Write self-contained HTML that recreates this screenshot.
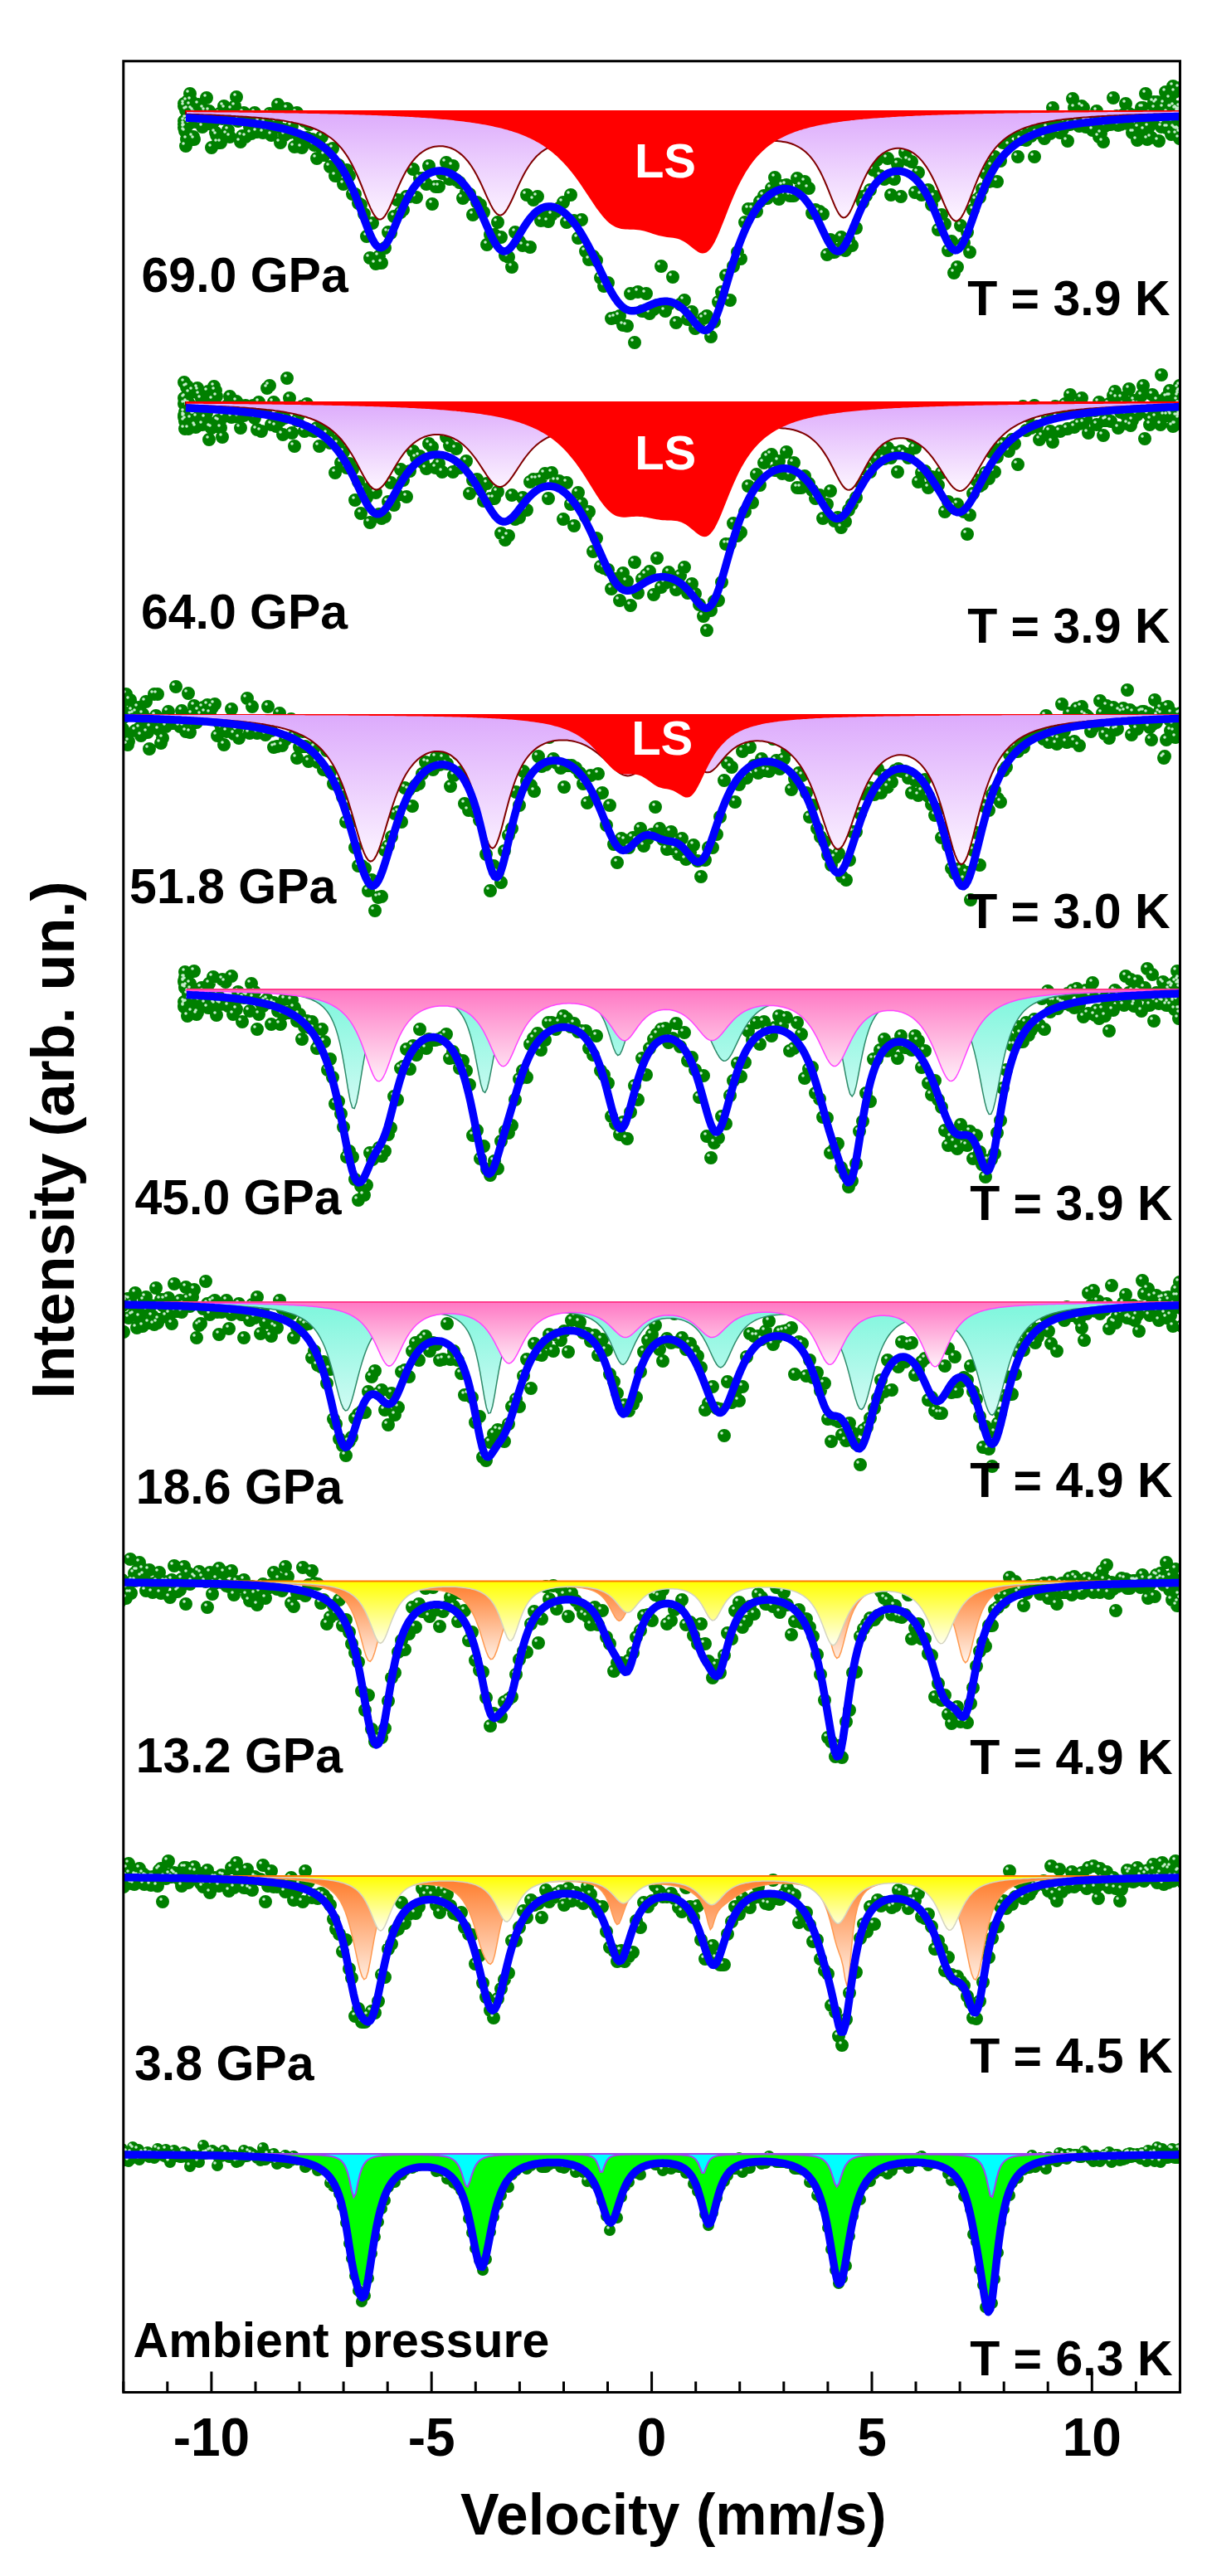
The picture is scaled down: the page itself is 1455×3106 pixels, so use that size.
<!DOCTYPE html>
<html><head><meta charset="utf-8"><style>html,body{margin:0;padding:0;background:#fff}svg{display:block;filter:blur(0.55px)}</style></head><body>
<svg width="1455" height="3106" viewBox="0 0 1455 3106" font-family="'Liberation Sans', sans-serif" font-weight="bold">
<defs>
<linearGradient id="gP" x1="0" y1="0" x2="0" y2="1"><stop offset="0" stop-color="#dcaafc"/><stop offset="1" stop-color="#fdf6ff"/></linearGradient>
<linearGradient id="gK" x1="0" y1="0" x2="0" y2="1"><stop offset="0" stop-color="#ff78c4"/><stop offset="1" stop-color="#fff0f8"/></linearGradient>
<linearGradient id="gC" x1="0" y1="0" x2="0" y2="1"><stop offset="0" stop-color="#7cf6dc"/><stop offset="1" stop-color="#d4fbf4"/></linearGradient>
<linearGradient id="gY" x1="0" y1="0" x2="0" y2="1"><stop offset="0" stop-color="#ffff00"/><stop offset="1" stop-color="#fffff4"/></linearGradient>
<linearGradient id="gO" x1="0" y1="0" x2="0" y2="1"><stop offset="0" stop-color="#ff7a28"/><stop offset="1" stop-color="#fff4ec"/></linearGradient>
<clipPath id="cp"><rect x="150" y="75" width="1271" height="2809"/></clipPath>
</defs>
<rect width="1455" height="3106" fill="#fff"/>
<g clip-path="url(#cp)">

<path d="M222 125h0m0 21h0m0 8h0m0 -4h0m0 -22h0m1 30h0m0 -5h0m0 0h0m0 0h0m1 6h0m0 17h0m0 -43h0m1 10h0m0 25h0m1 -46h0m0 25h0m1 -15h0m0 10h0m1 7h0m1 -36h0m0 14h0m1 -6h0m1 18h0m1 -7h0m1 33h0m0 -31h0m1 34h0m1 -31h0m1 10h0m1 -4h0m1 0h0m1 -17h0m2 22h0m1 1h0m1 -2h0m1 6h0m1 -22h0m2 8h0m1 -5h0m1 -16h0m2 31h0m1 -15h0m2 9h0m1 35h0m2 -31h0m1 -1h0m2 14h0m1 3h0m2 9h0m2 -35h0m1 35h0m2 -29h0m2 -15h0m2 3h0m2 31h0m1 -5h0m2 8h0m2 -33h0m2 9h0m2 -13h0m2 -11h0m2 29h0m3 25h0m2 -7h0m2 -28h0m2 29h0m2 -26h0m3 14h0m2 8h0m2 -18h0m2 -7h0m3 23h0m2 -12h0m3 -5h0m2 18h0m3 -12h0m2 9h0m3 -20h0m2 26h0m3 -25h0m3 9h0m2 -21h0m3 46h0m3 -16h0m2 7h0m3 -32h0m3 29h0m3 -8h0m3 25h0m3 -41h0m3 30h0m3 12h0m3 -32h0m3 20h0m3 -16h0m3 18h0m3 7h0m3 16h0m3 -15h0m3 -11h0m3 22h0m4 -6h0m3 20h0m3 -22h0m3 33h0m4 -13h0m3 6h0m3 17h0m4 -17h0m3 7h0m4 22h0m3 0h0m4 11h0m3 2h0m4 11h0m3 27h0m4 26h0m3 -42h0m4 49h0m4 -9h0m3 8h0m4 -18h0m4 -19h0m3 1h0m4 -20h0m4 -20h0m4 15h0m3 -3h0m4 -16h0m4 0h0m4 -33h0m4 34h0m4 -23h0m4 0h0m4 7h0m3 -22h0m4 46h0m4 -21h0m4 0h0m4 -16h0m5 -13h0m4 20h0m4 -16h0m4 17h0m4 3h0m4 19h0m4 -7h0m4 2h0m4 25h0m5 -15h0m4 3h0m4 9h0m4 39h0m4 -12h0m5 0h0m4 -15h0m4 18h0m5 22h0m4 2h0m4 12h0m4 -42h0m5 11h0m4 5h0m5 -61h0m4 63h0m4 -57h0m5 -4h0m4 29h0m5 -10h0m4 11h0m4 -8h0m5 -4h0m4 -4h0m5 -7h0m4 24h0m5 -33h0m4 31h0m5 21h0m4 -22h0m5 38h0m4 10h0m5 -4h0m4 5h0m5 21h0m4 10h0m5 -4h0m4 43h0m5 -1h0m5 -2h0m4 11h0m5 1h0m4 -39h0m5 59h0m4 -61h0m5 23h0m5 -21h0m4 24h0m5 -5h0m4 -5h0m5 -47h0m5 54h0m4 -8h0m5 -33h0m4 55h0m5 -22h0m5 -5h0m4 23h0m5 -9h0m4 20h0m5 -7h0m5 -5h0m4 -3h0m5 25h0m4 -18h0m5 -24h0m4 -12h0m5 -20h0m5 30h0m4 -41h0m5 -17h0m4 8h0m5 -44h0m4 -16h0m5 0h0m5 3h0m4 -12h0m5 -7h0m4 3h0m5 -12h0m4 -13h0m5 26h0m4 -16h0m5 -1h0m4 13h0m5 0h0m4 -21h0m5 9h0m4 -5h0m5 8h0m4 30h0m4 -4h0m5 2h0m4 3h0m5 49h0m4 -18h0m5 15h0m4 -3h0m4 -15h0m5 16h0m4 -13h0m4 7h0m5 -21h0m4 -38h0m4 7h0m4 -8h0m5 -7h0m4 -24h0m4 -12h0m4 19h0m5 4h0m4 -25h0m4 44h0m4 -19h0m4 -18h0m4 39h0m5 -53h0m4 9h0m4 2h0m4 37h0m4 -24h0m4 27h0m4 -1h0m4 -5h0m4 18h0m4 -10h0m4 40h0m4 -18h0m4 11h0m4 32h0m4 -11h0m3 38h0m4 -7h0m4 -50h0m4 21h0m4 -13h0m3 24h0m4 -51h0m4 -12h0m4 -3h0m3 -10h0m4 -19h0m4 10h0m3 -19h0m4 -11h0m3 30h0m4 -25h0m3 -22h0m4 -9h0m3 12h0m4 -17h0m3 -3h0m4 34h0m3 -21h0m3 -9h0m4 10h0m3 -13h0m3 8h0m4 25h0m3 -29h0m3 -10h0m3 -9h0m3 26h0m4 -13h0m3 7h0m3 -31h0m3 18h0m3 7h0m3 5h0m3 -4h0m3 -9h0m3 23h0m3 -20h0m3 -31h0m2 11h0m3 18h0m3 4h0m3 -24h0m2 2h0m3 23h0m3 -2h0m2 1h0m3 5h0m3 -10h0m2 -13h0m3 31h0m2 -4h0m3 10h0m2 -19h0m3 -4h0m2 1h0m2 1h0m3 -32h0m2 25h0m2 -3h0m2 11h0m3 -1h0m2 -10h0m2 -2h0m2 -13h0m2 24h0m2 -12h0m2 2h0m2 21h0m2 0h0m2 -21h0m2 30h0m2 -15h0m2 -10h0m1 -14h0m2 0h0m2 27h0m1 -44h0m2 55h0m2 -15h0m1 -16h0m2 29h0m1 -21h0m2 -22h0m1 8h0m2 -6h0m1 -2h0m2 47h0m1 -28h0m1 -4h0m1 15h0m2 -4h0m1 -19h0m1 -5h0m1 -14h0m1 43h0m1 -18h0m1 18h0m1 -14h0m1 -21h0m1 11h0m1 32h0m1 -32h0m1 17h0m0 -43h0m1 24h0m1 26h0m0 -43h0m1 45h0m1 -24h0m0 -1h0m1 31h0m0 -30h0m1 25h0m0 -22h0m0 11h0m1 10h0m0 1h0m0 -20h0m1 -31h0m0 61h0m0 -34h0m0 27h0m0 -31h0m0 6h0m0 8h0" stroke="#008000" stroke-width="16" stroke-linecap="round"/>
<path d="M220 122h0m0 21h0m0 8h0m0 -4h0m0 -22h0m0 30h0m0 -5h0m0 0h0m1 0h0m0 6h0m0 17h0m1 -43h0m0 10h0m1 25h0m0 -46h0m1 25h0m0 -15h0m1 10h0m1 7h0m0 -36h0m1 14h0m1 -6h0m0 18h0m1 -7h0m1 33h0m1 -31h0m1 34h0m1 -31h0m1 10h0m1 -4h0m1 0h0m1 -17h0m1 22h0m1 1h0m1 -2h0m2 6h0m1 -22h0m1 8h0m1 -5h0m2 -16h0m1 31h0m2 -15h0m1 9h0m2 35h0m1 -31h0m2 -1h0m1 14h0m2 3h0m1 9h0m2 -35h0m2 35h0m2 -29h0m1 -15h0m2 3h0m2 31h0m2 -5h0m2 8h0m2 -33h0m2 9h0m2 -13h0m2 -11h0m2 29h0m2 25h0m2 -7h0m2 -28h0m3 29h0m2 -26h0m2 14h0m2 8h0m3 -18h0m2 -7h0m2 23h0m3 -12h0m2 -5h0m3 18h0m2 -12h0m3 9h0m2 -20h0m3 26h0m2 -25h0m3 9h0m3 -21h0m2 46h0m3 -16h0m3 7h0m3 -32h0m3 29h0m2 -8h0m3 25h0m3 -41h0m3 30h0m3 12h0m3 -32h0m3 20h0m3 -16h0m3 18h0m3 7h0m3 16h0m3 -15h0m4 -11h0m3 22h0m3 -6h0m3 20h0m4 -22h0m3 33h0m3 -13h0m4 6h0m3 17h0m3 -17h0m4 7h0m3 22h0m4 0h0m3 11h0m4 2h0m3 11h0m4 27h0m3 26h0m4 -42h0m3 49h0m4 -9h0m4 8h0m3 -18h0m4 -19h0m4 1h0m4 -20h0m3 -20h0m4 15h0m4 -3h0m4 -16h0m4 0h0m3 -33h0m4 34h0m4 -23h0m4 0h0m4 7h0m4 -22h0m4 46h0m4 -21h0m4 0h0m4 -16h0m4 -13h0m4 20h0m4 -16h0m4 17h0m4 3h0m4 19h0m5 -7h0m4 2h0m4 25h0m4 -15h0m4 3h0m4 9h0m5 39h0m4 -12h0m4 0h0m4 -15h0m5 18h0m4 22h0m4 2h0m5 12h0m4 -42h0m4 11h0m5 5h0m4 -61h0m4 63h0m5 -57h0m4 -4h0m5 29h0m4 -10h0m4 11h0m5 -8h0m4 -4h0m5 -4h0m4 -7h0m5 24h0m4 -33h0m5 31h0m4 21h0m5 -22h0m4 38h0m5 10h0m4 -4h0m5 5h0m4 21h0m5 10h0m4 -4h0m5 43h0m4 -1h0m5 -2h0m5 11h0m4 1h0m5 -39h0m4 59h0m5 -61h0m4 23h0m5 -21h0m5 24h0m4 -5h0m5 -5h0m4 -47h0m5 54h0m5 -8h0m4 -33h0m5 55h0m4 -22h0m5 -5h0m5 23h0m4 -9h0m5 20h0m4 -7h0m5 -5h0m5 -3h0m4 25h0m5 -18h0m4 -24h0m5 -12h0m5 -20h0m4 30h0m5 -41h0m4 -17h0m5 8h0m4 -44h0m5 -16h0m5 0h0m4 3h0m5 -12h0m4 -7h0m5 3h0m4 -12h0m5 -13h0m4 26h0m5 -16h0m4 -1h0m5 13h0m4 0h0m5 -21h0m4 9h0m5 -5h0m4 8h0m5 30h0m4 -4h0m4 2h0m5 3h0m4 49h0m5 -18h0m4 15h0m4 -3h0m5 -15h0m4 16h0m4 -13h0m5 7h0m4 -21h0m4 -38h0m5 7h0m4 -8h0m4 -7h0m4 -24h0m5 -12h0m4 19h0m4 4h0m4 -25h0m5 44h0m4 -19h0m4 -18h0m4 39h0m4 -53h0m4 9h0m4 2h0m4 37h0m4 -24h0m4 27h0m4 -1h0m5 -5h0m3 18h0m4 -10h0m4 40h0m4 -18h0m4 11h0m4 32h0m4 -11h0m4 38h0m4 -7h0m4 -50h0m3 21h0m4 -13h0m4 24h0m4 -51h0m3 -12h0m4 -3h0m4 -10h0m3 -19h0m4 10h0m4 -19h0m3 -11h0m4 30h0m3 -25h0m4 -22h0m3 -9h0m4 12h0m3 -17h0m4 -3h0m3 34h0m4 -21h0m3 -9h0m3 10h0m4 -13h0m3 8h0m3 25h0m3 -29h0m4 -10h0m3 -9h0m3 26h0m3 -13h0m3 7h0m3 -31h0m3 18h0m3 7h0m3 5h0m3 -4h0m3 -9h0m3 23h0m3 -20h0m3 -31h0m3 11h0m3 18h0m2 4h0m3 -24h0m3 2h0m3 23h0m2 -2h0m3 1h0m3 5h0m2 -10h0m3 -13h0m2 31h0m3 -4h0m2 10h0m3 -19h0m2 -4h0m2 1h0m3 1h0m2 -32h0m2 25h0m3 -3h0m2 11h0m2 -1h0m2 -10h0m2 -2h0m3 -13h0m2 24h0m2 -12h0m2 2h0m2 21h0m2 0h0m1 -21h0m2 30h0m2 -15h0m2 -10h0m2 -14h0m2 0h0m1 27h0m2 -44h0m2 55h0m1 -15h0m2 -16h0m1 29h0m2 -21h0m1 -22h0m2 8h0m1 -6h0m2 -2h0m1 47h0m1 -28h0m2 -4h0m1 15h0m1 -4h0m1 -19h0m1 -5h0m2 -14h0m1 43h0m1 -18h0m1 18h0m1 -14h0m1 -21h0m1 11h0m0 32h0m1 -32h0m1 17h0m1 -43h0m1 24h0m0 26h0m1 -43h0m1 45h0m0 -24h0m1 -1h0m0 31h0m1 -30h0m0 25h0m1 -22h0m0 11h0m0 10h0m1 1h0m0 -20h0m0 -31h0m0 61h0m1 -34h0m0 27h0m0 -31h0m0 6h0m0 8h0" stroke="#c4eecb" stroke-width="3.6" stroke-linecap="round"/>
<path d="M224,133l0,4.6 2.5,0.1 2.5,0.1 2.5,0.1 2.5,0 2.5,0.1 2.5,0.1 2.5,0.1 2.5,0.1 2.5,0.1 2.5,0 2.5,0.1 2.5,0.1 2.5,0.1 2.5,0.1 2.5,0.1 2.5,0.1 2.5,0.2 2.5,0.1 2.5,0.1 2.5,0.1 2.5,0.1 2.5,0.2 2.5,0.1 2.5,0.2 2.5,0.1 2.5,0.2 2.5,0.1 2.5,0.2 2.5,0.1 2.5,0.2 2.5,0.2 2.5,0.2 2.5,0.2 2.5,0.2 2.5,0.2 2.5,0.2 2.5,0.3 2.5,0.2 2.5,0.3 2.5,0.3 2.5,0.2 2.5,0.3 2.5,0.4 2.5,0.3 2.5,0.3 2.5,0.4 2.5,0.4 2.5,0.4 2.5,0.4 2.5,0.5 2.5,0.4 2.5,0.6 2.5,0.5 2.5,0.6 2.5,0.6 2.5,0.6 2.5,0.7 2.5,0.8 2.5,0.8 2.5,0.8 2.5,0.9 2.5,1 2.5,1 2.5,1.2 2.5,1.2 2.5,1.3 2.5,1.5 2.5,1.6 2.5,1.7 2.5,1.8 2.5,2 2.5,2.2 2.5,2.4 2.5,2.7 2.5,2.9 2.5,3.1 2.5,3.5 2.5,3.8 2.5,4.1 2.5,4.5 2.5,4.9 2.5,5.3 2.5,5.6 2.5,6 2.5,6.2 2.5,6.4 2.5,6.5 2.5,6.2 2.5,5.9 2.5,5.1 2.5,4.2 2.5,2.9 2.5,1.6 2.5,0.1 2.5,-1.5 2.5,-2.8 2.5,-4 2.5,-4.8 2.5,-5.5 2.5,-5.9 2.5,-6 2.5,-5.9 2.5,-5.7 2.5,-5.5 2.5,-5 2.5,-4.7 2.5,-4.3 2.5,-3.9 2.5,-3.5 2.5,-3.1 2.5,-2.8 2.5,-2.4 2.5,-2.2 2.5,-1.9 2.5,-1.6 2.5,-1.4 2.5,-1.2 2.5,-0.9 2.5,-0.8 2.5,-0.5 2.5,-0.4 2.5,-0.2 2.5,0 2.5,0.1 2.5,0.4 2.5,0.5 2.5,0.7 2.5,0.9 2.5,1.1 2.5,1.3 2.5,1.6 2.5,1.8 2.5,2 2.5,2.3 2.5,2.7 2.5,2.9 2.5,3.3 2.5,3.7 2.5,4 2.5,4.4 2.5,4.8 2.5,5 2.5,5.4 2.5,5.6 2.5,5.6 2.5,5.4 2.5,5.2 2.5,4.6 2.5,3.7 2.5,2.7 2.5,1.4 2.5,0.1 2.5,-1.3 2.5,-2.6 2.5,-3.7 2.5,-4.5 2.5,-5.1 2.5,-5.4 2.5,-5.7 2.5,-5.5 2.5,-5.4 2.5,-5.1 2.5,-4.9 2.5,-4.4 2.5,-4.1 2.5,-3.7 2.5,-3.4 2.5,-3 2.5,-2.8 2.5,-2.4 2.5,-2.2 2.5,-1.9 2.5,-1.7 2.5,-1.5 2.5,-1.3 2.5,-1.1 2.5,-1 2.5,-0.7 2.5,-0.7 2.5,-0.4 2.5,-0.4 2.5,-0.2 2.5,0 2.5,0.1 2.5,0.2 2.5,0.3 2.5,0.5 2.5,0.7 2.5,0.8 2.5,0.9 2.5,1.1 2.5,1.2 2.5,1.3 2.5,1.4 2.5,1.4 2.5,1.5 2.5,1.4 2.5,1.3 2.5,1.1 2.5,0.8 2.5,0.4 2.5,0.1 2.5,-0.3 2.5,-0.7 2.5,-0.9 2.5,-1.2 2.5,-1.4 2.5,-1.4 2.5,-1.4 2.5,-1.4 2.5,-1.4 2.5,-1.2 2.5,-1.2 2.5,-1 2.5,-1 2.5,-0.8 2.5,-0.7 2.5,-0.6 2.5,-0.5 2.5,-0.5 2.5,-0.3 2.5,-0.3 2.5,-0.2 2.5,-0.2 2.5,-0.1 2.5,0 2.5,0 2.5,0 2.5,0.1 2.5,0.2 2.5,0.1 2.5,0.3 2.5,0.2 2.5,0.3 2.5,0.4 2.5,0.4 2.5,0.4 2.5,0.4 2.5,0.5 2.5,0.5 2.5,0.6 2.5,0.5 2.5,0.6 2.5,0.7 2.5,0.6 2.5,0.6 2.5,0.7 2.5,0.6 2.5,0.6 2.5,0.6 2.5,0.5 2.5,0.5 2.5,0.4 2.5,0.3 2.5,0.2 2.5,0.1 2.5,0 2.5,0 2.5,-0.2 2.5,-0.4 2.5,-0.4 2.5,-0.5 2.5,-0.5 2.5,-0.7 2.5,-0.7 2.5,-0.7 2.5,-0.7 2.5,-0.8 2.5,-0.8 2.5,-0.7 2.5,-0.8 2.5,-0.7 2.5,-0.6 2.5,-0.7 2.5,-0.6 2.5,-0.5 2.5,-0.5 2.5,-0.4 2.5,-0.3 2.5,-0.3 2.5,-0.2 2.5,-0.2 2.5,-0.1 2.5,0 2.5,0.1 2.5,0.2 2.5,0.2 2.5,0.4 2.5,0.4 2.5,0.5 2.5,0.7 2.5,0.8 2.5,0.9 2.5,1.1 2.5,1.3 2.5,1.4 2.5,1.6 2.5,1.9 2.5,2.1 2.5,2.3 2.5,2.7 2.5,3 2.5,3.4 2.5,3.7 2.5,4.2 2.5,4.6 2.5,5.1 2.5,5.5 2.5,5.9 2.5,6.1 2.5,6.4 2.5,6.2 2.5,5.9 2.5,5.3 2.5,4.3 2.5,2.9 2.5,1.3 2.5,-0.3 2.5,-2 2.5,-3.5 2.5,-4.7 2.5,-5.5 2.5,-6 2.5,-6.3 2.5,-6.2 2.5,-5.9 2.5,-5.6 2.5,-5.2 2.5,-4.8 2.5,-4.2 2.5,-3.9 2.5,-3.3 2.5,-3 2.5,-2.7 2.5,-2.2 2.5,-2 2.5,-1.6 2.5,-1.4 2.5,-1.1 2.5,-0.9 2.5,-0.6 2.5,-0.5 2.5,-0.2 2.5,0 2.5,0.2 2.5,0.5 2.5,0.6 2.5,0.8 2.5,1.1 2.5,1.4 2.5,1.5 2.5,1.9 2.5,2.1 2.5,2.5 2.5,2.8 2.5,3.1 2.5,3.5 2.5,3.9 2.5,4.3 2.5,4.7 2.5,5.1 2.5,5.5 2.5,5.7 2.5,6 2.5,6 2.5,5.8 2.5,5.5 2.5,4.9 2.5,3.9 2.5,2.8 2.5,1.5 2.5,-0.1 2.5,-1.6 2.5,-2.9 2.5,-4.2 2.5,-5.2 2.5,-5.8 2.5,-6.3 2.5,-6.5 2.5,-6.4 2.5,-6.3 2.5,-6.1 2.5,-5.7 2.5,-5.3 2.5,-5 2.5,-4.5 2.5,-4.2 2.5,-3.9 2.5,-3.5 2.5,-3.2 2.5,-3 2.5,-2.7 2.5,-2.4 2.5,-2.3 2.5,-2 2.5,-1.9 2.5,-1.8 2.5,-1.6 2.5,-1.4 2.5,-1.4 2.5,-1.3 2.5,-1.1 2.5,-1.1 2.5,-1 2.5,-0.9 2.5,-0.9 2.5,-0.8 2.5,-0.8 2.5,-0.7 2.5,-0.6 2.5,-0.7 2.5,-0.6 2.5,-0.5 2.5,-0.5 2.5,-0.5 2.5,-0.5 2.5,-0.4 2.5,-0.4 2.5,-0.4 2.5,-0.4 2.5,-0.4 2.5,-0.3 2.5,-0.3 2.5,-0.3 2.5,-0.3 2.5,-0.3 2.5,-0.3 2.5,-0.2 2.5,-0.3 2.5,-0.2 2.5,-0.2 2.5,-0.2 2.5,-0.2 2.5,-0.2 2.5,-0.2 2.5,-0.2 2.5,-0.2 2.5,-0.1 2.5,-0.2 2.5,-0.2 2.5,-0.1 2.5,-0.2 2.5,-0.1 2.5,-0.1 2.5,-0.2 2.5,-0.1 2.5,-0.1 2.5,-0.1 2.5,-0.1 2.5,-0.1 2.5,-0.2 2.5,-0.1 2.5,-0.1 2.5,-0.1 2.5,-0.1 2.5,0 2.5,-0.1 2.5,-0.1 2.5,-0.1 2.5,-0.1 2.5,-0.1 2.5,0 2.5,-0.1 2.5,-0.1 2.5,-0.1 2.5,0 2.5,-0.1 2.5,-0.1 2.5,0 2.5,-0.1 2.5,-0.1 2.5,0 2.5,-0.1 2.5,0 2.5,-0.1 2.5,-0.1 2.5,0 2.5,-0.1 2.5,0 1,0 0,-3.9" fill="url(#gP)" stroke="#800000" stroke-width="2"/>
<path d="M224,133l0,2.1 2.5,0 2.5,0 2.5,0 2.5,0.1 2.5,0 2.5,0 2.5,0 2.5,0 2.5,0.1 2.5,0 2.5,0 2.5,0 2.5,0 2.5,0.1 2.5,0 2.5,0 2.5,0 2.5,0.1 2.5,0 2.5,0 2.5,0 2.5,0.1 2.5,0 2.5,0 2.5,0 2.5,0.1 2.5,0 2.5,0 2.5,0 2.5,0.1 2.5,0 2.5,0 2.5,0.1 2.5,0 2.5,0 2.5,0.1 2.5,0 2.5,0 2.5,0.1 2.5,0 2.5,0 2.5,0.1 2.5,0 2.5,0 2.5,0.1 2.5,0 2.5,0 2.5,0.1 2.5,0 2.5,0.1 2.5,0 2.5,0.1 2.5,0 2.5,0 2.5,0.1 2.5,0 2.5,0.1 2.5,0 2.5,0.1 2.5,0 2.5,0.1 2.5,0 2.5,0.1 2.5,0 2.5,0.1 2.5,0 2.5,0.1 2.5,0 2.5,0.1 2.5,0.1 2.5,0 2.5,0.1 2.5,0 2.5,0.1 2.5,0.1 2.5,0 2.5,0.1 2.5,0.1 2.5,0 2.5,0.1 2.5,0.1 2.5,0.1 2.5,0 2.5,0.1 2.5,0.1 2.5,0.1 2.5,0.1 2.5,0 2.5,0.1 2.5,0.1 2.5,0.1 2.5,0.1 2.5,0.1 2.5,0.1 2.5,0.1 2.5,0.1 2.5,0.1 2.5,0.1 2.5,0.1 2.5,0.2 2.5,0.1 2.5,0.1 2.5,0.1 2.5,0.1 2.5,0.2 2.5,0.1 2.5,0.1 2.5,0.2 2.5,0.1 2.5,0.2 2.5,0.1 2.5,0.2 2.5,0.2 2.5,0.1 2.5,0.2 2.5,0.2 2.5,0.1 2.5,0.2 2.5,0.2 2.5,0.2 2.5,0.2 2.5,0.2 2.5,0.3 2.5,0.2 2.5,0.2 2.5,0.2 2.5,0.3 2.5,0.2 2.5,0.3 2.5,0.3 2.5,0.3 2.5,0.2 2.5,0.3 2.5,0.4 2.5,0.3 2.5,0.3 2.5,0.3 2.5,0.4 2.5,0.4 2.5,0.4 2.5,0.4 2.5,0.4 2.5,0.4 2.5,0.4 2.5,0.5 2.5,0.5 2.5,0.5 2.5,0.5 2.5,0.6 2.5,0.5 2.5,0.6 2.5,0.6 2.5,0.7 2.5,0.6 2.5,0.7 2.5,0.8 2.5,0.7 2.5,0.8 2.5,0.9 2.5,0.8 2.5,0.9 2.5,1 2.5,1 2.5,1.1 2.5,1.1 2.5,1.1 2.5,1.3 2.5,1.2 2.5,1.4 2.5,1.4 2.5,1.5 2.5,1.5 2.5,1.7 2.5,1.7 2.5,1.9 2.5,1.9 2.5,2 2.5,2.1 2.5,2.2 2.5,2.4 2.5,2.4 2.5,2.6 2.5,2.7 2.5,2.8 2.5,3 2.5,3.1 2.5,3.2 2.5,3.3 2.5,3.4 2.5,3.6 2.5,3.6 2.5,3.7 2.5,3.8 2.5,3.8 2.5,3.8 2.5,3.7 2.5,3.7 2.5,3.7 2.5,3.4 2.5,3.3 2.5,3.1 2.5,2.9 2.5,2.6 2.5,2.2 2.5,2 2.5,1.7 2.5,1.3 2.5,1.1 2.5,0.8 2.5,0.6 2.5,0.4 2.5,0.2 2.5,0.1 2.5,0.1 2.5,0.1 2.5,0 2.5,0.2 2.5,0.2 2.5,0.4 2.5,0.4 2.5,0.6 2.5,0.7 2.5,0.7 2.5,0.8 2.5,0.9 2.5,0.8 2.5,0.8 2.5,0.7 2.5,0.6 2.5,0.5 2.5,0.4 2.5,0.4 2.5,0.3 2.5,0.3 2.5,0.3 2.5,0.4 2.5,0.6 2.5,0.8 2.5,1.1 2.5,1.3 2.5,1.5 2.5,1.8 2.5,1.9 2.5,2 2.5,2 2.5,1.9 2.5,1.6 2.5,1.2 2.5,0.6 2.5,-0.2 2.5,-0.9 2.5,-1.8 2.5,-2.7 2.5,-3.6 2.5,-4.4 2.5,-5.1 2.5,-5.6 2.5,-6.1 2.5,-6.3 2.5,-6.4 2.5,-6.4 2.5,-6.4 2.5,-6.2 2.5,-5.9 2.5,-5.7 2.5,-5.5 2.5,-5.1 2.5,-4.8 2.5,-4.5 2.5,-4.3 2.5,-3.9 2.5,-3.7 2.5,-3.5 2.5,-3.2 2.5,-3 2.5,-2.8 2.5,-2.6 2.5,-2.4 2.5,-2.3 2.5,-2.1 2.5,-2 2.5,-1.9 2.5,-1.7 2.5,-1.7 2.5,-1.5 2.5,-1.5 2.5,-1.3 2.5,-1.3 2.5,-1.2 2.5,-1.2 2.5,-1.1 2.5,-1 2.5,-0.9 2.5,-1 2.5,-0.8 2.5,-0.9 2.5,-0.7 2.5,-0.8 2.5,-0.7 2.5,-0.7 2.5,-0.6 2.5,-0.6 2.5,-0.6 2.5,-0.6 2.5,-0.5 2.5,-0.5 2.5,-0.5 2.5,-0.5 2.5,-0.4 2.5,-0.5 2.5,-0.4 2.5,-0.4 2.5,-0.4 2.5,-0.3 2.5,-0.4 2.5,-0.3 2.5,-0.4 2.5,-0.3 2.5,-0.3 2.5,-0.3 2.5,-0.3 2.5,-0.2 2.5,-0.3 2.5,-0.3 2.5,-0.2 2.5,-0.2 2.5,-0.3 2.5,-0.2 2.5,-0.2 2.5,-0.2 2.5,-0.2 2.5,-0.2 2.5,-0.2 2.5,-0.2 2.5,-0.2 2.5,-0.1 2.5,-0.2 2.5,-0.2 2.5,-0.1 2.5,-0.2 2.5,-0.1 2.5,-0.2 2.5,-0.1 2.5,-0.2 2.5,-0.1 2.5,-0.1 2.5,-0.2 2.5,-0.1 2.5,-0.1 2.5,-0.1 2.5,-0.1 2.5,-0.2 2.5,-0.1 2.5,-0.1 2.5,-0.1 2.5,-0.1 2.5,-0.1 2.5,-0.1 2.5,-0.1 2.5,-0.1 2.5,0 2.5,-0.1 2.5,-0.1 2.5,-0.1 2.5,-0.1 2.5,-0.1 2.5,0 2.5,-0.1 2.5,-0.1 2.5,-0.1 2.5,0 2.5,-0.1 2.5,-0.1 2.5,0 2.5,-0.1 2.5,-0.1 2.5,0 2.5,-0.1 2.5,-0.1 2.5,0 2.5,-0.1 2.5,0 2.5,-0.1 2.5,0 2.5,-0.1 2.5,0 2.5,-0.1 2.5,0 2.5,-0.1 2.5,0 2.5,-0.1 2.5,0 2.5,-0.1 2.5,0 2.5,-0.1 2.5,0 2.5,-0.1 2.5,0 2.5,0 2.5,-0.1 2.5,0 2.5,-0.1 2.5,0 2.5,0 2.5,-0.1 2.5,0 2.5,0 2.5,-0.1 2.5,0 2.5,-0.1 2.5,0 2.5,0 2.5,-0.1 2.5,0 2.5,0 2.5,0 2.5,-0.1 2.5,0 2.5,0 2.5,-0.1 2.5,0 2.5,0 2.5,0 2.5,-0.1 2.5,0 2.5,0 2.5,-0.1 2.5,0 2.5,0 2.5,0 2.5,-0.1 2.5,0 2.5,0 2.5,0 2.5,0 2.5,-0.1 2.5,0 2.5,0 2.5,0 2.5,-0.1 2.5,0 2.5,0 2.5,0 2.5,0 2.5,-0.1 2.5,0 2.5,0 2.5,0 2.5,0 2.5,-0.1 2.5,0 2.5,0 2.5,0 2.5,0 2.5,0 2.5,-0.1 2.5,0 2.5,0 2.5,0 2.5,0 2.5,0 2.5,-0.1 2.5,0 2.5,0 2.5,0 2.5,0 2.5,0 2.5,-0.1 2.5,0 2.5,0 2.5,0 2.5,0 2.5,0 2.5,0 2.5,0 2.5,-0.1 2.5,0 2.5,0 2.5,0 1,0 0,-1.6" fill="#ff0000"/>
<text x="802.0" y="214.0" font-size="58" fill="#fff" text-anchor="middle">LS</text>
<path d="M224,142.1l2.5,0.1 2.5,0.1 2.5,0.2 2.5,0.1 2.5,0.2 2.5,0.1 2.5,0.1 2.5,0.2 2.5,0.1 2.5,0.2 2.5,0.2 2.5,0.1 2.5,0.2 2.5,0.2 2.5,0.2 2.5,0.1 2.5,0.2 2.5,0.2 2.5,0.2 2.5,0.2 2.5,0.3 2.5,0.2 2.5,0.2 2.5,0.3 2.5,0.2 2.5,0.3 2.5,0.2 2.5,0.3 2.5,0.3 2.5,0.3 2.5,0.3 2.5,0.3 2.5,0.3 2.5,0.4 2.5,0.3 2.5,0.4 2.5,0.4 2.5,0.4 2.5,0.4 2.5,0.4 2.5,0.5 2.5,0.5 2.5,0.5 2.5,0.5 2.5,0.5 2.5,0.6 2.5,0.6 2.5,0.6 2.5,0.7 2.5,0.7 2.5,0.7 2.5,0.8 2.5,0.9 2.5,0.8 2.5,0.9 2.5,1 2.5,1.1 2.5,1.1 2.5,1.2 2.5,1.2 2.5,1.3 2.5,1.5 2.5,1.5 2.5,1.6 2.5,1.8 2.5,1.9 2.5,2 2.5,2.2 2.5,2.4 2.5,2.5 2.5,2.8 2.5,2.9 2.5,3.3 2.5,3.4 2.5,3.8 2.5,4 2.5,4.4 2.5,4.7 2.5,5.1 2.5,5.4 2.5,5.8 2.5,6.1 2.5,6.5 2.5,6.6 2.5,6.9 2.5,6.9 2.5,6.7 2.5,6.5 2.5,6 2.5,5.3 2.5,4.4 2.5,3.2 2.5,1.9 2.5,0.5 2.5,-0.8 2.5,-2.1 2.5,-3.3 2.5,-4.3 2.5,-5 2.5,-5.6 2.5,-5.9 2.5,-6 2.5,-5.9 2.5,-5.8 2.5,-5.6 2.5,-5.2 2.5,-4.9 2.5,-4.5 2.5,-4.1 2.5,-3.8 2.5,-3.3 2.5,-3 2.5,-2.7 2.5,-2.3 2.5,-2 2.5,-1.8 2.5,-1.4 2.5,-1.2 2.5,-0.9 2.5,-0.6 2.5,-0.5 2.5,-0.2 2.5,0.1 2.5,0.2 2.5,0.5 2.5,0.7 2.5,0.9 2.5,1.2 2.5,1.4 2.5,1.7 2.5,1.9 2.5,2.1 2.5,2.5 2.5,2.7 2.5,3 2.5,3.4 2.5,3.6 2.5,4 2.5,4.4 2.5,4.6 2.5,4.9 2.5,5.2 2.5,5.5 2.5,5.6 2.5,5.6 2.5,5.7 2.5,5.4 2.5,5.1 2.5,4.6 2.5,4 2.5,3.1 2.5,2.1 2.5,1.2 2.5,0 2.5,-0.9 2.5,-1.8 2.5,-2.7 2.5,-3.3 2.5,-3.7 2.5,-4.1 2.5,-4.1 2.5,-4.2 2.5,-4.1 2.5,-3.9 2.5,-3.6 2.5,-3.3 2.5,-3 2.5,-2.6 2.5,-2.3 2.5,-1.9 2.5,-1.6 2.5,-1.2 2.5,-0.9 2.5,-0.5 2.5,-0.2 2.5,0 2.5,0.4 2.5,0.7 2.5,0.9 2.5,1.2 2.5,1.5 2.5,1.8 2.5,2 2.5,2.3 2.5,2.6 2.5,2.7 2.5,3.1 2.5,3.3 2.5,3.5 2.5,3.8 2.5,4 2.5,4.3 2.5,4.4 2.5,4.6 2.5,4.9 2.5,4.9 2.5,5.1 2.5,5.2 2.5,5.3 2.5,5.2 2.5,5.3 2.5,5.1 2.5,5 2.5,4.8 2.5,4.5 2.5,4.3 2.5,3.9 2.5,3.5 2.5,3 2.5,2.6 2.5,2.2 2.5,1.6 2.5,1.2 2.5,0.8 2.5,0.3 2.5,0 2.5,-0.3 2.5,-0.6 2.5,-0.8 2.5,-0.9 2.5,-1.1 2.5,-1.1 2.5,-1.1 2.5,-1.1 2.5,-1.1 2.5,-0.9 2.5,-0.8 2.5,-0.7 2.5,-0.6 2.5,-0.3 2.5,-0.2 2.5,0.1 2.5,0.3 2.5,0.5 2.5,0.8 2.5,1.1 2.5,1.3 2.5,1.7 2.5,1.9 2.5,2.2 2.5,2.5 2.5,2.8 2.5,3 2.5,3 2.5,3.2 2.5,3 2.5,2.7 2.5,2.4 2.5,1.7 2.5,0.8 2.5,-0.1 2.5,-1.2 2.5,-2.4 2.5,-3.7 2.5,-4.9 2.5,-5.9 2.5,-6.9 2.5,-7.5 2.5,-8.1 2.5,-8.4 2.5,-8.5 2.5,-8.5 2.5,-8.3 2.5,-8.1 2.5,-7.7 2.5,-7.4 2.5,-7 2.5,-6.5 2.5,-6.1 2.5,-5.8 2.5,-5.3 2.5,-4.9 2.5,-4.5 2.5,-4.2 2.5,-3.8 2.5,-3.6 2.5,-3.2 2.5,-2.9 2.5,-2.6 2.5,-2.4 2.5,-2.1 2.5,-1.8 2.5,-1.6 2.5,-1.4 2.5,-1.1 2.5,-0.9 2.5,-0.7 2.5,-0.4 2.5,-0.2 2.5,0.1 2.5,0.4 2.5,0.6 2.5,0.9 2.5,1.2 2.5,1.5 2.5,1.8 2.5,2.1 2.5,2.5 2.5,2.9 2.5,3.3 2.5,3.6 2.5,4 2.5,4.4 2.5,4.7 2.5,5 2.5,5.3 2.5,5.3 2.5,5.3 2.5,5.1 2.5,4.7 2.5,4.1 2.5,3.3 2.5,2.2 2.5,1.1 2.5,-0.2 2.5,-1.4 2.5,-2.7 2.5,-3.8 2.5,-4.6 2.5,-5.3 2.5,-5.8 2.5,-6 2.5,-6.2 2.5,-6 2.5,-5.9 2.5,-5.6 2.5,-5.3 2.5,-4.9 2.5,-4.5 2.5,-4.2 2.5,-3.8 2.5,-3.4 2.5,-3.1 2.5,-2.7 2.5,-2.4 2.5,-2.1 2.5,-1.8 2.5,-1.5 2.5,-1.3 2.5,-0.9 2.5,-0.8 2.5,-0.4 2.5,-0.2 2.5,0 2.5,0.3 2.5,0.6 2.5,0.8 2.5,1.1 2.5,1.3 2.5,1.7 2.5,2 2.5,2.3 2.5,2.7 2.5,3 2.5,3.4 2.5,3.8 2.5,4.2 2.5,4.6 2.5,5 2.5,5.4 2.5,5.8 2.5,6 2.5,6.2 2.5,6.3 2.5,6.2 2.5,5.9 2.5,5.4 2.5,4.6 2.5,3.7 2.5,2.4 2.5,1 2.5,-0.4 2.5,-1.8 2.5,-3.2 2.5,-4.5 2.5,-5.4 2.5,-6.2 2.5,-6.8 2.5,-7 2.5,-7.2 2.5,-7.1 2.5,-6.9 2.5,-6.7 2.5,-6.3 2.5,-6 2.5,-5.6 2.5,-5.3 2.5,-4.8 2.5,-4.5 2.5,-4.2 2.5,-3.8 2.5,-3.6 2.5,-3.3 2.5,-3 2.5,-2.8 2.5,-2.6 2.5,-2.4 2.5,-2.2 2.5,-2.1 2.5,-1.9 2.5,-1.8 2.5,-1.6 2.5,-1.6 2.5,-1.4 2.5,-1.4 2.5,-1.2 2.5,-1.2 2.5,-1.1 2.5,-1.1 2.5,-1 2.5,-0.9 2.5,-0.9 2.5,-0.8 2.5,-0.8 2.5,-0.7 2.5,-0.7 2.5,-0.7 2.5,-0.6 2.5,-0.6 2.5,-0.6 2.5,-0.5 2.5,-0.6 2.5,-0.4 2.5,-0.5 2.5,-0.5 2.5,-0.4 2.5,-0.4 2.5,-0.4 2.5,-0.4 2.5,-0.4 2.5,-0.3 2.5,-0.4 2.5,-0.3 2.5,-0.3 2.5,-0.3 2.5,-0.3 2.5,-0.3 2.5,-0.2 2.5,-0.3 2.5,-0.2 2.5,-0.3 2.5,-0.2 2.5,-0.2 2.5,-0.3 2.5,-0.2 2.5,-0.2 2.5,-0.2 2.5,-0.2 2.5,-0.2 2.5,-0.2 2.5,-0.1 2.5,-0.2 2.5,-0.2 2.5,-0.1 2.5,-0.2 2.5,-0.1 2.5,-0.2 2.5,-0.1 2.5,-0.2 2.5,-0.1 2.5,-0.2 2.5,-0.1 2.5,-0.1 2.5,-0.1 2.5,-0.2 2.5,-0.1 2.5,-0.1 2.5,-0.1 2.5,-0.1 2.5,-0.1 2.5,-0.1 2.5,-0.1 2.5,-0.1 2.5,-0.1 2.5,-0.1 2.5,-0.1 2.5,-0.1 2.5,-0.1 2.5,-0.1 1,0" fill="none" stroke="#0000ff" stroke-width="9.5" stroke-linejoin="round"/>
<path d="M222 480h0m0 -19h0m0 40h0m0 2h0m0 -16h0m1 10h0m0 20h0m0 -9h0m0 -6h0m1 0h0m0 -23h0m0 27h0m1 -39h0m0 20h0m1 -2h0m0 -19h0m1 24h0m0 27h0m1 -30h0m1 -13h0m0 17h0m1 14h0m1 -10h0m1 -3h0m1 -21h0m0 29h0m1 0h0m1 13h0m1 2h0m1 -12h0m1 -35h0m1 3h0m2 5h0m1 21h0m1 -16h0m1 31h0m1 -15h0m2 1h0m1 6h0m1 -6h0m2 -26h0m1 58h0m2 -15h0m1 1h0m2 -34h0m1 -16h0m2 5h0m1 7h0m2 29h0m2 1h0m1 8h0m2 11h0m2 -25h0m2 -2h0m2 -11h0m1 1h0m2 -12h0m2 25h0m2 -3h0m2 -10h0m2 -6h0m2 19h0m3 13h0m2 -18h0m2 3h0m2 -12h0m2 4h0m3 0h0m2 0h0m2 -4h0m2 15h0m3 14h0m2 -33h0m3 35h0m2 -26h0m3 1h0m2 -27h0m3 -3h0m2 47h0m3 -27h0m3 29h0m2 -10h0m3 3h0m3 17h0m2 -20h0m3 -48h0m3 24h0m3 42h0m3 16h0m3 -31h0m3 -8h0m3 -9h0m3 30h0m3 -33h0m3 9h0m3 23h0m3 1h0m3 -4h0m3 22h0m3 -32h0m3 3h0m4 14h0m3 11h0m3 -3h0m3 39h0m4 -35h0m3 23h0m3 -13h0m4 19h0m3 -5h0m4 7h0m3 37h0m4 -22h0m3 38h0m4 -29h0m3 10h0m4 30h0m3 -50h0m4 14h0m4 26h0m3 5h0m4 -2h0m4 -18h0m3 -23h0m4 27h0m4 -12h0m4 -31h0m3 13h0m4 20h0m4 -31h0m4 -24h0m4 8h0m4 -2h0m4 8h0m4 7h0m3 -30h0m4 4h0m4 25h0m4 -5h0m4 10h0m5 -42h0m4 10h0m4 32h0m4 -28h0m4 23h0m4 -2h0m4 -6h0m4 39h0m4 -16h0m5 -1h0m4 12h0m4 14h0m4 -21h0m4 18h0m5 0h0m4 -8h0m4 50h0m5 8h0m4 -5h0m4 -49h0m4 29h0m5 -2h0m4 -24h0m5 15h0m4 -34h0m4 -3h0m5 0h0m4 -1h0m5 -6h0m4 30h0m4 -31h0m5 10h0m4 0h0m5 46h0m4 -44h0m5 26h0m4 26h0m5 -40h0m4 13h0m5 16h0m4 -6h0m5 48h0m4 -16h0m5 34h0m4 2h0m5 2h0m4 23h0m5 -12h0m5 26h0m4 -33h0m5 10h0m4 29h0m5 -52h0m4 37h0m5 -17h0m5 -5h0m4 -4h0m5 28h0m4 -44h0m5 35h0m5 -5h0m4 -13h0m5 7h0m4 14h0m5 -17h0m5 -10h0m4 31h0m5 -11h0m4 12h0m5 13h0m5 14h0m4 17h0m5 -24h0m4 -11h0m5 -1h0m4 -22h0m5 -46h0m5 0h0m4 -25h0m5 15h0m4 -4h0m5 -25h0m4 -31h0m5 20h0m5 -34h0m4 13h0m5 -27h0m4 -7h0m5 -3h0m4 19h0m5 -11h0m4 15h0m5 -26h0m4 28h0m5 -15h0m4 30h0m5 0h0m4 -14h0m5 9h0m4 8h0m4 10h0m5 -4h0m4 28h0m5 -17h0m4 -16h0m5 36h0m4 -4h0m4 12h0m5 -7h0m4 -14h0m4 -7h0m5 -8h0m4 -19h0m4 -16h0m4 -1h0m5 5h0m4 -38h0m4 23h0m4 -11h0m5 10h0m4 -13h0m4 12h0m4 -6h0m4 23h0m4 -25h0m5 3h0m4 5h0m4 -26h0m4 14h0m4 41h0m4 -11h0m4 -2h0m4 20h0m4 -13h0m4 5h0m4 5h0m4 -15h0m4 47h0m4 -12h0m4 7h0m3 -1h0m4 -3h0m4 -24h0m4 33h0m4 27h0m3 -23h0m4 -26h0m4 -16h0m4 7h0m3 -2h0m4 -14h0m4 7h0m3 -32h0m4 24h0m3 -18h0m4 -15h0m3 -1h0m4 6h0m3 3h0m4 -14h0m3 5h0m4 25h0m3 -63h0m3 -7h0m4 29h0m3 -17h0m3 14h0m4 -27h0m3 25h0m3 16h0m3 -4h0m3 -34h0m4 11h0m3 17h0m3 13h0m3 -43h0m3 1h0m3 29h0m3 -23h0m3 -10h0m3 30h0m3 -41h0m3 14h0m2 25h0m3 -25h0m3 21h0m3 -31h0m2 30h0m3 -5h0m3 17h0m2 -28h0m3 -2h0m3 3h0m2 17h0m3 -27h0m2 9h0m3 31h0m2 -18h0m3 -1h0m2 -19h0m2 21h0m3 -31h0m2 -5h0m2 8h0m2 36h0m3 -19h0m2 -17h0m2 8h0m2 12h0m2 11h0m2 -42h0m2 44h0m2 -6h0m2 -24h0m2 4h0m2 13h0m2 -12h0m2 7h0m1 -18h0m2 -12h0m2 64h0m1 -34h0m2 1h0m2 4h0m1 12h0m2 -6h0m1 -30h0m2 14h0m1 3h0m2 10h0m1 -20h0m2 14h0m1 -2h0m1 17h0m1 -60h0m2 41h0m1 3h0m1 5h0m1 -10h0m1 -12h0m1 22h0m1 -4h0m1 -19h0m1 -7h0m1 28h0m1 -21h0m1 23h0m1 13h0m0 -20h0m1 0h0m1 -1h0m0 19h0m1 0h0m1 -20h0m0 10h0m1 -11h0m0 -8h0m1 19h0m0 -13h0m0 -11h0m1 -10h0m0 37h0m0 -29h0m1 -2h0m0 13h0m0 15h0m0 -37h0m0 35h0m0 -4h0m0 -24h0" stroke="#008000" stroke-width="16" stroke-linecap="round"/>
<path d="M220 477h0m0 -19h0m0 40h0m0 2h0m0 -16h0m0 10h0m0 20h0m0 -9h0m1 -6h0m0 0h0m0 -23h0m1 27h0m0 -39h0m1 20h0m0 -2h0m1 -19h0m0 24h0m1 27h0m1 -30h0m0 -13h0m1 17h0m1 14h0m0 -10h0m1 -3h0m1 -21h0m1 29h0m1 0h0m1 13h0m1 2h0m1 -12h0m1 -35h0m1 3h0m1 5h0m1 21h0m1 -16h0m2 31h0m1 -15h0m1 1h0m1 6h0m2 -6h0m1 -26h0m2 58h0m1 -15h0m2 1h0m1 -34h0m2 -16h0m1 5h0m2 7h0m1 29h0m2 1h0m2 8h0m2 11h0m1 -25h0m2 -2h0m2 -11h0m2 1h0m2 -12h0m2 25h0m2 -3h0m2 -10h0m2 -6h0m2 19h0m2 13h0m2 -18h0m2 3h0m3 -12h0m2 4h0m2 0h0m2 0h0m3 -4h0m2 15h0m2 14h0m3 -33h0m2 35h0m3 -26h0m2 1h0m3 -27h0m2 -3h0m3 47h0m2 -27h0m3 29h0m3 -10h0m2 3h0m3 17h0m3 -20h0m3 -48h0m3 24h0m2 42h0m3 16h0m3 -31h0m3 -8h0m3 -9h0m3 30h0m3 -33h0m3 9h0m3 23h0m3 1h0m3 -4h0m3 22h0m4 -32h0m3 3h0m3 14h0m3 11h0m4 -3h0m3 39h0m3 -35h0m4 23h0m3 -13h0m3 19h0m4 -5h0m3 7h0m4 37h0m3 -22h0m4 38h0m3 -29h0m4 10h0m3 30h0m4 -50h0m3 14h0m4 26h0m4 5h0m3 -2h0m4 -18h0m4 -23h0m4 27h0m3 -12h0m4 -31h0m4 13h0m4 20h0m4 -31h0m3 -24h0m4 8h0m4 -2h0m4 8h0m4 7h0m4 -30h0m4 4h0m4 25h0m4 -5h0m4 10h0m4 -42h0m4 10h0m4 32h0m4 -28h0m4 23h0m4 -2h0m5 -6h0m4 39h0m4 -16h0m4 -1h0m4 12h0m4 14h0m5 -21h0m4 18h0m4 0h0m4 -8h0m5 50h0m4 8h0m4 -5h0m5 -49h0m4 29h0m4 -2h0m5 -24h0m4 15h0m4 -34h0m5 -3h0m4 0h0m5 -1h0m4 -6h0m4 30h0m5 -31h0m4 10h0m5 0h0m4 46h0m5 -44h0m4 26h0m5 26h0m4 -40h0m5 13h0m4 16h0m5 -6h0m4 48h0m5 -16h0m4 34h0m5 2h0m4 2h0m5 23h0m4 -12h0m5 26h0m5 -33h0m4 10h0m5 29h0m4 -52h0m5 37h0m4 -17h0m5 -5h0m5 -4h0m4 28h0m5 -44h0m4 35h0m5 -5h0m5 -13h0m4 7h0m5 14h0m4 -17h0m5 -10h0m5 31h0m4 -11h0m5 12h0m4 13h0m5 14h0m5 17h0m4 -24h0m5 -11h0m4 -1h0m5 -22h0m5 -46h0m4 0h0m5 -25h0m4 15h0m5 -4h0m4 -25h0m5 -31h0m5 20h0m4 -34h0m5 13h0m4 -27h0m5 -7h0m4 -3h0m5 19h0m4 -11h0m5 15h0m4 -26h0m5 28h0m4 -15h0m5 30h0m4 0h0m5 -14h0m4 9h0m5 8h0m4 10h0m4 -4h0m5 28h0m4 -17h0m5 -16h0m4 36h0m4 -4h0m5 12h0m4 -7h0m4 -14h0m5 -7h0m4 -8h0m4 -19h0m5 -16h0m4 -1h0m4 5h0m4 -38h0m5 23h0m4 -11h0m4 10h0m4 -13h0m5 12h0m4 -6h0m4 23h0m4 -25h0m4 3h0m4 5h0m4 -26h0m4 14h0m4 41h0m4 -11h0m4 -2h0m5 20h0m3 -13h0m4 5h0m4 5h0m4 -15h0m4 47h0m4 -12h0m4 7h0m4 -1h0m4 -3h0m4 -24h0m3 33h0m4 27h0m4 -23h0m4 -26h0m3 -16h0m4 7h0m4 -2h0m3 -14h0m4 7h0m4 -32h0m3 24h0m4 -18h0m3 -15h0m4 -1h0m3 6h0m4 3h0m3 -14h0m4 5h0m3 25h0m4 -63h0m3 -7h0m3 29h0m4 -17h0m3 14h0m3 -27h0m3 25h0m4 16h0m3 -4h0m3 -34h0m3 11h0m3 17h0m3 13h0m3 -43h0m3 1h0m3 29h0m3 -23h0m3 -10h0m3 30h0m3 -41h0m3 14h0m3 25h0m3 -25h0m2 21h0m3 -31h0m3 30h0m3 -5h0m2 17h0m3 -28h0m3 -2h0m2 3h0m3 17h0m2 -27h0m3 9h0m2 31h0m3 -18h0m2 -1h0m2 -19h0m3 21h0m2 -31h0m2 -5h0m3 8h0m2 36h0m2 -19h0m2 -17h0m2 8h0m3 12h0m2 11h0m2 -42h0m2 44h0m2 -6h0m2 -24h0m1 4h0m2 13h0m2 -12h0m2 7h0m2 -18h0m2 -12h0m1 64h0m2 -34h0m2 1h0m1 4h0m2 12h0m1 -6h0m2 -30h0m1 14h0m2 3h0m1 10h0m2 -20h0m1 14h0m1 -2h0m2 17h0m1 -60h0m1 41h0m1 3h0m1 5h0m2 -10h0m1 -12h0m1 22h0m1 -4h0m1 -19h0m1 -7h0m1 28h0m0 -21h0m1 23h0m1 13h0m1 -20h0m1 0h0m0 -1h0m1 19h0m1 0h0m0 -20h0m1 10h0m0 -11h0m1 -8h0m0 19h0m1 -13h0m0 -11h0m0 -10h0m1 37h0m0 -29h0m0 -2h0m0 13h0m1 15h0m0 -37h0m0 35h0m0 -4h0m0 -24h0" stroke="#c4eecb" stroke-width="3.6" stroke-linecap="round"/>
<path d="M224,484l0,4.6 2.5,0 2.5,0.1 2.5,0.1 2.5,0.1 2.5,0 2.5,0.1 2.5,0.1 2.5,0.1 2.5,0.1 2.5,0.1 2.5,0.1 2.5,0.1 2.5,0.1 2.5,0.1 2.5,0.1 2.5,0.1 2.5,0.1 2.5,0.1 2.5,0.1 2.5,0.1 2.5,0.2 2.5,0.1 2.5,0.1 2.5,0.2 2.5,0.1 2.5,0.2 2.5,0.1 2.5,0.2 2.5,0.2 2.5,0.2 2.5,0.2 2.5,0.1 2.5,0.2 2.5,0.3 2.5,0.2 2.5,0.2 2.5,0.2 2.5,0.3 2.5,0.3 2.5,0.2 2.5,0.3 2.5,0.3 2.5,0.4 2.5,0.3 2.5,0.3 2.5,0.4 2.5,0.4 2.5,0.4 2.5,0.5 2.5,0.4 2.5,0.5 2.5,0.5 2.5,0.6 2.5,0.6 2.5,0.6 2.5,0.7 2.5,0.7 2.5,0.7 2.5,0.9 2.5,0.8 2.5,1 2.5,1 2.5,1 2.5,1.2 2.5,1.3 2.5,1.3 2.5,1.5 2.5,1.6 2.5,1.7 2.5,1.9 2.5,2 2.5,2.2 2.5,2.4 2.5,2.6 2.5,2.8 2.5,3.1 2.5,3.3 2.5,3.6 2.5,3.8 2.5,4 2.5,4.3 2.5,4.5 2.5,4.7 2.5,4.7 2.5,4.7 2.5,4.5 2.5,4.3 2.5,3.7 2.5,3.1 2.5,2.3 2.5,1.4 2.5,0.4 2.5,-0.6 2.5,-1.6 2.5,-2.4 2.5,-3.1 2.5,-3.6 2.5,-4 2.5,-4.2 2.5,-4.3 2.5,-4.3 2.5,-4.1 2.5,-3.9 2.5,-3.7 2.5,-3.4 2.5,-3.2 2.5,-2.9 2.5,-2.6 2.5,-2.3 2.5,-2.1 2.5,-1.9 2.5,-1.6 2.5,-1.5 2.5,-1.2 2.5,-1.1 2.5,-0.8 2.5,-0.7 2.5,-0.6 2.5,-0.4 2.5,-0.2 2.5,-0.1 2.5,0 2.5,0.2 2.5,0.4 2.5,0.4 2.5,0.7 2.5,0.7 2.5,1 2.5,1.1 2.5,1.3 2.5,1.4 2.5,1.7 2.5,1.9 2.5,2 2.5,2.3 2.5,2.5 2.5,2.8 2.5,2.9 2.5,3.2 2.5,3.4 2.5,3.6 2.5,3.8 2.5,3.8 2.5,3.8 2.5,3.8 2.5,3.6 2.5,3.2 2.5,2.9 2.5,2.2 2.5,1.6 2.5,0.8 2.5,0 2.5,-0.9 2.5,-1.5 2.5,-2.3 2.5,-2.8 2.5,-3.3 2.5,-3.6 2.5,-3.7 2.5,-3.9 2.5,-3.8 2.5,-3.7 2.5,-3.6 2.5,-3.4 2.5,-3.2 2.5,-2.9 2.5,-2.8 2.5,-2.5 2.5,-2.3 2.5,-2.1 2.5,-1.9 2.5,-1.7 2.5,-1.5 2.5,-1.4 2.5,-1.2 2.5,-1 2.5,-0.9 2.5,-0.8 2.5,-0.6 2.5,-0.5 2.5,-0.4 2.5,-0.2 2.5,-0.2 2.5,0 2.5,0.1 2.5,0.3 2.5,0.4 2.5,0.5 2.5,0.6 2.5,0.8 2.5,0.9 2.5,1 2.5,1.1 2.5,1.2 2.5,1.2 2.5,1.3 2.5,1.2 2.5,1.1 2.5,1 2.5,0.6 2.5,0.4 2.5,0.1 2.5,-0.3 2.5,-0.7 2.5,-0.8 2.5,-1.1 2.5,-1.2 2.5,-1.3 2.5,-1.3 2.5,-1.3 2.5,-1.2 2.5,-1.2 2.5,-1 2.5,-0.9 2.5,-0.9 2.5,-0.7 2.5,-0.6 2.5,-0.6 2.5,-0.5 2.5,-0.4 2.5,-0.3 2.5,-0.3 2.5,-0.2 2.5,-0.1 2.5,-0.1 2.5,-0.1 2.5,0 2.5,0 2.5,0.1 2.5,0.1 2.5,0.2 2.5,0.2 2.5,0.2 2.5,0.2 2.5,0.3 2.5,0.3 2.5,0.4 2.5,0.4 2.5,0.4 2.5,0.5 2.5,0.5 2.5,0.5 2.5,0.5 2.5,0.6 2.5,0.6 2.5,0.6 2.5,0.6 2.5,0.6 2.5,0.6 2.5,0.6 2.5,0.5 2.5,0.5 2.5,0.4 2.5,0.3 2.5,0.2 2.5,0.2 2.5,0 2.5,-0.1 2.5,-0.3 2.5,-0.3 2.5,-0.4 2.5,-0.6 2.5,-0.6 2.5,-0.7 2.5,-0.7 2.5,-0.8 2.5,-0.8 2.5,-0.8 2.5,-0.7 2.5,-0.8 2.5,-0.8 2.5,-0.7 2.5,-0.7 2.5,-0.6 2.5,-0.6 2.5,-0.6 2.5,-0.5 2.5,-0.4 2.5,-0.4 2.5,-0.4 2.5,-0.2 2.5,-0.3 2.5,-0.1 2.5,-0.1 2.5,-0.1 2.5,0 2.5,0.1 2.5,0.2 2.5,0.2 2.5,0.3 2.5,0.4 2.5,0.5 2.5,0.5 2.5,0.7 2.5,0.8 2.5,0.9 2.5,1 2.5,1.2 2.5,1.3 2.5,1.5 2.5,1.7 2.5,2 2.5,2.1 2.5,2.4 2.5,2.7 2.5,3 2.5,3.3 2.5,3.7 2.5,3.9 2.5,4.3 2.5,4.6 2.5,4.8 2.5,5 2.5,4.9 2.5,4.7 2.5,4.2 2.5,3.5 2.5,2.6 2.5,1.5 2.5,0.2 2.5,-1 2.5,-2.2 2.5,-3.2 2.5,-4 2.5,-4.4 2.5,-4.7 2.5,-4.7 2.5,-4.6 2.5,-4.5 2.5,-4.1 2.5,-3.8 2.5,-3.4 2.5,-3.1 2.5,-2.7 2.5,-2.4 2.5,-2.1 2.5,-1.8 2.5,-1.6 2.5,-1.2 2.5,-1.1 2.5,-0.8 2.5,-0.6 2.5,-0.4 2.5,-0.2 2.5,0 2.5,0.1 2.5,0.4 2.5,0.5 2.5,0.7 2.5,0.9 2.5,1.1 2.5,1.4 2.5,1.5 2.5,1.7 2.5,1.9 2.5,2.2 2.5,2.4 2.5,2.7 2.5,2.9 2.5,3.1 2.5,3.4 2.5,3.6 2.5,3.7 2.5,3.9 2.5,3.9 2.5,4 2.5,3.8 2.5,3.6 2.5,3.3 2.5,2.8 2.5,2.1 2.5,1.5 2.5,0.6 2.5,-0.2 2.5,-1.1 2.5,-1.8 2.5,-2.6 2.5,-3.2 2.5,-3.7 2.5,-4 2.5,-4.3 2.5,-4.4 2.5,-4.4 2.5,-4.3 2.5,-4.2 2.5,-4.1 2.5,-3.8 2.5,-3.7 2.5,-3.4 2.5,-3.2 2.5,-3 2.5,-2.8 2.5,-2.6 2.5,-2.4 2.5,-2.2 2.5,-2.1 2.5,-1.9 2.5,-1.8 2.5,-1.6 2.5,-1.5 2.5,-1.5 2.5,-1.3 2.5,-1.2 2.5,-1.2 2.5,-1 2.5,-1 2.5,-1 2.5,-0.9 2.5,-0.8 2.5,-0.8 2.5,-0.7 2.5,-0.7 2.5,-0.6 2.5,-0.6 2.5,-0.6 2.5,-0.5 2.5,-0.5 2.5,-0.5 2.5,-0.5 2.5,-0.4 2.5,-0.4 2.5,-0.4 2.5,-0.4 2.5,-0.3 2.5,-0.3 2.5,-0.4 2.5,-0.3 2.5,-0.3 2.5,-0.2 2.5,-0.3 2.5,-0.3 2.5,-0.2 2.5,-0.2 2.5,-0.3 2.5,-0.2 2.5,-0.2 2.5,-0.2 2.5,-0.2 2.5,-0.2 2.5,-0.1 2.5,-0.2 2.5,-0.2 2.5,-0.1 2.5,-0.2 2.5,-0.1 2.5,-0.2 2.5,-0.1 2.5,-0.1 2.5,-0.2 2.5,-0.1 2.5,-0.1 2.5,-0.1 2.5,-0.1 2.5,-0.1 2.5,-0.1 2.5,-0.2 2.5,-0.1 2.5,0 2.5,-0.1 2.5,-0.1 2.5,-0.1 2.5,-0.1 2.5,-0.1 2.5,-0.1 2.5,-0.1 2.5,0 2.5,-0.1 2.5,-0.1 2.5,0 2.5,-0.1 2.5,-0.1 2.5,-0.1 2.5,0 2.5,-0.1 2.5,0 2.5,-0.1 2.5,-0.1 2.5,0 2.5,-0.1 1,0 0,-4" fill="url(#gP)" stroke="#800000" stroke-width="2"/>
<path d="M224,484l0,2.7 2.5,0 2.5,0 2.5,0 2.5,0.1 2.5,0 2.5,0 2.5,0 2.5,0 2.5,0.1 2.5,0 2.5,0 2.5,0 2.5,0 2.5,0.1 2.5,0 2.5,0 2.5,0 2.5,0 2.5,0.1 2.5,0 2.5,0 2.5,0 2.5,0.1 2.5,0 2.5,0 2.5,0 2.5,0.1 2.5,0 2.5,0 2.5,0 2.5,0.1 2.5,0 2.5,0 2.5,0 2.5,0.1 2.5,0 2.5,0 2.5,0.1 2.5,0 2.5,0 2.5,0 2.5,0.1 2.5,0 2.5,0 2.5,0.1 2.5,0 2.5,0 2.5,0.1 2.5,0 2.5,0.1 2.5,0 2.5,0 2.5,0.1 2.5,0 2.5,0 2.5,0.1 2.5,0 2.5,0.1 2.5,0 2.5,0 2.5,0.1 2.5,0 2.5,0.1 2.5,0 2.5,0.1 2.5,0 2.5,0.1 2.5,0 2.5,0.1 2.5,0 2.5,0.1 2.5,0 2.5,0.1 2.5,0 2.5,0.1 2.5,0 2.5,0.1 2.5,0.1 2.5,0 2.5,0.1 2.5,0.1 2.5,0 2.5,0.1 2.5,0.1 2.5,0 2.5,0.1 2.5,0.1 2.5,0 2.5,0.1 2.5,0.1 2.5,0.1 2.5,0.1 2.5,0 2.5,0.1 2.5,0.1 2.5,0.1 2.5,0.1 2.5,0.1 2.5,0.1 2.5,0.1 2.5,0.1 2.5,0.1 2.5,0.1 2.5,0.1 2.5,0.1 2.5,0.1 2.5,0.2 2.5,0.1 2.5,0.1 2.5,0.1 2.5,0.2 2.5,0.1 2.5,0.1 2.5,0.2 2.5,0.1 2.5,0.2 2.5,0.1 2.5,0.2 2.5,0.1 2.5,0.2 2.5,0.2 2.5,0.2 2.5,0.2 2.5,0.1 2.5,0.2 2.5,0.2 2.5,0.3 2.5,0.2 2.5,0.2 2.5,0.2 2.5,0.3 2.5,0.2 2.5,0.3 2.5,0.2 2.5,0.3 2.5,0.3 2.5,0.3 2.5,0.3 2.5,0.3 2.5,0.3 2.5,0.4 2.5,0.3 2.5,0.4 2.5,0.4 2.5,0.4 2.5,0.4 2.5,0.4 2.5,0.5 2.5,0.4 2.5,0.5 2.5,0.5 2.5,0.6 2.5,0.5 2.5,0.6 2.5,0.6 2.5,0.6 2.5,0.7 2.5,0.7 2.5,0.7 2.5,0.8 2.5,0.8 2.5,0.8 2.5,0.9 2.5,0.9 2.5,1 2.5,1 2.5,1.1 2.5,1.1 2.5,1.2 2.5,1.2 2.5,1.4 2.5,1.4 2.5,1.4 2.5,1.6 2.5,1.7 2.5,1.7 2.5,1.8 2.5,2 2.5,2 2.5,2.2 2.5,2.3 2.5,2.5 2.5,2.5 2.5,2.7 2.5,2.9 2.5,3 2.5,3.1 2.5,3.3 2.5,3.4 2.5,3.6 2.5,3.7 2.5,3.8 2.5,3.9 2.5,4 2.5,4.1 2.5,4 2.5,4 2.5,4 2.5,3.8 2.5,3.6 2.5,3.4 2.5,3.2 2.5,2.8 2.5,2.5 2.5,2.1 2.5,1.8 2.5,1.4 2.5,1 2.5,0.7 2.5,0.4 2.5,0.2 2.5,0 2.5,-0.2 2.5,-0.2 2.5,-0.2 2.5,-0.1 2.5,-0.2 2.5,0 2.5,0.1 2.5,0.2 2.5,0.3 2.5,0.3 2.5,0.5 2.5,0.5 2.5,0.5 2.5,0.5 2.5,0.5 2.5,0.4 2.5,0.3 2.5,0.3 2.5,0.1 2.5,0.1 2.5,0.1 2.5,0 2.5,0.2 2.5,0.2 2.5,0.4 2.5,0.7 2.5,0.8 2.5,1.1 2.5,1.4 2.5,1.7 2.5,1.9 2.5,2 2.5,2.2 2.5,2.1 2.5,1.9 2.5,1.6 2.5,1.1 2.5,0.5 2.5,-0.3 2.5,-1.2 2.5,-2.2 2.5,-3 2.5,-3.9 2.5,-4.7 2.5,-5.3 2.5,-5.8 2.5,-6.1 2.5,-6.3 2.5,-6.3 2.5,-6.2 2.5,-6.1 2.5,-5.9 2.5,-5.6 2.5,-5.3 2.5,-5 2.5,-4.8 2.5,-4.4 2.5,-4.1 2.5,-3.8 2.5,-3.6 2.5,-3.3 2.5,-3.1 2.5,-2.8 2.5,-2.7 2.5,-2.5 2.5,-2.3 2.5,-2.1 2.5,-2 2.5,-1.9 2.5,-1.8 2.5,-1.6 2.5,-1.6 2.5,-1.4 2.5,-1.3 2.5,-1.3 2.5,-1.2 2.5,-1.1 2.5,-1.1 2.5,-1 2.5,-1 2.5,-0.9 2.5,-0.8 2.5,-0.8 2.5,-0.8 2.5,-0.7 2.5,-0.7 2.5,-0.6 2.5,-0.7 2.5,-0.6 2.5,-0.5 2.5,-0.6 2.5,-0.5 2.5,-0.5 2.5,-0.4 2.5,-0.5 2.5,-0.4 2.5,-0.4 2.5,-0.4 2.5,-0.4 2.5,-0.4 2.5,-0.3 2.5,-0.4 2.5,-0.3 2.5,-0.3 2.5,-0.3 2.5,-0.3 2.5,-0.3 2.5,-0.2 2.5,-0.3 2.5,-0.3 2.5,-0.2 2.5,-0.2 2.5,-0.3 2.5,-0.2 2.5,-0.2 2.5,-0.2 2.5,-0.2 2.5,-0.2 2.5,-0.2 2.5,-0.1 2.5,-0.2 2.5,-0.2 2.5,-0.1 2.5,-0.2 2.5,-0.2 2.5,-0.1 2.5,-0.2 2.5,-0.1 2.5,-0.1 2.5,-0.2 2.5,-0.1 2.5,-0.1 2.5,-0.1 2.5,-0.2 2.5,-0.1 2.5,-0.1 2.5,-0.1 2.5,-0.1 2.5,-0.1 2.5,-0.1 2.5,-0.1 2.5,-0.1 2.5,-0.1 2.5,-0.1 2.5,-0.1 2.5,-0.1 2.5,-0.1 2.5,-0.1 2.5,0 2.5,-0.1 2.5,-0.1 2.5,-0.1 2.5,0 2.5,-0.1 2.5,-0.1 2.5,-0.1 2.5,0 2.5,-0.1 2.5,-0.1 2.5,0 2.5,-0.1 2.5,-0.1 2.5,0 2.5,-0.1 2.5,0 2.5,-0.1 2.5,0 2.5,-0.1 2.5,-0.1 2.5,0 2.5,-0.1 2.5,0 2.5,-0.1 2.5,0 2.5,0 2.5,-0.1 2.5,0 2.5,-0.1 2.5,0 2.5,-0.1 2.5,0 2.5,-0.1 2.5,0 2.5,0 2.5,-0.1 2.5,0 2.5,-0.1 2.5,0 2.5,0 2.5,-0.1 2.5,0 2.5,0 2.5,-0.1 2.5,0 2.5,0 2.5,-0.1 2.5,0 2.5,0 2.5,-0.1 2.5,0 2.5,0 2.5,-0.1 2.5,0 2.5,0 2.5,0 2.5,-0.1 2.5,0 2.5,0 2.5,-0.1 2.5,0 2.5,0 2.5,0 2.5,-0.1 2.5,0 2.5,0 2.5,0 2.5,-0.1 2.5,0 2.5,0 2.5,0 2.5,-0.1 2.5,0 2.5,0 2.5,0 2.5,0 2.5,-0.1 2.5,0 2.5,0 2.5,0 2.5,0 2.5,-0.1 2.5,0 2.5,0 2.5,0 2.5,0 2.5,-0.1 2.5,0 2.5,0 2.5,0 2.5,0 2.5,0 2.5,-0.1 2.5,0 2.5,0 2.5,0 2.5,0 2.5,0 2.5,-0.1 2.5,0 2.5,0 2.5,0 2.5,0 2.5,0 2.5,-0.1 2.5,0 2.5,0 2.5,0 2.5,0 2.5,0 2.5,0 2.5,-0.1 2.5,0 2.5,0 2.5,0 2.5,0 2.5,0 2.5,0 1,0 0,-2.3" fill="#ff0000"/>
<text x="802.2" y="565.6" font-size="58" fill="#fff" text-anchor="middle">LS</text>
<path d="M224,491.8l2.5,0.2 2.5,0.1 2.5,0.1 2.5,0.1 2.5,0.1 2.5,0.2 2.5,0.1 2.5,0.1 2.5,0.2 2.5,0.1 2.5,0.2 2.5,0.1 2.5,0.2 2.5,0.2 2.5,0.1 2.5,0.2 2.5,0.2 2.5,0.2 2.5,0.2 2.5,0.2 2.5,0.2 2.5,0.2 2.5,0.2 2.5,0.2 2.5,0.2 2.5,0.3 2.5,0.2 2.5,0.3 2.5,0.3 2.5,0.2 2.5,0.3 2.5,0.3 2.5,0.3 2.5,0.4 2.5,0.3 2.5,0.4 2.5,0.3 2.5,0.4 2.5,0.4 2.5,0.4 2.5,0.5 2.5,0.4 2.5,0.5 2.5,0.5 2.5,0.5 2.5,0.6 2.5,0.6 2.5,0.6 2.5,0.7 2.5,0.6 2.5,0.8 2.5,0.7 2.5,0.8 2.5,0.9 2.5,0.9 2.5,0.9 2.5,1.1 2.5,1 2.5,1.2 2.5,1.2 2.5,1.3 2.5,1.5 2.5,1.5 2.5,1.6 2.5,1.7 2.5,1.8 2.5,2 2.5,2.1 2.5,2.3 2.5,2.5 2.5,2.6 2.5,2.9 2.5,3.1 2.5,3.2 2.5,3.6 2.5,3.8 2.5,4 2.5,4.3 2.5,4.5 2.5,4.8 2.5,4.9 2.5,5.2 2.5,5.2 2.5,5.3 2.5,5.2 2.5,5 2.5,4.7 2.5,4.2 2.5,3.5 2.5,2.8 2.5,2 2.5,0.9 2.5,0.1 2.5,-1 2.5,-1.9 2.5,-2.6 2.5,-3.3 2.5,-3.8 2.5,-4.2 2.5,-4.4 2.5,-4.5 2.5,-4.5 2.5,-4.4 2.5,-4.2 2.5,-4 2.5,-3.7 2.5,-3.5 2.5,-3.2 2.5,-2.9 2.5,-2.7 2.5,-2.3 2.5,-2.1 2.5,-1.9 2.5,-1.6 2.5,-1.4 2.5,-1.1 2.5,-0.9 2.5,-0.7 2.5,-0.5 2.5,-0.3 2.5,-0.2 2.5,0.1 2.5,0.3 2.5,0.4 2.5,0.6 2.5,0.9 2.5,1 2.5,1.2 2.5,1.4 2.5,1.6 2.5,1.9 2.5,2 2.5,2.3 2.5,2.5 2.5,2.8 2.5,3 2.5,3.2 2.5,3.5 2.5,3.8 2.5,3.9 2.5,4.2 2.5,4.3 2.5,4.4 2.5,4.5 2.5,4.4 2.5,4.4 2.5,4.1 2.5,3.8 2.5,3.4 2.5,2.8 2.5,2.2 2.5,1.4 2.5,0.8 2.5,-0.1 2.5,-0.7 2.5,-1.5 2.5,-2 2.5,-2.4 2.5,-2.9 2.5,-3 2.5,-3.3 2.5,-3.2 2.5,-3.2 2.5,-3.1 2.5,-2.9 2.5,-2.7 2.5,-2.5 2.5,-2.1 2.5,-2 2.5,-1.6 2.5,-1.3 2.5,-1.1 2.5,-0.7 2.5,-0.5 2.5,-0.2 2.5,0.1 2.5,0.4 2.5,0.6 2.5,1 2.5,1.1 2.5,1.5 2.5,1.7 2.5,2 2.5,2.3 2.5,2.5 2.5,2.8 2.5,3.1 2.5,3.4 2.5,3.6 2.5,4 2.5,4.2 2.5,4.4 2.5,4.7 2.5,5 2.5,5.1 2.5,5.4 2.5,5.5 2.5,5.6 2.5,5.7 2.5,5.7 2.5,5.7 2.5,5.5 2.5,5.4 2.5,5 2.5,4.7 2.5,4.3 2.5,3.8 2.5,3.2 2.5,2.6 2.5,2.1 2.5,1.4 2.5,0.8 2.5,0.3 2.5,-0.2 2.5,-0.6 2.5,-1 2.5,-1.3 2.5,-1.4 2.5,-1.6 2.5,-1.6 2.5,-1.6 2.5,-1.5 2.5,-1.4 2.5,-1.2 2.5,-1.1 2.5,-0.8 2.5,-0.7 2.5,-0.4 2.5,-0.3 2.5,0 2.5,0.1 2.5,0.4 2.5,0.5 2.5,0.7 2.5,0.9 2.5,1.1 2.5,1.4 2.5,1.5 2.5,1.8 2.5,2.1 2.5,2.3 2.5,2.7 2.5,2.8 2.5,3.1 2.5,3.2 2.5,3.2 2.5,3 2.5,2.8 2.5,2.2 2.5,1.4 2.5,0.5 2.5,-0.7 2.5,-2 2.5,-3.3 2.5,-4.6 2.5,-5.8 2.5,-6.9 2.5,-7.7 2.5,-8.4 2.5,-8.7 2.5,-8.9 2.5,-8.8 2.5,-8.7 2.5,-8.4 2.5,-8 2.5,-7.6 2.5,-7.1 2.5,-6.7 2.5,-6.1 2.5,-5.8 2.5,-5.2 2.5,-4.9 2.5,-4.4 2.5,-4.1 2.5,-3.7 2.5,-3.3 2.5,-3 2.5,-2.8 2.5,-2.4 2.5,-2.1 2.5,-1.9 2.5,-1.7 2.5,-1.4 2.5,-1.1 2.5,-0.9 2.5,-0.7 2.5,-0.5 2.5,-0.2 2.5,-0.1 2.5,0.2 2.5,0.5 2.5,0.7 2.5,0.9 2.5,1.2 2.5,1.4 2.5,1.7 2.5,2 2.5,2.3 2.5,2.6 2.5,2.8 2.5,3.1 2.5,3.4 2.5,3.7 2.5,3.8 2.5,4 2.5,4.1 2.5,4.1 2.5,4 2.5,3.7 2.5,3.4 2.5,2.9 2.5,2.2 2.5,1.4 2.5,0.6 2.5,-0.3 2.5,-1.2 2.5,-2 2.5,-2.8 2.5,-3.4 2.5,-3.9 2.5,-4.3 2.5,-4.5 2.5,-4.6 2.5,-4.6 2.5,-4.5 2.5,-4.3 2.5,-4.2 2.5,-3.9 2.5,-3.6 2.5,-3.4 2.5,-3.1 2.5,-2.8 2.5,-2.5 2.5,-2.3 2.5,-2 2.5,-1.7 2.5,-1.6 2.5,-1.2 2.5,-1.1 2.5,-0.9 2.5,-0.6 2.5,-0.4 2.5,-0.3 2.5,0 2.5,0.2 2.5,0.4 2.5,0.6 2.5,0.8 2.5,1 2.5,1.2 2.5,1.5 2.5,1.7 2.5,1.9 2.5,2.1 2.5,2.5 2.5,2.6 2.5,2.9 2.5,3.2 2.5,3.4 2.5,3.6 2.5,3.8 2.5,3.9 2.5,4.1 2.5,4.1 2.5,4.1 2.5,4 2.5,3.7 2.5,3.3 2.5,2.9 2.5,2.4 2.5,1.6 2.5,0.9 2.5,0 2.5,-0.8 2.5,-1.6 2.5,-2.3 2.5,-3.1 2.5,-3.6 2.5,-4.1 2.5,-4.4 2.5,-4.7 2.5,-4.8 2.5,-4.9 2.5,-4.8 2.5,-4.7 2.5,-4.6 2.5,-4.4 2.5,-4.2 2.5,-4 2.5,-3.8 2.5,-3.5 2.5,-3.4 2.5,-3.1 2.5,-3 2.5,-2.7 2.5,-2.6 2.5,-2.4 2.5,-2.2 2.5,-2.1 2.5,-2 2.5,-1.8 2.5,-1.8 2.5,-1.6 2.5,-1.5 2.5,-1.4 2.5,-1.3 2.5,-1.3 2.5,-1.2 2.5,-1.1 2.5,-1 2.5,-1 2.5,-0.9 2.5,-0.9 2.5,-0.8 2.5,-0.8 2.5,-0.8 2.5,-0.7 2.5,-0.6 2.5,-0.7 2.5,-0.6 2.5,-0.6 2.5,-0.5 2.5,-0.5 2.5,-0.5 2.5,-0.5 2.5,-0.5 2.5,-0.4 2.5,-0.4 2.5,-0.4 2.5,-0.4 2.5,-0.4 2.5,-0.3 2.5,-0.4 2.5,-0.3 2.5,-0.3 2.5,-0.3 2.5,-0.3 2.5,-0.3 2.5,-0.2 2.5,-0.3 2.5,-0.3 2.5,-0.2 2.5,-0.2 2.5,-0.3 2.5,-0.2 2.5,-0.2 2.5,-0.2 2.5,-0.2 2.5,-0.2 2.5,-0.2 2.5,-0.1 2.5,-0.2 2.5,-0.2 2.5,-0.2 2.5,-0.1 2.5,-0.2 2.5,-0.1 2.5,-0.2 2.5,-0.1 2.5,-0.1 2.5,-0.2 2.5,-0.1 2.5,-0.1 2.5,-0.2 2.5,-0.1 2.5,-0.1 2.5,-0.1 2.5,-0.1 2.5,-0.1 2.5,-0.1 2.5,-0.2 2.5,-0.1 2.5,-0.1 2.5,-0.1 2.5,0 2.5,-0.1 2.5,-0.1 2.5,-0.1 2.5,-0.1 1,0" fill="none" stroke="#0000ff" stroke-width="9.5" stroke-linejoin="round"/>
<path d="M141 875h0m2 23h0m1 -18h0m1 -31h0m2 8h0m1 22h0m1 -14h0m2 19h0m1 -47h0m2 61h0m1 -4h0m2 -50h0m1 18h0m2 -5h0m2 4h0m1 20h0m2 -22h0m2 -6h0m1 25h0m2 9h0m2 -26h0m2 11h0m2 -26h0m2 37h0m2 20h0m2 -26h0m2 -10h0m2 -30h0m2 26h0m2 -26h0m2 43h0m2 16h0m2 -6h0m2 -19h0m2 5h0m3 -18h0m2 14h0m2 0h0m3 -3h0m2 -41h0m2 45h0m3 3h0m2 -19h0m3 19h0m2 6h0m3 -46h0m2 47h0m3 -22h0m2 -10h0m3 20h0m3 -14h0m2 5h0m3 -9h0m3 6h0m2 -9h0m3 10h0m3 -7h0m3 -4h0m3 38h0m2 -16h0m3 7h0m3 20h0m3 -16h0m3 -10h0m3 -17h0m3 30h0m3 -4h0m3 9h0m3 -18h0m3 -3h0m4 -27h0m3 42h0m3 -32h0m3 17h0m3 15h0m4 -6h0m3 -2h0m3 10h0m3 -34h0m4 29h0m3 20h0m4 -1h0m3 -40h0m3 39h0m4 -7h0m3 -20h0m4 -5h0m3 21h0m4 26h0m3 -13h0m4 -19h0m3 18h0m4 18h0m4 -15h0m3 -2h0m4 18h0m4 -35h0m3 44h0m4 -23h0m4 26h0m4 14h0m3 1h0m4 -1h0m4 16h0m4 30h0m4 -22h0m3 21h0m4 32h0m4 22h0m4 0h0m4 3h0m4 27h0m4 -13h0m4 37h0m4 -16h0m4 -1h0m4 -56h0m4 -5h0m4 -11h0m4 -28h0m4 -2h0m4 12h0m4 -41h0m5 2h0m4 20h0m4 -25h0m4 -2h0m4 -12h0m4 -14h0m5 1h0m4 8h0m4 -15h0m4 9h0m4 -8h0m5 7h0m4 27h0m4 -13h0m5 -26h0m4 22h0m4 38h0m5 8h0m4 -36h0m4 38h0m5 10h0m4 -21h0m4 62h0m5 44h0m4 -30h0m5 8h0m4 12h0m4 -38h0m5 -19h0m4 -8h0m5 -44h0m4 16h0m5 -41h0m4 12h0m5 5h0m4 7h0m5 -42h0m4 12h0m5 -2h0m4 -33h0m5 26h0m4 5h0m5 6h0m4 23h0m5 -26h0m4 0h0m5 3h0m5 6h0m4 13h0m5 23h0m4 -33h0m5 26h0m4 -28h0m5 23h0m5 39h0m4 -24h0m5 47h0m4 22h0m5 -29h0m4 2h0m5 9h0m5 -12h0m4 3h0m5 -14h0m4 21h0m5 -9h0m5 -5h0m4 -33h0m5 26h0m4 13h0m5 12h0m5 -21h0m4 21h0m5 6h0m4 -19h0m5 25h0m5 -8h0m4 -9h0m5 19h0m4 19h0m5 -20h0m4 -15h0m5 0h0m5 -16h0m4 -21h0m5 -44h0m4 -21h0m5 5h0m4 42h0m5 -21h0m4 -40h0m5 32h0m4 -37h0m5 22h0m5 9h0m4 -17h0m5 14h0m4 1h0m5 -39h0m4 26h0m4 10h0m5 -12h0m4 -10h0m5 47h0m4 -13h0m5 -7h0m4 3h0m5 21h0m4 29h0m4 -14h0m5 28h0m4 10h0m5 6h0m4 16h0m4 12h0m5 -9h0m4 -5h0m4 28h0m5 4h0m4 -24h0m4 -34h0m4 0h0m5 -22h0m4 -24h0m4 -5h0m4 -2h0m5 8h0m4 -31h0m4 29h0m4 -21h0m4 14h0m5 -6h0m4 -14h0m4 -2h0m4 3h0m4 0h0m4 8h0m4 18h0m4 -15h0m4 18h0m4 -5h0m4 -14h0m4 20h0m4 10h0m4 13h0m4 -7h0m4 34h0m4 -11h0m4 21h0m4 27h0m4 6h0m3 -5h0m4 0h0m4 12h0m4 -8h0m4 33h0m3 -60h0m4 -21h0m4 39h0m4 -72h0m3 2h0m4 4h0m4 -19h0m3 -5h0m4 10h0m3 4h0m4 -38h0m3 -4h0m4 -15h0m3 -8h0m4 -2h0m3 6h0m4 -14h0m3 9h0m4 -14h0m3 -11h0m3 9h0m4 -1h0m3 -5h0m3 -1h0m4 13h0m3 -28h0m3 32h0m3 -24h0m3 6h0m4 20h0m3 -6h0m3 -42h0m3 32h0m3 14h0m3 -35h0m3 7h0m3 27h0m3 -40h0m3 45h0m3 -47h0m3 9h0m3 2h0m2 2h0m3 17h0m3 -5h0m3 -4h0m3 0h0m2 -28h0m3 15h0m3 25h0m2 -34h0m3 39h0m3 -24h0m2 -13h0m3 27h0m2 -1h0m3 -22h0m2 2h0m2 -5h0m3 4h0m2 -26h0m3 24h0m2 30h0m2 -27h0m2 13h0m3 7h0m2 -10h0m2 -10h0m2 -1h0m2 0h0m3 13h0m2 -11h0m2 17h0m2 15h0m2 -19h0m2 -29h0m2 27h0m1 -8h0m2 -4h0m2 -5h0m2 7h0m2 53h0m1 -2h0m2 -20h0m2 -40h0m2 16h0m1 13h0m2 -21h0m1 14h0m2 8h0m1 7h0m2 -17h0m1 -2h0m2 -9h0m1 -1h0m2 7h0m1 -4h0m1 13h0m2 -7h0m1 -8h0" stroke="#008000" stroke-width="16" stroke-linecap="round"/>
<path d="M139 872h0m1 23h0m1 -18h0m2 -31h0m1 8h0m1 22h0m2 -14h0m1 19h0m2 -47h0m1 61h0m2 -4h0m1 -50h0m2 18h0m1 -5h0m2 4h0m2 20h0m1 -22h0m2 -6h0m2 25h0m2 9h0m2 -26h0m1 11h0m2 -26h0m2 37h0m2 20h0m2 -26h0m2 -10h0m2 -30h0m2 26h0m2 -26h0m2 43h0m2 16h0m3 -6h0m2 -19h0m2 5h0m2 -18h0m2 14h0m3 0h0m2 -3h0m2 -41h0m3 45h0m2 3h0m3 -19h0m2 19h0m3 6h0m2 -46h0m3 47h0m2 -22h0m3 -10h0m2 20h0m3 -14h0m3 5h0m2 -9h0m3 6h0m3 -9h0m3 10h0m2 -7h0m3 -4h0m3 38h0m3 -16h0m3 7h0m3 20h0m3 -16h0m3 -10h0m3 -17h0m3 30h0m3 -4h0m3 9h0m3 -18h0m3 -3h0m3 -27h0m3 42h0m3 -32h0m4 17h0m3 15h0m3 -6h0m3 -2h0m4 10h0m3 -34h0m3 29h0m4 20h0m3 -1h0m3 -40h0m4 39h0m3 -7h0m4 -20h0m3 -5h0m4 21h0m3 26h0m4 -13h0m3 -19h0m4 18h0m4 18h0m3 -15h0m4 -2h0m3 18h0m4 -35h0m4 44h0m4 -23h0m3 26h0m4 14h0m4 1h0m4 -1h0m3 16h0m4 30h0m4 -22h0m4 21h0m4 32h0m4 22h0m4 0h0m4 3h0m3 27h0m4 -13h0m4 37h0m4 -16h0m4 -1h0m4 -56h0m4 -5h0m5 -11h0m4 -28h0m4 -2h0m4 12h0m4 -41h0m4 2h0m4 20h0m4 -25h0m4 -2h0m5 -12h0m4 -14h0m4 1h0m4 8h0m4 -15h0m5 9h0m4 -8h0m4 7h0m5 27h0m4 -13h0m4 -26h0m4 22h0m5 38h0m4 8h0m4 -36h0m5 38h0m4 10h0m5 -21h0m4 62h0m4 44h0m5 -30h0m4 8h0m5 12h0m4 -38h0m4 -19h0m5 -8h0m4 -44h0m5 16h0m4 -41h0m5 12h0m4 5h0m5 7h0m4 -42h0m5 12h0m4 -2h0m5 -33h0m4 26h0m5 5h0m4 6h0m5 23h0m4 -26h0m5 0h0m4 3h0m5 6h0m5 13h0m4 23h0m5 -33h0m4 26h0m5 -28h0m4 23h0m5 39h0m5 -24h0m4 47h0m5 22h0m4 -29h0m5 2h0m5 9h0m4 -12h0m5 3h0m4 -14h0m5 21h0m5 -9h0m4 -5h0m5 -33h0m4 26h0m5 13h0m4 12h0m5 -21h0m5 21h0m4 6h0m5 -19h0m4 25h0m5 -8h0m5 -9h0m4 19h0m5 19h0m4 -20h0m5 -15h0m5 0h0m4 -16h0m5 -21h0m4 -44h0m5 -21h0m4 5h0m5 42h0m4 -21h0m5 -40h0m4 32h0m5 -37h0m5 22h0m4 9h0m5 -17h0m4 14h0m5 1h0m4 -39h0m4 26h0m5 10h0m4 -12h0m5 -10h0m4 47h0m5 -13h0m4 -7h0m5 3h0m4 21h0m4 29h0m5 -14h0m4 28h0m5 10h0m4 6h0m4 16h0m5 12h0m4 -9h0m4 -5h0m5 28h0m4 4h0m4 -24h0m5 -34h0m4 0h0m4 -22h0m4 -24h0m5 -5h0m4 -2h0m4 8h0m4 -31h0m5 29h0m4 -21h0m4 14h0m4 -6h0m4 -14h0m4 -2h0m4 3h0m5 0h0m4 8h0m4 18h0m4 -15h0m4 18h0m4 -5h0m4 -14h0m4 20h0m4 10h0m4 13h0m4 -7h0m4 34h0m3 -11h0m4 21h0m4 27h0m4 6h0m4 -5h0m4 0h0m4 12h0m3 -8h0m4 33h0m4 -60h0m4 -21h0m3 39h0m4 -72h0m4 2h0m3 4h0m4 -19h0m4 -5h0m3 10h0m4 4h0m3 -38h0m4 -4h0m3 -15h0m4 -8h0m3 -2h0m4 6h0m3 -14h0m4 9h0m3 -14h0m4 -11h0m3 9h0m3 -1h0m4 -5h0m3 -1h0m3 13h0m3 -28h0m4 32h0m3 -24h0m3 6h0m3 20h0m3 -6h0m3 -42h0m3 32h0m3 14h0m4 -35h0m3 7h0m3 27h0m3 -40h0m2 45h0m3 -47h0m3 9h0m3 2h0m3 2h0m3 17h0m3 -5h0m2 -4h0m3 0h0m3 -28h0m2 15h0m3 25h0m3 -34h0m2 39h0m3 -24h0m3 -13h0m2 27h0m3 -1h0m2 -22h0m3 2h0m2 -5h0m2 4h0m3 -26h0m2 24h0m2 30h0m3 -27h0m2 13h0m2 7h0m2 -10h0m3 -10h0m2 -1h0m2 0h0m2 13h0m2 -11h0m2 17h0m2 15h0m2 -19h0m2 -29h0m2 27h0m2 -8h0m2 -4h0m2 -5h0m1 7h0m2 53h0m2 -2h0m2 -20h0m1 -40h0m2 16h0m2 13h0m1 -21h0m2 14h0m1 8h0m2 7h0m1 -17h0m2 -2h0m1 -9h0m2 -1h0m1 7h0m1 -4h0m2 13h0m1 -7h0m1 -8h0" stroke="#c4eecb" stroke-width="3.6" stroke-linecap="round"/>
<path d="M148.8,861l0,3.1 2.5,0.1 2.5,0 2.5,0.1 2.5,0 2.5,0.1 2.5,0 2.5,0.1 2.5,0 2.5,0.1 2.5,0 2.5,0.1 2.5,0 2.5,0.1 2.5,0 2.5,0.1 2.5,0.1 2.5,0 2.5,0.1 2.5,0.1 2.5,0 2.5,0.1 2.5,0.1 2.5,0 2.5,0.1 2.5,0.1 2.5,0.1 2.5,0.1 2.5,0 2.5,0.1 2.5,0.1 2.5,0.1 2.5,0.1 2.5,0.1 2.5,0.1 2.5,0.1 2.5,0.1 2.5,0.1 2.5,0.2 2.5,0.1 2.5,0.1 2.5,0.1 2.5,0.2 2.5,0.1 2.5,0.1 2.5,0.2 2.5,0.1 2.5,0.2 2.5,0.2 2.5,0.1 2.5,0.2 2.5,0.2 2.5,0.2 2.5,0.2 2.5,0.2 2.5,0.2 2.5,0.2 2.5,0.3 2.5,0.2 2.5,0.3 2.5,0.3 2.5,0.2 2.5,0.3 2.5,0.3 2.5,0.4 2.5,0.3 2.5,0.4 2.5,0.3 2.5,0.4 2.5,0.5 2.5,0.4 2.5,0.5 2.5,0.4 2.5,0.6 2.5,0.5 2.5,0.6 2.5,0.6 2.5,0.6 2.5,0.7 2.5,0.8 2.5,0.8 2.5,0.8 2.5,0.9 2.5,0.9 2.5,1.1 2.5,1.1 2.5,1.1 2.5,1.3 2.5,1.4 2.5,1.4 2.5,1.6 2.5,1.7 2.5,1.9 2.5,2 2.5,2.2 2.5,2.4 2.5,2.6 2.5,2.9 2.5,3.1 2.5,3.4 2.5,3.7 2.5,4.1 2.5,4.4 2.5,4.9 2.5,5.4 2.5,5.8 2.5,6.3 2.5,6.9 2.5,7.3 2.5,7.9 2.5,8.3 2.5,8.6 2.5,8.8 2.5,8.7 2.5,8.4 2.5,7.7 2.5,6.7 2.5,5.2 2.5,3.6 2.5,1.6 2.5,-0.5 2.5,-2.5 2.5,-4.3 2.5,-5.8 2.5,-7 2.5,-7.9 2.5,-8.3 2.5,-8.4 2.5,-8.3 2.5,-8.1 2.5,-7.7 2.5,-7.1 2.5,-6.7 2.5,-6.1 2.5,-5.6 2.5,-5.1 2.5,-4.6 2.5,-4.1 2.5,-3.7 2.5,-3.3 2.5,-3 2.5,-2.6 2.5,-2.3 2.5,-2.1 2.5,-1.7 2.5,-1.5 2.5,-1.3 2.5,-1 2.5,-0.9 2.5,-0.6 2.5,-0.4 2.5,-0.2 2.5,0 2.5,0.3 2.5,0.4 2.5,0.7 2.5,0.9 2.5,1.2 2.5,1.5 2.5,1.8 2.5,2.1 2.5,2.5 2.5,3 2.5,3.4 2.5,4 2.5,4.5 2.5,5.3 2.5,5.9 2.5,6.7 2.5,7.4 2.5,8.2 2.5,8.9 2.5,9.3 2.5,9.5 2.5,9.1 2.5,8.2 2.5,6.5 2.5,4.2 2.5,1.4 2.5,-1.5 2.5,-4.4 2.5,-6.7 2.5,-8.3 2.5,-9.3 2.5,-9.8 2.5,-9.6 2.5,-9.1 2.5,-8.6 2.5,-7.8 2.5,-7 2.5,-6.3 2.5,-5.5 2.5,-5 2.5,-4.3 2.5,-3.9 2.5,-3.4 2.5,-2.9 2.5,-2.7 2.5,-2.3 2.5,-2 2.5,-1.7 2.5,-1.6 2.5,-1.3 2.5,-1.2 2.5,-1 2.5,-0.8 2.5,-0.7 2.5,-0.6 2.5,-0.4 2.5,-0.4 2.5,-0.2 2.5,-0.1 2.5,0 2.5,0 2.5,0.2 2.5,0.3 2.5,0.4 2.5,0.5 2.5,0.6 2.5,0.7 2.5,0.8 2.5,0.9 2.5,1.1 2.5,1.1 2.5,1.4 2.5,1.4 2.5,1.6 2.5,1.7 2.5,1.8 2.5,2 2.5,2.2 2.5,2.2 2.5,2.3 2.5,2.5 2.5,2.4 2.5,2.5 2.5,2.4 2.5,2.3 2.5,2.1 2.5,1.9 2.5,1.5 2.5,1.2 2.5,0.7 2.5,0.3 2.5,-0.2 2.5,-0.6 2.5,-1.1 2.5,-1.4 2.5,-1.7 2.5,-1.9 2.5,-2.1 2.5,-2.1 2.5,-2.2 2.5,-2.2 2.5,-2 2.5,-2 2.5,-1.9 2.5,-1.6 2.5,-1.5 2.5,-1.4 2.5,-1.1 2.5,-0.9 2.5,-0.7 2.5,-0.6 2.5,-0.2 2.5,-0.1 2.5,0.2 2.5,0.4 2.5,0.6 2.5,0.9 2.5,1.2 2.5,1.5 2.5,1.8 2.5,2 2.5,2.2 2.5,2.5 2.5,2.5 2.5,2.6 2.5,2.4 2.5,2 2.5,1.6 2.5,0.9 2.5,0.1 2.5,-0.6 2.5,-1.5 2.5,-2.1 2.5,-2.5 2.5,-2.9 2.5,-3 2.5,-3 2.5,-3 2.5,-2.7 2.5,-2.5 2.5,-2.3 2.5,-2.1 2.5,-1.8 2.5,-1.6 2.5,-1.4 2.5,-1.2 2.5,-1 2.5,-0.8 2.5,-0.7 2.5,-0.5 2.5,-0.4 2.5,-0.2 2.5,-0.2 2.5,0 2.5,0.1 2.5,0.2 2.5,0.3 2.5,0.5 2.5,0.5 2.5,0.7 2.5,0.7 2.5,0.9 2.5,1.1 2.5,1.2 2.5,1.3 2.5,1.5 2.5,1.6 2.5,1.9 2.5,2 2.5,2.3 2.5,2.5 2.5,2.8 2.5,3.1 2.5,3.3 2.5,3.8 2.5,4.1 2.5,4.5 2.5,4.9 2.5,5.4 2.5,5.8 2.5,6.3 2.5,6.7 2.5,7.1 2.5,7.4 2.5,7.6 2.5,7.6 2.5,7.4 2.5,6.8 2.5,6.1 2.5,5 2.5,3.5 2.5,1.9 2.5,0.1 2.5,-1.6 2.5,-3.2 2.5,-4.7 2.5,-5.8 2.5,-6.6 2.5,-7.1 2.5,-7.4 2.5,-7.3 2.5,-7.2 2.5,-6.8 2.5,-6.5 2.5,-6 2.5,-5.5 2.5,-5.1 2.5,-4.6 2.5,-4.1 2.5,-3.8 2.5,-3.3 2.5,-3 2.5,-2.6 2.5,-2.3 2.5,-2 2.5,-1.8 2.5,-1.4 2.5,-1.2 2.5,-1 2.5,-0.8 2.5,-0.5 2.5,-0.3 2.5,-0.1 2.5,0.2 2.5,0.3 2.5,0.6 2.5,0.9 2.5,1.1 2.5,1.3 2.5,1.6 2.5,2 2.5,2.2 2.5,2.7 2.5,3 2.5,3.5 2.5,3.9 2.5,4.5 2.5,5 2.5,5.7 2.5,6.3 2.5,6.9 2.5,7.7 2.5,8.2 2.5,8.9 2.5,9.2 2.5,9.4 2.5,9.2 2.5,8.7 2.5,7.6 2.5,6 2.5,3.9 2.5,1.4 2.5,-1.1 2.5,-3.6 2.5,-5.8 2.5,-7.6 2.5,-8.8 2.5,-9.6 2.5,-9.9 2.5,-9.9 2.5,-9.5 2.5,-9 2.5,-8.4 2.5,-7.8 2.5,-7.1 2.5,-6.4 2.5,-5.9 2.5,-5.3 2.5,-4.8 2.5,-4.4 2.5,-3.9 2.5,-3.6 2.5,-3.2 2.5,-2.9 2.5,-2.7 2.5,-2.4 2.5,-2.2 2.5,-2.1 2.5,-1.8 2.5,-1.7 2.5,-1.6 2.5,-1.4 2.5,-1.3 2.5,-1.3 2.5,-1.1 2.5,-1.1 2.5,-0.9 2.5,-1 2.5,-0.8 2.5,-0.8 2.5,-0.8 2.5,-0.7 2.5,-0.6 2.5,-0.6 2.5,-0.6 2.5,-0.5 2.5,-0.6 2.5,-0.4 2.5,-0.5 2.5,-0.4 2.5,-0.4 2.5,-0.4 2.5,-0.4 2.5,-0.4 2.5,-0.3 2.5,-0.3 2.5,-0.3 2.5,-0.3 2.5,-0.3 2.5,-0.2 2.5,-0.3 2.5,-0.2 2.5,-0.3 2.5,-0.2 2.5,-0.2 2.5,-0.2 2.5,-0.2 2.5,-0.2 2.5,-0.2 2.5,-0.1 2.5,-0.2 2.5,-0.2 2.5,-0.1 2.5,-0.2 2.5,-0.1 2.5,-0.1 2.5,-0.2 2.5,-0.1 2.5,-0.1 2.5,-0.2 2.5,-0.1 2.5,-0.1 2.5,-0.1 2.5,-0.1 2.5,-0.1 2.5,-0.1 2.5,-0.1 2.5,-0.1 2.5,-0.1 2.5,-0.1 2.5,0 2.5,-0.1 2.5,-0.1 2.5,-0.1 2.5,-0.1 2.5,0 2.5,-0.1 2.5,-0.1 2.5,0 2.5,-0.1 2.5,-0.1 2.5,0 2.5,-0.1 2.5,-0.1 2.5,0 2.5,-0.1 2.5,0 1.2,-0.1 0,-3.6" fill="url(#gP)" stroke="#800000" stroke-width="2"/>
<path d="M148.8,861l0,0.8 2.5,0 2.5,0 2.5,0 2.5,0 2.5,0 2.5,0 2.5,0 2.5,0 2.5,0 2.5,0 2.5,0 2.5,0 2.5,0 2.5,0 2.5,0 2.5,0 2.5,0 2.5,0 2.5,0 2.5,0 2.5,0 2.5,0.1 2.5,0 2.5,0 2.5,0 2.5,0 2.5,0 2.5,0 2.5,0 2.5,0 2.5,0 2.5,0 2.5,0 2.5,0 2.5,0 2.5,0 2.5,0 2.5,0 2.5,0 2.5,0 2.5,0.1 2.5,0 2.5,0 2.5,0 2.5,0 2.5,0 2.5,0 2.5,0 2.5,0 2.5,0 2.5,0 2.5,0 2.5,0 2.5,0 2.5,0 2.5,0.1 2.5,0 2.5,0 2.5,0 2.5,0 2.5,0 2.5,0 2.5,0 2.5,0 2.5,0 2.5,0 2.5,0 2.5,0 2.5,0.1 2.5,0 2.5,0 2.5,0 2.5,0 2.5,0 2.5,0 2.5,0 2.5,0 2.5,0 2.5,0.1 2.5,0 2.5,0 2.5,0 2.5,0 2.5,0 2.5,0 2.5,0 2.5,0 2.5,0.1 2.5,0 2.5,0 2.5,0 2.5,0 2.5,0 2.5,0 2.5,0 2.5,0.1 2.5,0 2.5,0 2.5,0 2.5,0 2.5,0 2.5,0 2.5,0.1 2.5,0 2.5,0 2.5,0 2.5,0 2.5,0 2.5,0.1 2.5,0 2.5,0 2.5,0 2.5,0 2.5,0.1 2.5,0 2.5,0 2.5,0 2.5,0 2.5,0.1 2.5,0 2.5,0 2.5,0 2.5,0.1 2.5,0 2.5,0 2.5,0 2.5,0.1 2.5,0 2.5,0 2.5,0 2.5,0.1 2.5,0 2.5,0 2.5,0.1 2.5,0 2.5,0 2.5,0.1 2.5,0 2.5,0 2.5,0.1 2.5,0 2.5,0 2.5,0.1 2.5,0 2.5,0.1 2.5,0 2.5,0.1 2.5,0 2.5,0 2.5,0.1 2.5,0 2.5,0.1 2.5,0.1 2.5,0 2.5,0.1 2.5,0 2.5,0.1 2.5,0 2.5,0.1 2.5,0.1 2.5,0 2.5,0.1 2.5,0.1 2.5,0.1 2.5,0 2.5,0.1 2.5,0.1 2.5,0.1 2.5,0.1 2.5,0.1 2.5,0.1 2.5,0.1 2.5,0.1 2.5,0.1 2.5,0.1 2.5,0.1 2.5,0.1 2.5,0.2 2.5,0.1 2.5,0.1 2.5,0.2 2.5,0.1 2.5,0.2 2.5,0.2 2.5,0.1 2.5,0.2 2.5,0.2 2.5,0.2 2.5,0.2 2.5,0.3 2.5,0.2 2.5,0.2 2.5,0.3 2.5,0.3 2.5,0.2 2.5,0.4 2.5,0.3 2.5,0.3 2.5,0.4 2.5,0.4 2.5,0.4 2.5,0.4 2.5,0.5 2.5,0.4 2.5,0.6 2.5,0.5 2.5,0.6 2.5,0.7 2.5,0.6 2.5,0.8 2.5,0.8 2.5,0.8 2.5,0.9 2.5,1 2.5,1 2.5,1.2 2.5,1.2 2.5,1.3 2.5,1.5 2.5,1.5 2.5,1.7 2.5,1.8 2.5,2 2.5,2.1 2.5,2.2 2.5,2.4 2.5,2.6 2.5,2.6 2.5,2.8 2.5,2.9 2.5,2.9 2.5,2.9 2.5,2.9 2.5,2.8 2.5,2.5 2.5,2.3 2.5,1.9 2.5,1.6 2.5,1.1 2.5,0.9 2.5,0.4 2.5,0.3 2.5,0 2.5,0 2.5,-0.1 2.5,0.1 2.5,0.2 2.5,0.5 2.5,0.8 2.5,1 2.5,1.3 2.5,1.6 2.5,1.8 2.5,1.8 2.5,1.9 2.5,1.7 2.5,1.5 2.5,1.2 2.5,0.9 2.5,0.6 2.5,0.5 2.5,0.4 2.5,0.5 2.5,0.6 2.5,0.9 2.5,1.2 2.5,1.5 2.5,1.6 2.5,1.5 2.5,1.4 2.5,0.9 2.5,0.2 2.5,-0.7 2.5,-1.6 2.5,-2.8 2.5,-3.6 2.5,-4.3 2.5,-4.9 2.5,-5.2 2.5,-5.3 2.5,-5.2 2.5,-5 2.5,-4.7 2.5,-4.4 2.5,-4.1 2.5,-3.7 2.5,-3.4 2.5,-3 2.5,-2.8 2.5,-2.5 2.5,-2.3 2.5,-2.1 2.5,-1.9 2.5,-1.7 2.5,-1.6 2.5,-1.4 2.5,-1.3 2.5,-1.2 2.5,-1.1 2.5,-1 2.5,-0.9 2.5,-0.8 2.5,-0.8 2.5,-0.7 2.5,-0.7 2.5,-0.7 2.5,-0.5 2.5,-0.6 2.5,-0.5 2.5,-0.5 2.5,-0.4 2.5,-0.4 2.5,-0.4 2.5,-0.4 2.5,-0.3 2.5,-0.4 2.5,-0.3 2.5,-0.3 2.5,-0.2 2.5,-0.3 2.5,-0.3 2.5,-0.2 2.5,-0.2 2.5,-0.2 2.5,-0.2 2.5,-0.2 2.5,-0.2 2.5,-0.2 2.5,-0.1 2.5,-0.2 2.5,-0.2 2.5,-0.1 2.5,-0.1 2.5,-0.2 2.5,-0.1 2.5,-0.1 2.5,-0.1 2.5,-0.2 2.5,-0.1 2.5,-0.1 2.5,-0.1 2.5,-0.1 2.5,-0.1 2.5,0 2.5,-0.1 2.5,-0.1 2.5,-0.1 2.5,-0.1 2.5,0 2.5,-0.1 2.5,-0.1 2.5,-0.1 2.5,0 2.5,-0.1 2.5,0 2.5,-0.1 2.5,-0.1 2.5,0 2.5,-0.1 2.5,0 2.5,-0.1 2.5,0 2.5,-0.1 2.5,0 2.5,-0.1 2.5,0 2.5,-0.1 2.5,0 2.5,0 2.5,-0.1 2.5,0 2.5,0 2.5,-0.1 2.5,0 2.5,-0.1 2.5,0 2.5,0 2.5,-0.1 2.5,0 2.5,0 2.5,0 2.5,-0.1 2.5,0 2.5,0 2.5,-0.1 2.5,0 2.5,0 2.5,0 2.5,-0.1 2.5,0 2.5,0 2.5,0 2.5,0 2.5,-0.1 2.5,0 2.5,0 2.5,0 2.5,-0.1 2.5,0 2.5,0 2.5,0 2.5,0 2.5,0 2.5,-0.1 2.5,0 2.5,0 2.5,0 2.5,0 2.5,0 2.5,-0.1 2.5,0 2.5,0 2.5,0 2.5,0 2.5,0 2.5,0 2.5,-0.1 2.5,0 2.5,0 2.5,0 2.5,0 2.5,0 2.5,0 2.5,-0.1 2.5,0 2.5,0 2.5,0 2.5,0 2.5,0 2.5,0 2.5,0 2.5,0 2.5,-0.1 2.5,0 2.5,0 2.5,0 2.5,0 2.5,0 2.5,0 2.5,0 2.5,0 2.5,0 2.5,0 2.5,-0.1 2.5,0 2.5,0 2.5,0 2.5,0 2.5,0 2.5,0 2.5,0 2.5,0 2.5,0 2.5,0 2.5,0 2.5,-0.1 2.5,0 2.5,0 2.5,0 2.5,0 2.5,0 2.5,0 2.5,0 2.5,0 2.5,0 2.5,0 2.5,0 2.5,0 2.5,0 2.5,0 2.5,0 2.5,-0.1 2.5,0 2.5,0 2.5,0 2.5,0 2.5,0 2.5,0 2.5,0 2.5,0 2.5,0 2.5,0 2.5,0 2.5,0 2.5,0 2.5,0 2.5,0 2.5,0 2.5,0 2.5,-0.1 2.5,0 2.5,0 2.5,0 2.5,0 2.5,0 2.5,0 2.5,0 2.5,0 2.5,0 2.5,0 2.5,0 2.5,0 2.5,0 2.5,0 2.5,0 2.5,0 2.5,0 2.5,0 2.5,0 1.2,0 0,-0.8" fill="#ff0000"/>
<text x="798.2" y="910.4" font-size="58" fill="#fff" text-anchor="middle">LS</text>
<path d="M148.8,865.8l2.5,0 2.5,0.1 2.5,0.1 2.5,0 2.5,0.1 2.5,0.1 2.5,0 2.5,0.1 2.5,0.1 2.5,0.1 2.5,0 2.5,0.1 2.5,0.1 2.5,0.1 2.5,0.1 2.5,0.1 2.5,0.1 2.5,0.1 2.5,0.1 2.5,0.1 2.5,0.1 2.5,0.1 2.5,0.1 2.5,0.1 2.5,0.1 2.5,0.1 2.5,0.1 2.5,0.2 2.5,0.1 2.5,0.1 2.5,0.2 2.5,0.1 2.5,0.1 2.5,0.2 2.5,0.1 2.5,0.2 2.5,0.2 2.5,0.1 2.5,0.2 2.5,0.2 2.5,0.2 2.5,0.2 2.5,0.2 2.5,0.2 2.5,0.2 2.5,0.2 2.5,0.2 2.5,0.3 2.5,0.2 2.5,0.3 2.5,0.2 2.5,0.3 2.5,0.3 2.5,0.3 2.5,0.3 2.5,0.3 2.5,0.3 2.5,0.4 2.5,0.3 2.5,0.4 2.5,0.4 2.5,0.4 2.5,0.5 2.5,0.4 2.5,0.5 2.5,0.5 2.5,0.5 2.5,0.6 2.5,0.5 2.5,0.6 2.5,0.7 2.5,0.6 2.5,0.8 2.5,0.7 2.5,0.8 2.5,0.8 2.5,0.9 2.5,0.9 2.5,1 2.5,1.1 2.5,1.1 2.5,1.2 2.5,1.3 2.5,1.3 2.5,1.5 2.5,1.5 2.5,1.7 2.5,1.7 2.5,1.9 2.5,2.1 2.5,2.2 2.5,2.3 2.5,2.6 2.5,2.7 2.5,3 2.5,3.2 2.5,3.4 2.5,3.8 2.5,4.1 2.5,4.3 2.5,4.8 2.5,5.2 2.5,5.5 2.5,6 2.5,6.5 2.5,6.9 2.5,7.4 2.5,7.8 2.5,8.3 2.5,8.6 2.5,8.8 2.5,9 2.5,8.9 2.5,8.6 2.5,8 2.5,7.3 2.5,6 2.5,4.7 2.5,3.1 2.5,1.3 2.5,-0.6 2.5,-2.3 2.5,-4.1 2.5,-5.4 2.5,-6.6 2.5,-7.6 2.5,-8 2.5,-8.5 2.5,-8.5 2.5,-8.4 2.5,-8.1 2.5,-7.9 2.5,-7.4 2.5,-6.9 2.5,-6.5 2.5,-5.9 2.5,-5.5 2.5,-5 2.5,-4.6 2.5,-4.2 2.5,-3.7 2.5,-3.4 2.5,-3 2.5,-2.7 2.5,-2.4 2.5,-2.1 2.5,-1.8 2.5,-1.5 2.5,-1.3 2.5,-1 2.5,-0.7 2.5,-0.5 2.5,-0.3 2.5,0 2.5,0.2 2.5,0.6 2.5,0.8 2.5,1.1 2.5,1.4 2.5,1.8 2.5,2.1 2.5,2.6 2.5,3.1 2.5,3.5 2.5,4.2 2.5,4.8 2.5,5.5 2.5,6.3 2.5,7.1 2.5,8 2.5,8.9 2.5,9.8 2.5,10.5 2.5,10.9 2.5,10.9 2.5,10.5 2.5,9.1 2.5,7.1 2.5,4.3 2.5,1.1 2.5,-2.3 2.5,-5.4 2.5,-8 2.5,-9.7 2.5,-10.8 2.5,-11.1 2.5,-10.9 2.5,-10.4 2.5,-9.5 2.5,-8.8 2.5,-7.8 2.5,-7 2.5,-6.1 2.5,-5.5 2.5,-4.7 2.5,-4.1 2.5,-3.6 2.5,-3.1 2.5,-2.6 2.5,-2.2 2.5,-1.9 2.5,-1.6 2.5,-1.3 2.5,-1 2.5,-0.8 2.5,-0.5 2.5,-0.3 2.5,-0.1 2.5,0.1 2.5,0.3 2.5,0.6 2.5,0.7 2.5,0.9 2.5,1.2 2.5,1.3 2.5,1.6 2.5,1.8 2.5,2.1 2.5,2.4 2.5,2.6 2.5,2.9 2.5,3.2 2.5,3.6 2.5,3.8 2.5,4.3 2.5,4.6 2.5,5 2.5,5.3 2.5,5.6 2.5,5.9 2.5,6.1 2.5,6.2 2.5,6.3 2.5,6 2.5,5.7 2.5,5.3 2.5,4.5 2.5,3.6 2.5,2.7 2.5,1.7 2.5,0.6 2.5,-0.3 2.5,-1.2 2.5,-1.7 2.5,-2.3 2.5,-2.4 2.5,-2.5 2.5,-2.3 2.5,-2.1 2.5,-1.6 2.5,-1.3 2.5,-0.7 2.5,-0.2 2.5,0.2 2.5,0.6 2.5,0.8 2.5,1 2.5,1.1 2.5,1.1 2.5,0.8 2.5,0.7 2.5,0.6 2.5,0.4 2.5,0.4 2.5,0.4 2.5,0.7 2.5,1.1 2.5,1.4 2.5,1.9 2.5,2.4 2.5,2.8 2.5,3 2.5,3.1 2.5,3 2.5,2.5 2.5,1.8 2.5,0.8 2.5,-0.4 2.5,-1.8 2.5,-3.2 2.5,-4.6 2.5,-5.6 2.5,-6.5 2.5,-7.1 2.5,-7.4 2.5,-7.5 2.5,-7.4 2.5,-7.1 2.5,-6.8 2.5,-6.3 2.5,-5.9 2.5,-5.4 2.5,-5 2.5,-4.5 2.5,-4 2.5,-3.7 2.5,-3.2 2.5,-2.9 2.5,-2.6 2.5,-2.3 2.5,-2 2.5,-1.8 2.5,-1.5 2.5,-1.3 2.5,-1 2.5,-0.9 2.5,-0.6 2.5,-0.5 2.5,-0.3 2.5,-0.1 2.5,0.1 2.5,0.2 2.5,0.5 2.5,0.6 2.5,0.8 2.5,1 2.5,1.2 2.5,1.5 2.5,1.6 2.5,1.9 2.5,2.2 2.5,2.4 2.5,2.7 2.5,3.1 2.5,3.4 2.5,3.7 2.5,4.2 2.5,4.5 2.5,5 2.5,5.5 2.5,5.9 2.5,6.3 2.5,6.9 2.5,7.2 2.5,7.5 2.5,7.8 2.5,7.9 2.5,7.8 2.5,7.5 2.5,6.9 2.5,6 2.5,4.9 2.5,3.4 2.5,1.9 2.5,0.2 2.5,-1.6 2.5,-3.2 2.5,-4.6 2.5,-5.8 2.5,-6.7 2.5,-7.4 2.5,-7.6 2.5,-7.8 2.5,-7.7 2.5,-7.5 2.5,-7.2 2.5,-6.7 2.5,-6.3 2.5,-5.8 2.5,-5.4 2.5,-4.8 2.5,-4.5 2.5,-4 2.5,-3.5 2.5,-3.2 2.5,-2.8 2.5,-2.5 2.5,-2.2 2.5,-1.8 2.5,-1.5 2.5,-1.3 2.5,-0.9 2.5,-0.8 2.5,-0.4 2.5,-0.2 2.5,0.1 2.5,0.4 2.5,0.6 2.5,0.9 2.5,1.2 2.5,1.5 2.5,1.8 2.5,2.2 2.5,2.5 2.5,2.9 2.5,3.4 2.5,3.8 2.5,4.4 2.5,4.8 2.5,5.5 2.5,6 2.5,6.7 2.5,7.3 2.5,7.9 2.5,8.5 2.5,9 2.5,9.4 2.5,9.6 2.5,9.4 2.5,8.9 2.5,8.1 2.5,6.8 2.5,5 2.5,2.9 2.5,0.6 2.5,-1.8 2.5,-4.1 2.5,-6.1 2.5,-7.8 2.5,-9 2.5,-9.8 2.5,-10.2 2.5,-10.2 2.5,-10.1 2.5,-9.6 2.5,-9.1 2.5,-8.6 2.5,-7.9 2.5,-7.3 2.5,-6.8 2.5,-6.1 2.5,-5.7 2.5,-5.1 2.5,-4.7 2.5,-4.3 2.5,-4 2.5,-3.6 2.5,-3.2 2.5,-3 2.5,-2.8 2.5,-2.6 2.5,-2.3 2.5,-2.2 2.5,-1.9 2.5,-1.9 2.5,-1.7 2.5,-1.6 2.5,-1.4 2.5,-1.4 2.5,-1.3 2.5,-1.2 2.5,-1.1 2.5,-1 2.5,-1 2.5,-0.9 2.5,-0.9 2.5,-0.8 2.5,-0.8 2.5,-0.7 2.5,-0.7 2.5,-0.6 2.5,-0.7 2.5,-0.5 2.5,-0.6 2.5,-0.5 2.5,-0.5 2.5,-0.5 2.5,-0.4 2.5,-0.5 2.5,-0.4 2.5,-0.4 2.5,-0.3 2.5,-0.4 2.5,-0.3 2.5,-0.4 2.5,-0.3 2.5,-0.3 2.5,-0.3 2.5,-0.2 2.5,-0.3 2.5,-0.3 2.5,-0.2 2.5,-0.2 2.5,-0.3 2.5,-0.2 2.5,-0.2 2.5,-0.2 2.5,-0.2 2.5,-0.2 2.5,-0.2 2.5,-0.1 2.5,-0.2 2.5,-0.2 2.5,-0.1 2.5,-0.2 2.5,-0.2 2.5,-0.1 2.5,-0.1 2.5,-0.2 2.5,-0.1 2.5,-0.1 2.5,-0.2 2.5,-0.1 2.5,-0.1 2.5,-0.1 2.5,-0.1 2.5,-0.1 2.5,-0.1 2.5,-0.2 2.5,-0.1 2.5,0 2.5,-0.1 2.5,-0.1 2.5,-0.1 2.5,-0.1 2.5,-0.1 2.5,-0.1 2.5,-0.1 2.5,0 1.2,-0.1" fill="none" stroke="#0000ff" stroke-width="9.5" stroke-linejoin="round"/>
<path d="M222 1214h0m0 -31h0m0 25h0m0 -24h0m0 29h0m1 -34h0m0 11h0m0 1h0m0 -19h0m1 38h0m0 -31h0m0 3h0m1 10h0m0 17h0m1 -20h0m0 36h0m1 -26h0m0 -3h0m1 9h0m1 -7h0m0 -12h0m1 7h0m1 9h0m1 18h0m1 -17h0m0 3h0m1 -35h0m1 26h0m1 3h0m1 23h0m1 -2h0m1 -19h0m2 5h0m1 -8h0m1 -8h0m1 10h0m1 -5h0m2 9h0m1 5h0m1 -12h0m2 17h0m1 -29h0m2 15h0m1 3h0m2 -26h0m1 32h0m2 1h0m1 13h0m2 -23h0m2 9h0m1 1h0m2 -30h0m2 25h0m2 -22h0m2 23h0m1 6h0m2 -6h0m2 -30h0m2 46h0m2 -15h0m2 9h0m2 -21h0m3 4h0m2 32h0m2 -29h0m2 -3h0m2 1h0m3 18h0m2 -33h0m2 17h0m2 -7h0m3 45h0m2 -18h0m3 -13h0m2 3h0m3 -6h0m2 -2h0m3 4h0m2 26h0m3 -26h0m3 2h0m2 8h0m3 16h0m3 -12h0m2 -18h0m3 16h0m3 0h0m3 -15h0m3 9h0m3 16h0m3 -8h0m3 30h0m3 -15h0m3 -7h0m3 8h0m3 -7h0m3 8h0m3 24h0m3 -6h0m3 -17h0m3 15h0m4 34h0m3 -13h0m3 22h0m3 32h0m4 -3h0m3 15h0m3 16h0m4 36h0m3 -7h0m4 7h0m3 27h0m4 25h0m3 -17h0m4 11h0m3 -12h0m4 -39h0m3 8h0m4 -9h0m4 -5h0m3 10h0m4 -6h0m4 -20h0m3 -8h0m4 -38h0m4 4h0m4 -38h0m3 -2h0m4 -21h0m4 24h0m4 -28h0m4 11h0m4 -31h0m4 17h0m4 6h0m3 -11h0m4 1h0m4 0h0m4 -1h0m4 -2h0m5 -4h0m4 29h0m4 -8h0m4 8h0m4 12h0m4 -9h0m4 12h0m4 17h0m4 61h0m5 -6h0m4 34h0m4 -15h0m4 28h0m4 7h0m5 -17h0m4 9h0m4 -33h0m5 -12h0m4 2h0m4 -9h0m4 -31h0m5 -25h0m4 -10h0m5 8h0m4 -40h0m4 -7h0m5 -6h0m4 20h0m5 -12h0m4 -21h0m4 0h0m5 8h0m4 -8h0m5 -8h0m4 3h0m5 10h0m4 -4h0m5 10h0m4 -1h0m5 0h0m4 21h0m5 8h0m4 -23h0m5 42h0m4 5h0m5 10h0m4 40h0m5 9h0m5 13h0m4 -15h0m5 20h0m4 -32h0m5 -32h0m4 17h0m5 -50h0m5 20h0m4 -32h0m5 -11h0m4 -6h0m5 -6h0m5 -1h0m4 17h0m5 -5h0m4 -18h0m5 28h0m5 -17h0m4 34h0m5 -4h0m4 15h0m5 33h0m5 -26h0m4 73h0m5 26h0m4 -18h0m5 -6h0m4 -26h0m5 9h0m5 -34h0m4 -18h0m5 -21h0m4 16h0m5 -17h0m4 -38h0m5 11h0m5 -21h0m4 26h0m5 -27h0m4 10h0m5 7h0m4 -10h0m5 -14h0m4 12h0m5 -10h0m4 40h0m5 -3h0m4 -31h0m5 14h0m4 53h0m5 -11h0m4 -2h0m4 31h0m5 7h0m4 22h0m5 1h0m4 42h0m5 -5h0m4 -6h0m4 29h0m5 8h0m4 15h0m4 -7h0m5 -21h0m4 -39h0m4 -12h0m4 -34h0m5 10h0m4 -51h0m4 0h0m4 -11h0m5 -13h0m4 14h0m4 -4h0m4 -4h0m4 17h0m4 -27h0m5 14h0m4 -2h0m4 5h0m4 -17h0m4 6h0m4 32h0m4 -20h0m4 39h0m4 14h0m4 -17h0m4 23h0m4 9h0m4 28h0m4 18h0m4 -10h0m3 6h0m4 8h0m4 -29h0m4 12h0m4 13h0m3 -17h0m4 33h0m4 -28h0m4 20h0m3 15h0m4 15h0m4 -20h0m3 -1h0m4 -7h0m3 -25h0m4 -15h0m3 -39h0m4 -22h0m3 -38h0m4 8h0m3 0h0m4 -22h0m3 8h0m3 10h0m4 -23h0m3 15h0m3 -6h0m4 -13h0m3 7h0m3 0h0m3 -32h0m3 37h0m4 -46h0m3 25h0m3 -13h0m3 0h0m3 9h0m3 -9h0m3 2h0m3 1h0m3 -12h0m3 14h0m3 -18h0m2 21h0m3 -23h0m3 19h0m3 -11h0m2 26h0m3 -32h0m3 28h0m2 -21h0m3 -16h0m3 39h0m2 -6h0m3 10h0m2 -28h0m3 17h0m2 8h0m3 -18h0m2 36h0m2 -41h0m3 16h0m2 -24h0m2 2h0m2 5h0m3 3h0m2 4h0m2 4h0m2 -35h0m2 29h0m2 -9h0m2 -16h0m2 14h0m2 18h0m2 -3h0m2 -27h0m2 12h0m2 1h0m1 23h0m2 -21h0m2 -7h0m1 9h0m2 -32h0m2 33h0m1 11h0m2 -7h0m1 -30h0m2 56h0m1 -24h0m2 -10h0m1 1h0m2 12h0m1 -13h0m1 0h0m1 10h0m2 -23h0m1 24h0m1 -22h0m1 18h0m1 8h0m1 -7h0m1 4h0m1 -16h0m1 -5h0m1 24h0m1 -16h0m1 -9h0m1 4h0m0 -2h0m1 19h0m1 -2h0m0 11h0m1 -33h0m1 15h0m0 -2h0m1 -26h0m0 26h0m1 9h0m0 -19h0m0 -5h0m1 46h0m0 -48h0m0 37h0m1 -15h0m0 1h0m0 -12h0m0 -6h0m0 32h0m0 5h0m0 -35h0" stroke="#008000" stroke-width="16" stroke-linecap="round"/>
<path d="M220 1211h0m0 -31h0m0 25h0m0 -24h0m0 29h0m0 -34h0m0 11h0m0 1h0m1 -19h0m0 38h0m0 -31h0m1 3h0m0 10h0m1 17h0m0 -20h0m1 36h0m0 -26h0m1 -3h0m1 9h0m0 -7h0m1 -12h0m1 7h0m0 9h0m1 18h0m1 -17h0m1 3h0m1 -35h0m1 26h0m1 3h0m1 23h0m1 -2h0m1 -19h0m1 5h0m1 -8h0m1 -8h0m2 10h0m1 -5h0m1 9h0m1 5h0m2 -12h0m1 17h0m2 -29h0m1 15h0m2 3h0m1 -26h0m2 32h0m1 1h0m2 13h0m1 -23h0m2 9h0m2 1h0m2 -30h0m1 25h0m2 -22h0m2 23h0m2 6h0m2 -6h0m2 -30h0m2 46h0m2 -15h0m2 9h0m2 -21h0m2 4h0m2 32h0m2 -29h0m3 -3h0m2 1h0m2 18h0m2 -33h0m3 17h0m2 -7h0m2 45h0m3 -18h0m2 -13h0m3 3h0m2 -6h0m3 -2h0m2 4h0m3 26h0m2 -26h0m3 2h0m3 8h0m2 16h0m3 -12h0m3 -18h0m3 16h0m3 0h0m2 -15h0m3 9h0m3 16h0m3 -8h0m3 30h0m3 -15h0m3 -7h0m3 8h0m3 -7h0m3 8h0m3 24h0m3 -6h0m4 -17h0m3 15h0m3 34h0m3 -13h0m4 22h0m3 32h0m3 -3h0m4 15h0m3 16h0m3 36h0m4 -7h0m3 7h0m4 27h0m3 25h0m4 -17h0m3 11h0m4 -12h0m3 -39h0m4 8h0m3 -9h0m4 -5h0m4 10h0m3 -6h0m4 -20h0m4 -8h0m4 -38h0m3 4h0m4 -38h0m4 -2h0m4 -21h0m4 24h0m3 -28h0m4 11h0m4 -31h0m4 17h0m4 6h0m4 -11h0m4 1h0m4 0h0m4 -1h0m4 -2h0m4 -4h0m4 29h0m4 -8h0m4 8h0m4 12h0m4 -9h0m5 12h0m4 17h0m4 61h0m4 -6h0m4 34h0m4 -15h0m5 28h0m4 7h0m4 -17h0m4 9h0m5 -33h0m4 -12h0m4 2h0m5 -9h0m4 -31h0m4 -25h0m5 -10h0m4 8h0m4 -40h0m5 -7h0m4 -6h0m5 20h0m4 -12h0m4 -21h0m5 0h0m4 8h0m5 -8h0m4 -8h0m5 3h0m4 10h0m5 -4h0m4 10h0m5 -1h0m4 0h0m5 21h0m4 8h0m5 -23h0m4 42h0m5 5h0m4 10h0m5 40h0m4 9h0m5 13h0m5 -15h0m4 20h0m5 -32h0m4 -32h0m5 17h0m4 -50h0m5 20h0m5 -32h0m4 -11h0m5 -6h0m4 -6h0m5 -1h0m5 17h0m4 -5h0m5 -18h0m4 28h0m5 -17h0m5 34h0m4 -4h0m5 15h0m4 33h0m5 -26h0m5 73h0m4 26h0m5 -18h0m4 -6h0m5 -26h0m5 9h0m4 -34h0m5 -18h0m4 -21h0m5 16h0m4 -17h0m5 -38h0m5 11h0m4 -21h0m5 26h0m4 -27h0m5 10h0m4 7h0m5 -10h0m4 -14h0m5 12h0m4 -10h0m5 40h0m4 -3h0m5 -31h0m4 14h0m5 53h0m4 -11h0m5 -2h0m4 31h0m4 7h0m5 22h0m4 1h0m5 42h0m4 -5h0m4 -6h0m5 29h0m4 8h0m4 15h0m5 -7h0m4 -21h0m4 -39h0m5 -12h0m4 -34h0m4 10h0m4 -51h0m5 0h0m4 -11h0m4 -13h0m4 14h0m5 -4h0m4 -4h0m4 17h0m4 -27h0m4 14h0m4 -2h0m4 5h0m4 -17h0m4 6h0m4 32h0m4 -20h0m5 39h0m3 14h0m4 -17h0m4 23h0m4 9h0m4 28h0m4 18h0m4 -10h0m4 6h0m4 8h0m4 -29h0m3 12h0m4 13h0m4 -17h0m4 33h0m3 -28h0m4 20h0m4 15h0m3 15h0m4 -20h0m4 -1h0m3 -7h0m4 -25h0m3 -15h0m4 -39h0m3 -22h0m4 -38h0m3 8h0m4 0h0m3 -22h0m4 8h0m3 10h0m3 -23h0m4 15h0m3 -6h0m3 -13h0m3 7h0m4 0h0m3 -32h0m3 37h0m3 -46h0m3 25h0m3 -13h0m3 0h0m3 9h0m3 -9h0m3 2h0m3 1h0m3 -12h0m3 14h0m3 -18h0m3 21h0m3 -23h0m2 19h0m3 -11h0m3 26h0m3 -32h0m2 28h0m3 -21h0m3 -16h0m2 39h0m3 -6h0m2 10h0m3 -28h0m2 17h0m3 8h0m2 -18h0m2 36h0m3 -41h0m2 16h0m2 -24h0m3 2h0m2 5h0m2 3h0m2 4h0m2 4h0m3 -35h0m2 29h0m2 -9h0m2 -16h0m2 14h0m2 18h0m1 -3h0m2 -27h0m2 12h0m2 1h0m2 23h0m2 -21h0m1 -7h0m2 9h0m2 -32h0m1 33h0m2 11h0m1 -7h0m2 -30h0m1 56h0m2 -24h0m1 -10h0m2 1h0m1 12h0m1 -13h0m2 0h0m1 10h0m1 -23h0m1 24h0m1 -22h0m2 18h0m1 8h0m1 -7h0m1 4h0m1 -16h0m1 -5h0m1 24h0m0 -16h0m1 -9h0m1 4h0m1 -2h0m1 19h0m0 -2h0m1 11h0m1 -33h0m0 15h0m1 -2h0m0 -26h0m1 26h0m0 9h0m1 -19h0m0 -5h0m0 46h0m1 -48h0m0 37h0m0 -15h0m0 1h0m1 -12h0m0 -6h0m0 32h0m0 5h0m0 -35h0" stroke="#c4eecb" stroke-width="3.6" stroke-linecap="round"/>
<path d="M224.7,1193l0,1.3 2.5,0 2.5,0 2.5,0 2.5,0.1 2.5,0 2.5,0 2.5,0 2.5,0.1 2.5,0 2.5,0 2.5,0.1 2.5,0 2.5,0 2.5,0.1 2.5,0 2.5,0.1 2.5,0 2.5,0.1 2.5,0 2.5,0.1 2.5,0 2.5,0.1 2.5,0 2.5,0.1 2.5,0 2.5,0.1 2.5,0.1 2.5,0.1 2.5,0 2.5,0.1 2.5,0.1 2.5,0.1 2.5,0.1 2.5,0.1 2.5,0.1 2.5,0.1 2.5,0.1 2.5,0.2 2.5,0.1 2.5,0.1 2.5,0.2 2.5,0.2 2.5,0.2 2.5,0.2 2.5,0.2 2.5,0.2 2.5,0.3 2.5,0.2 2.5,0.3 2.5,0.3 2.5,0.4 2.5,0.4 2.5,0.4 2.5,0.5 2.5,0.5 2.5,0.6 2.5,0.6 2.5,0.8 2.5,0.8 2.5,0.9 2.5,1.1 2.5,1.2 2.5,1.4 2.5,1.6 2.5,1.9 2.5,2.2 2.5,2.6 2.5,3.1 2.5,3.7 2.5,4.4 2.5,5.4 2.5,6.6 2.5,8 2.5,9.8 2.5,11.7 2.5,13.7 2.5,15.2 2.5,15.5 2.5,13.4 2.5,8.3 2.5,0.8 2.5,-6.9 2.5,-12.6 2.5,-15.3 2.5,-15.3 2.5,-14 2.5,-12 2.5,-10 2.5,-8.2 2.5,-6.8 2.5,-5.5 2.5,-4.5 2.5,-3.7 2.5,-3.1 2.5,-2.6 2.5,-2.2 2.5,-1.8 2.5,-1.5 2.5,-1.4 2.5,-1.1 2.5,-0.9 2.5,-0.8 2.5,-0.7 2.5,-0.6 2.5,-0.5 2.5,-0.4 2.5,-0.4 2.5,-0.3 2.5,-0.2 2.5,-0.2 2.5,-0.1 2.5,0 2.5,-0.1 2.5,0.1 2.5,0.1 2.5,0.1 2.5,0.2 2.5,0.3 2.5,0.3 2.5,0.4 2.5,0.4 2.5,0.6 2.5,0.6 2.5,0.8 2.5,0.9 2.5,1.1 2.5,1.2 2.5,1.5 2.5,1.8 2.5,2 2.5,2.5 2.5,3 2.5,3.6 2.5,4.4 2.5,5.4 2.5,6.6 2.5,8 2.5,9.6 2.5,11.4 2.5,12.7 2.5,13.2 2.5,11.9 2.5,8 2.5,1.9 2.5,-4.7 2.5,-10 2.5,-12.8 2.5,-13.2 2.5,-12.2 2.5,-10.6 2.5,-9 2.5,-7.3 2.5,-6 2.5,-5 2.5,-4.1 2.5,-3.3 2.5,-2.8 2.5,-2.3 2.5,-2 2.5,-1.6 2.5,-1.4 2.5,-1.2 2.5,-1 2.5,-0.9 2.5,-0.8 2.5,-0.6 2.5,-0.6 2.5,-0.5 2.5,-0.4 2.5,-0.3 2.5,-0.3 2.5,-0.3 2.5,-0.2 2.5,-0.1 2.5,-0.2 2.5,-0.1 2.5,0 2.5,0 2.5,0 2.5,0.1 2.5,0.1 2.5,0.1 2.5,0.2 2.5,0.2 2.5,0.3 2.5,0.3 2.5,0.4 2.5,0.4 2.5,0.6 2.5,0.6 2.5,0.8 2.5,0.9 2.5,1 2.5,1.2 2.5,1.5 2.5,1.8 2.5,2.1 2.5,2.6 2.5,3.1 2.5,3.8 2.5,4.6 2.5,5.5 2.5,6.6 2.5,7.5 2.5,8.1 2.5,7.7 2.5,6 2.5,2.8 2.5,-1.1 2.5,-4.8 2.5,-7.1 2.5,-7.8 2.5,-7.6 2.5,-6.8 2.5,-5.7 2.5,-4.8 2.5,-3.9 2.5,-3.1 2.5,-2.6 2.5,-2 2.5,-1.7 2.5,-1.3 2.5,-1 2.5,-0.8 2.5,-0.7 2.5,-0.4 2.5,-0.4 2.5,-0.2 2.5,0 2.5,0 2.5,0.1 2.5,0.2 2.5,0.4 2.5,0.4 2.5,0.6 2.5,0.6 2.5,0.8 2.5,0.9 2.5,1 2.5,1.2 2.5,1.4 2.5,1.6 2.5,1.7 2.5,2.1 2.5,2.3 2.5,2.6 2.5,2.9 2.5,3.3 2.5,3.7 2.5,4.2 2.5,4.5 2.5,4.9 2.5,5.1 2.5,5.4 2.5,5.2 2.5,4.8 2.5,4.1 2.5,2.9 2.5,1.6 2.5,-0.1 2.5,-1.6 2.5,-3.1 2.5,-4.1 2.5,-4.9 2.5,-5.2 2.5,-5.3 2.5,-5.2 2.5,-4.8 2.5,-4.5 2.5,-4.1 2.5,-3.7 2.5,-3.3 2.5,-3 2.5,-2.6 2.5,-2.3 2.5,-2 2.5,-1.8 2.5,-1.6 2.5,-1.4 2.5,-1.2 2.5,-1.1 2.5,-0.9 2.5,-0.9 2.5,-0.7 2.5,-0.6 2.5,-0.5 2.5,-0.5 2.5,-0.4 2.5,-0.3 2.5,-0.2 2.5,-0.2 2.5,-0.1 2.5,0 2.5,0 2.5,0.1 2.5,0.2 2.5,0.3 2.5,0.4 2.5,0.4 2.5,0.6 2.5,0.7 2.5,0.8 2.5,1 2.5,1.2 2.5,1.4 2.5,1.7 2.5,2.1 2.5,2.4 2.5,3 2.5,3.6 2.5,4.3 2.5,5.4 2.5,6.5 2.5,7.9 2.5,9.6 2.5,11.3 2.5,12.7 2.5,13.4 2.5,12.3 2.5,8.8 2.5,3 2.5,-3.7 2.5,-9.3 2.5,-12.6 2.5,-13.4 2.5,-12.6 2.5,-11.2 2.5,-9.4 2.5,-7.9 2.5,-6.4 2.5,-5.3 2.5,-4.3 2.5,-3.6 2.5,-3 2.5,-2.4 2.5,-2.1 2.5,-1.7 2.5,-1.5 2.5,-1.3 2.5,-1 2.5,-0.9 2.5,-0.8 2.5,-0.6 2.5,-0.5 2.5,-0.5 2.5,-0.3 2.5,-0.3 2.5,-0.3 2.5,-0.1 2.5,-0.1 2.5,-0.1 2.5,0 2.5,0.1 2.5,0.1 2.5,0.1 2.5,0.3 2.5,0.2 2.5,0.4 2.5,0.4 2.5,0.5 2.5,0.5 2.5,0.7 2.5,0.7 2.5,0.8 2.5,1 2.5,1.1 2.5,1.3 2.5,1.5 2.5,1.7 2.5,1.9 2.5,2.3 2.5,2.6 2.5,3.1 2.5,3.5 2.5,4.2 2.5,4.9 2.5,5.8 2.5,6.7 2.5,8 2.5,9.3 2.5,10.6 2.5,11.9 2.5,12.9 2.5,13.1 2.5,12 2.5,9.3 2.5,5.1 2.5,-0.2 2.5,-5.5 2.5,-9.7 2.5,-12.3 2.5,-13.1 2.5,-12.9 2.5,-11.9 2.5,-10.7 2.5,-9.2 2.5,-8 2.5,-6.8 2.5,-5.8 2.5,-4.9 2.5,-4.2 2.5,-3.6 2.5,-3.2 2.5,-2.7 2.5,-2.3 2.5,-2 2.5,-1.8 2.5,-1.6 2.5,-1.4 2.5,-1.2 2.5,-1.2 2.5,-0.9 2.5,-0.9 2.5,-0.8 2.5,-0.8 2.5,-0.6 2.5,-0.6 2.5,-0.6 2.5,-0.5 2.5,-0.4 2.5,-0.4 2.5,-0.4 2.5,-0.4 2.5,-0.3 2.5,-0.3 2.5,-0.3 2.5,-0.3 2.5,-0.2 2.5,-0.2 2.5,-0.3 2.5,-0.2 2.5,-0.2 2.5,-0.1 2.5,-0.2 2.5,-0.2 2.5,-0.1 2.5,-0.1 2.5,-0.2 2.5,-0.1 2.5,-0.1 2.5,-0.1 2.5,-0.1 2.5,-0.1 2.5,-0.1 2.5,-0.1 2.5,-0.1 2.5,-0.1 2.5,-0.1 2.5,-0.1 2.5,0 2.5,-0.1 2.5,-0.1 2.5,0 2.5,-0.1 2.5,-0.1 2.5,0 2.5,-0.1 2.5,0 2.5,-0.1 2.5,0 2.5,-0.1 2.5,0 2.5,-0.1 2.5,0 2.5,0 2.5,-0.1 2.5,0 2.5,-0.1 2.5,0 2.5,0 2.5,-0.1 2.5,0 2.5,0 2.5,0 2.5,-0.1 2.5,0 2.5,0 2.5,-0.1 2.5,0 0.3,0 0,-1.4" fill="url(#gC)" stroke="#2e8b6a" stroke-width="1.5"/>
<path d="M224.7,1193l0,1.9 2.5,0.1 2.5,0 2.5,0 2.5,0.1 2.5,0 2.5,0 2.5,0.1 2.5,0 2.5,0.1 2.5,0 2.5,0 2.5,0.1 2.5,0 2.5,0.1 2.5,0 2.5,0.1 2.5,0 2.5,0.1 2.5,0.1 2.5,0 2.5,0.1 2.5,0.1 2.5,0 2.5,0.1 2.5,0.1 2.5,0 2.5,0.1 2.5,0.1 2.5,0.1 2.5,0.1 2.5,0.1 2.5,0.1 2.5,0.1 2.5,0.1 2.5,0.1 2.5,0.1 2.5,0.1 2.5,0.2 2.5,0.1 2.5,0.1 2.5,0.2 2.5,0.2 2.5,0.1 2.5,0.2 2.5,0.2 2.5,0.2 2.5,0.2 2.5,0.2 2.5,0.2 2.5,0.3 2.5,0.3 2.5,0.2 2.5,0.3 2.5,0.4 2.5,0.3 2.5,0.4 2.5,0.4 2.5,0.4 2.5,0.5 2.5,0.5 2.5,0.5 2.5,0.6 2.5,0.6 2.5,0.7 2.5,0.8 2.5,0.8 2.5,0.9 2.5,1 2.5,1.1 2.5,1.3 2.5,1.3 2.5,1.5 2.5,1.7 2.5,1.8 2.5,2.1 2.5,2.4 2.5,2.6 2.5,3 2.5,3.3 2.5,3.8 2.5,4.2 2.5,4.8 2.5,5.3 2.5,5.9 2.5,6.4 2.5,6.9 2.5,7.2 2.5,7.2 2.5,6.8 2.5,6 2.5,4.6 2.5,2.8 2.5,0.5 2.5,-1.6 2.5,-3.7 2.5,-5.3 2.5,-6.4 2.5,-6.9 2.5,-7 2.5,-6.9 2.5,-6.5 2.5,-5.9 2.5,-5.4 2.5,-4.8 2.5,-4.2 2.5,-3.8 2.5,-3.3 2.5,-2.9 2.5,-2.5 2.5,-2.3 2.5,-1.9 2.5,-1.7 2.5,-1.5 2.5,-1.2 2.5,-1.1 2.5,-1 2.5,-0.8 2.5,-0.6 2.5,-0.6 2.5,-0.4 2.5,-0.3 2.5,-0.3 2.5,-0.1 2.5,0 2.5,0.1 2.5,0.1 2.5,0.3 2.5,0.4 2.5,0.5 2.5,0.6 2.5,0.7 2.5,0.9 2.5,1.1 2.5,1.2 2.5,1.4 2.5,1.6 2.5,1.9 2.5,2.2 2.5,2.5 2.5,2.8 2.5,3.2 2.5,3.7 2.5,4.1 2.5,4.6 2.5,5.1 2.5,5.4 2.5,5.7 2.5,5.8 2.5,5.5 2.5,4.9 2.5,3.8 2.5,2.3 2.5,0.5 2.5,-1.3 2.5,-3 2.5,-4.4 2.5,-5.2 2.5,-5.7 2.5,-5.9 2.5,-5.6 2.5,-5.4 2.5,-4.9 2.5,-4.5 2.5,-4 2.5,-3.5 2.5,-3.2 2.5,-2.7 2.5,-2.4 2.5,-2.2 2.5,-1.8 2.5,-1.7 2.5,-1.4 2.5,-1.3 2.5,-1 2.5,-1 2.5,-0.8 2.5,-0.7 2.5,-0.6 2.5,-0.5 2.5,-0.4 2.5,-0.4 2.5,-0.2 2.5,-0.2 2.5,-0.1 2.5,0 2.5,0.1 2.5,0.1 2.5,0.3 2.5,0.3 2.5,0.4 2.5,0.5 2.5,0.6 2.5,0.8 2.5,0.8 2.5,1.1 2.5,1.2 2.5,1.4 2.5,1.6 2.5,1.8 2.5,2.2 2.5,2.4 2.5,2.8 2.5,3 2.5,3.4 2.5,3.6 2.5,3.8 2.5,3.7 2.5,3.4 2.5,2.8 2.5,2 2.5,0.8 2.5,-0.3 2.5,-1.5 2.5,-2.5 2.5,-3.1 2.5,-3.5 2.5,-3.5 2.5,-3.5 2.5,-3.2 2.5,-3 2.5,-2.5 2.5,-2.3 2.5,-1.9 2.5,-1.7 2.5,-1.3 2.5,-1.2 2.5,-0.8 2.5,-0.7 2.5,-0.5 2.5,-0.3 2.5,-0.1 2.5,0.1 2.5,0.2 2.5,0.4 2.5,0.6 2.5,0.7 2.5,0.9 2.5,1.2 2.5,1.3 2.5,1.5 2.5,1.8 2.5,2 2.5,2.3 2.5,2.5 2.5,2.7 2.5,2.9 2.5,3.1 2.5,3 2.5,2.9 2.5,2.7 2.5,2.2 2.5,1.6 2.5,0.7 2.5,0 2.5,-0.9 2.5,-1.7 2.5,-2.3 2.5,-2.7 2.5,-3 2.5,-3.1 2.5,-3.1 2.5,-3 2.5,-2.9 2.5,-2.6 2.5,-2.3 2.5,-2.2 2.5,-1.9 2.5,-1.7 2.5,-1.5 2.5,-1.3 2.5,-1.2 2.5,-1 2.5,-0.8 2.5,-0.8 2.5,-0.6 2.5,-0.5 2.5,-0.4 2.5,-0.3 2.5,-0.2 2.5,-0.2 2.5,0 2.5,0 2.5,0.2 2.5,0.2 2.5,0.3 2.5,0.4 2.5,0.5 2.5,0.5 2.5,0.8 2.5,0.8 2.5,0.9 2.5,1.1 2.5,1.3 2.5,1.5 2.5,1.6 2.5,1.9 2.5,2.1 2.5,2.4 2.5,2.8 2.5,3 2.5,3.5 2.5,3.8 2.5,4.3 2.5,4.6 2.5,5 2.5,5.3 2.5,5.4 2.5,5.3 2.5,4.9 2.5,4.1 2.5,3 2.5,1.6 2.5,0.1 2.5,-1.6 2.5,-2.9 2.5,-4 2.5,-4.7 2.5,-5.2 2.5,-5.3 2.5,-5.1 2.5,-4.9 2.5,-4.5 2.5,-4.2 2.5,-3.7 2.5,-3.3 2.5,-2.9 2.5,-2.5 2.5,-2.3 2.5,-1.9 2.5,-1.7 2.5,-1.5 2.5,-1.2 2.5,-1 2.5,-0.9 2.5,-0.7 2.5,-0.5 2.5,-0.4 2.5,-0.2 2.5,-0.1 2.5,0 2.5,0.2 2.5,0.3 2.5,0.4 2.5,0.6 2.5,0.7 2.5,0.9 2.5,1.1 2.5,1.2 2.5,1.5 2.5,1.6 2.5,2 2.5,2.2 2.5,2.5 2.5,2.8 2.5,3.3 2.5,3.6 2.5,4.1 2.5,4.5 2.5,5 2.5,5.4 2.5,5.9 2.5,6.1 2.5,6.3 2.5,6.1 2.5,5.7 2.5,4.9 2.5,3.7 2.5,2.2 2.5,0.3 2.5,-1.4 2.5,-3.1 2.5,-4.5 2.5,-5.5 2.5,-6.2 2.5,-6.5 2.5,-6.4 2.5,-6.3 2.5,-5.9 2.5,-5.5 2.5,-5.1 2.5,-4.6 2.5,-4.1 2.5,-3.8 2.5,-3.3 2.5,-3 2.5,-2.7 2.5,-2.5 2.5,-2.1 2.5,-2 2.5,-1.8 2.5,-1.6 2.5,-1.5 2.5,-1.3 2.5,-1.2 2.5,-1.1 2.5,-1 2.5,-0.9 2.5,-0.8 2.5,-0.8 2.5,-0.7 2.5,-0.7 2.5,-0.6 2.5,-0.6 2.5,-0.5 2.5,-0.5 2.5,-0.4 2.5,-0.5 2.5,-0.4 2.5,-0.3 2.5,-0.4 2.5,-0.3 2.5,-0.3 2.5,-0.3 2.5,-0.3 2.5,-0.2 2.5,-0.3 2.5,-0.2 2.5,-0.2 2.5,-0.2 2.5,-0.2 2.5,-0.2 2.5,-0.2 2.5,-0.1 2.5,-0.2 2.5,-0.2 2.5,-0.1 2.5,-0.1 2.5,-0.2 2.5,-0.1 2.5,-0.1 2.5,-0.1 2.5,-0.1 2.5,-0.1 2.5,-0.1 2.5,-0.1 2.5,-0.1 2.5,-0.1 2.5,-0.1 2.5,-0.1 2.5,-0.1 2.5,-0.1 2.5,0 2.5,-0.1 2.5,-0.1 2.5,0 2.5,-0.1 2.5,-0.1 2.5,0 2.5,-0.1 2.5,0 2.5,-0.1 2.5,0 2.5,-0.1 2.5,0 2.5,-0.1 2.5,0 2.5,-0.1 2.5,0 2.5,-0.1 2.5,0 2.5,0 2.5,-0.1 2.5,0 2.5,-0.1 2.5,0 2.5,0 2.5,-0.1 2.5,0 2.5,0 2.5,-0.1 2.5,0 2.5,0 2.5,-0.1 2.5,0 2.5,0 2.5,0 2.5,-0.1 2.5,0 2.5,0 0.3,0 0,-1.7" fill="url(#gK)" stroke="#ff44ff" stroke-width="1.5"/>
<path d="M224.7,1193.0H1422.5" stroke="#ff3a8c" stroke-width="2"/>
<path d="M224.7,1199.5l2.5,0.1 2.5,0.1 2.5,0.2 2.5,0.1 2.5,0.1 2.5,0.2 2.5,0.1 2.5,0.2 2.5,0.2 2.5,0.1 2.5,0.2 2.5,0.2 2.5,0.2 2.5,0.2 2.5,0.2 2.5,0.2 2.5,0.2 2.5,0.2 2.5,0.3 2.5,0.2 2.5,0.3 2.5,0.3 2.5,0.3 2.5,0.3 2.5,0.3 2.5,0.3 2.5,0.3 2.5,0.4 2.5,0.4 2.5,0.4 2.5,0.4 2.5,0.4 2.5,0.5 2.5,0.5 2.5,0.5 2.5,0.5 2.5,0.6 2.5,0.6 2.5,0.6 2.5,0.7 2.5,0.7 2.5,0.8 2.5,0.8 2.5,0.9 2.5,0.9 2.5,1 2.5,1.1 2.5,1.1 2.5,1.2 2.5,1.4 2.5,1.4 2.5,1.5 2.5,1.7 2.5,1.8 2.5,2 2.5,2.2 2.5,2.3 2.5,2.6 2.5,2.8 2.5,3 2.5,3.4 2.5,3.7 2.5,4.2 2.5,4.5 2.5,5 2.5,5.6 2.5,6.2 2.5,6.8 2.5,7.6 2.5,8.4 2.5,9.2 2.5,10.1 2.5,10.9 2.5,11.7 2.5,12.4 2.5,12.8 2.5,12.8 2.5,12.4 2.5,11.3 2.5,9.7 2.5,7.5 2.5,4.9 2.5,2.1 2.5,-0.6 2.5,-2.8 2.5,-4.5 2.5,-5.6 2.5,-5.9 2.5,-5.7 2.5,-5.3 2.5,-4.7 2.5,-4.2 2.5,-4.1 2.5,-4.5 2.5,-5.3 2.5,-6.5 2.5,-7.7 2.5,-8.9 2.5,-9.7 2.5,-9.9 2.5,-9.9 2.5,-9.3 2.5,-8.7 2.5,-7.8 2.5,-7 2.5,-6.2 2.5,-5.5 2.5,-4.7 2.5,-4.1 2.5,-3.5 2.5,-3 2.5,-2.6 2.5,-2.1 2.5,-1.7 2.5,-1.3 2.5,-1 2.5,-0.7 2.5,-0.3 2.5,-0.1 2.5,0.2 2.5,0.6 2.5,0.9 2.5,1.2 2.5,1.5 2.5,2 2.5,2.3 2.5,2.8 2.5,3.3 2.5,3.8 2.5,4.5 2.5,5.2 2.5,5.9 2.5,6.7 2.5,7.7 2.5,8.8 2.5,9.7 2.5,10.8 2.5,11.9 2.5,12.5 2.5,13.1 2.5,12.9 2.5,12.1 2.5,10.4 2.5,7.9 2.5,4.8 2.5,1.4 2.5,-1.9 2.5,-4.6 2.5,-6.6 2.5,-7.8 2.5,-8.5 2.5,-8.6 2.5,-8.7 2.5,-8.5 2.5,-8.6 2.5,-8.5 2.5,-8.6 2.5,-8.5 2.5,-8.5 2.5,-8.2 2.5,-7.8 2.5,-7.4 2.5,-6.8 2.5,-6.4 2.5,-5.7 2.5,-5.2 2.5,-4.6 2.5,-4.2 2.5,-3.6 2.5,-3.3 2.5,-2.8 2.5,-2.5 2.5,-2.2 2.5,-1.9 2.5,-1.6 2.5,-1.4 2.5,-1.1 2.5,-0.9 2.5,-0.7 2.5,-0.5 2.5,-0.2 2.5,-0.1 2.5,0.1 2.5,0.3 2.5,0.6 2.5,0.7 2.5,1 2.5,1.3 2.5,1.5 2.5,1.8 2.5,2.2 2.5,2.5 2.5,2.9 2.5,3.4 2.5,3.9 2.5,4.4 2.5,5.1 2.5,5.8 2.5,6.6 2.5,7.3 2.5,8.1 2.5,8.8 2.5,9.4 2.5,9.8 2.5,9.6 2.5,9 2.5,7.6 2.5,5.6 2.5,2.9 2.5,0 2.5,-2.9 2.5,-5.6 2.5,-7.5 2.5,-8.8 2.5,-9.3 2.5,-9.5 2.5,-9 2.5,-8.5 2.5,-7.7 2.5,-6.9 2.5,-6 2.5,-5.3 2.5,-4.6 2.5,-3.9 2.5,-3.4 2.5,-2.7 2.5,-2.3 2.5,-1.7 2.5,-1.4 2.5,-0.9 2.5,-0.6 2.5,-0.2 2.5,0.2 2.5,0.6 2.5,1 2.5,1.3 2.5,1.8 2.5,2.2 2.5,2.7 2.5,3.1 2.5,3.8 2.5,4.3 2.5,5 2.5,5.7 2.5,6.4 2.5,7.2 2.5,7.9 2.5,8.6 2.5,9 2.5,9.2 2.5,9.1 2.5,8.4 2.5,7.1 2.5,5.3 2.5,2.9 2.5,0.2 2.5,-2.6 2.5,-5 2.5,-6.9 2.5,-8.4 2.5,-9.2 2.5,-9.4 2.5,-9.3 2.5,-8.9 2.5,-8.2 2.5,-7.6 2.5,-6.8 2.5,-6.1 2.5,-5.5 2.5,-4.8 2.5,-4.2 2.5,-3.7 2.5,-3.2 2.5,-2.8 2.5,-2.4 2.5,-2.1 2.5,-1.7 2.5,-1.5 2.5,-1.1 2.5,-0.9 2.5,-0.7 2.5,-0.4 2.5,-0.3 2.5,0 2.5,0.2 2.5,0.5 2.5,0.6 2.5,0.9 2.5,1.2 2.5,1.4 2.5,1.6 2.5,2 2.5,2.3 2.5,2.7 2.5,3 2.5,3.5 2.5,3.9 2.5,4.5 2.5,5.1 2.5,5.6 2.5,6.3 2.5,7 2.5,7.6 2.5,8.2 2.5,8.8 2.5,9.1 2.5,9.3 2.5,9.3 2.5,9.1 2.5,8.6 2.5,8.1 2.5,7.7 2.5,7.5 2.5,7.5 2.5,7.5 2.5,7.6 2.5,7.2 2.5,5.8 2.5,3.3 2.5,-0.6 2.5,-5 2.5,-9.4 2.5,-12.9 2.5,-15 2.5,-15.8 2.5,-15.4 2.5,-14.4 2.5,-13 2.5,-11.4 2.5,-10 2.5,-8.5 2.5,-7.3 2.5,-6.2 2.5,-5.3 2.5,-4.4 2.5,-3.7 2.5,-3.1 2.5,-2.4 2.5,-2 2.5,-1.6 2.5,-1.1 2.5,-0.7 2.5,-0.4 2.5,-0.1 2.5,0.3 2.5,0.6 2.5,1 2.5,1.2 2.5,1.6 2.5,2 2.5,2.3 2.5,2.6 2.5,3.1 2.5,3.5 2.5,3.9 2.5,4.3 2.5,4.8 2.5,5.2 2.5,5.7 2.5,6.1 2.5,6.5 2.5,6.8 2.5,7 2.5,7.1 2.5,6.9 2.5,6.6 2.5,6.1 2.5,5.3 2.5,4.4 2.5,3.4 2.5,2.3 2.5,1.4 2.5,0.6 2.5,0.1 2.5,-0.2 2.5,0 2.5,0.5 2.5,1.4 2.5,2.6 2.5,3.9 2.5,5.3 2.5,6.6 2.5,7.3 2.5,7.2 2.5,5.7 2.5,2.8 2.5,-1.2 2.5,-5.9 2.5,-10.2 2.5,-13.4 2.5,-15.2 2.5,-15.7 2.5,-15.1 2.5,-14.1 2.5,-12.7 2.5,-11.3 2.5,-10 2.5,-8.7 2.5,-7.6 2.5,-6.6 2.5,-5.9 2.5,-5.1 2.5,-4.5 2.5,-4 2.5,-3.6 2.5,-3.2 2.5,-2.9 2.5,-2.5 2.5,-2.4 2.5,-2.1 2.5,-1.9 2.5,-1.7 2.5,-1.6 2.5,-1.5 2.5,-1.4 2.5,-1.2 2.5,-1.2 2.5,-1.1 2.5,-1 2.5,-0.9 2.5,-0.9 2.5,-0.8 2.5,-0.7 2.5,-0.7 2.5,-0.7 2.5,-0.6 2.5,-0.6 2.5,-0.6 2.5,-0.5 2.5,-0.5 2.5,-0.5 2.5,-0.4 2.5,-0.5 2.5,-0.4 2.5,-0.3 2.5,-0.4 2.5,-0.4 2.5,-0.3 2.5,-0.3 2.5,-0.3 2.5,-0.3 2.5,-0.3 2.5,-0.3 2.5,-0.2 2.5,-0.3 2.5,-0.2 2.5,-0.2 2.5,-0.2 2.5,-0.2 2.5,-0.2 2.5,-0.2 2.5,-0.2 2.5,-0.2 2.5,-0.2 2.5,-0.1 2.5,-0.2 2.5,-0.2 2.5,-0.1 2.5,-0.2 2.5,-0.1 2.5,-0.1 2.5,-0.2 2.5,-0.1 2.5,-0.1 2.5,-0.1 2.5,-0.2 2.5,-0.1 2.5,-0.1 2.5,-0.1 2.5,-0.1 2.5,-0.1 2.5,-0.1 2.5,-0.1 2.5,-0.1 2.5,-0.1 2.5,0 2.5,-0.1 2.5,-0.1 2.5,-0.1 0.3,0" fill="none" stroke="#0000ff" stroke-width="9.5" stroke-linejoin="round"/>
<path d="M141 1581h0m2 0h0m1 -17h0m1 9h0m2 0h0m1 1h0m1 32h0m2 -37h0m1 0h0m2 -3h0m1 23h0m2 -22h0m1 5h0m2 14h0m2 -1h0m1 -26h0m2 42h0m2 -23h0m1 10h0m2 -10h0m2 21h0m2 -31h0m2 -4h0m2 16h0m2 15h0m2 -21h0m2 13h0m2 10h0m2 -44h0m2 42h0m2 -4h0m2 -24h0m2 7h0m2 -7h0m2 20h0m3 -22h0m2 19h0m2 12h0m3 -48h0m2 33h0m2 -7h0m3 -6h0m2 14h0m3 -9h0m2 -21h0m3 14h0m2 9h0m3 -11h0m2 -9h0m3 58h0m3 -15h0m2 -2h0m3 -18h0m3 -33h0m2 27h0m3 13h0m3 -15h0m3 -2h0m3 14h0m2 27h0m3 -27h0m3 -2h0m3 -12h0m3 34h0m3 -17h0m3 -6h0m3 -3h0m3 -4h0m3 13h0m3 28h0m4 -29h0m3 8h0m3 -19h0m3 16h0m3 -25h0m4 44h0m3 -29h0m3 16h0m3 -5h0m4 21h0m3 -12h0m4 2h0m3 -33h0m3 9h0m4 1h0m3 3h0m4 3h0m3 29h0m4 -12h0m3 3h0m4 -10h0m3 3h0m4 -1h0m4 41h0m3 -8h0m4 17h0m4 2h0m3 -6h0m4 26h0m4 -17h0m4 60h0m3 6h0m4 18h0m4 8h0m4 12h0m4 -17h0m3 -5h0m4 -23h0m4 -5h0m4 -3h0m4 1h0m4 -25h0m4 -18h0m4 -7h0m4 27h0m4 -4h0m4 24h0m4 18h0m4 -38h0m4 26h0m4 -9h0m4 -43h0m4 -2h0m5 8h0m4 -31h0m4 -10h0m4 21h0m4 -25h0m4 -4h0m5 18h0m4 -10h0m4 2h0m4 19h0m4 -1h0m5 -43h0m4 43h0m4 -10h0m5 11h0m4 16h0m4 26h0m5 -1h0m4 4h0m4 30h0m5 -7h0m4 49h0m4 4h0m5 -22h0m4 -10h0m5 -5h0m4 1h0m4 13h0m5 -21h0m4 -21h0m5 -9h0m4 9h0m5 -37h0m4 -20h0m5 35h0m4 -54h0m5 13h0m4 1h0m5 -15h0m4 -10h0m5 20h0m4 -19h0m5 6h0m4 -11h0m5 25h0m4 -38h0m5 -5h0m5 7h0m4 13h0m5 1h0m4 9h0m5 -7h0m4 24h0m5 -19h0m5 13h0m4 29h0m5 9h0m4 14h0m5 15h0m4 -1h0m5 7h0m5 -8h0m4 -8h0m5 -31h0m4 -24h0m5 -14h0m5 -7h0m4 -11h0m5 29h0m4 14h0m5 -27h0m5 5h0m4 -35h0m5 34h0m4 -5h0m5 14h0m5 -7h0m4 8h0m5 7h0m4 14h0m5 51h0m4 -8h0m5 -20h0m5 26h0m4 1h0m5 32h0m4 -65h0m5 25h0m4 -10h0m5 8h0m4 -17h0m5 -36h0m4 -28h0m5 3h0m5 0h0m4 4h0m5 -10h0m4 -12h0m5 28h0m4 -8h0m4 -7h0m5 -1h0m4 -1h0m5 -3h0m4 56h0m5 -39h0m4 2h0m5 39h0m4 -19h0m4 21h0m5 -6h0m4 22h0m5 -9h0m4 43h0m4 27h0m5 -26h0m4 2h0m4 16h0m5 7h0m4 -21h0m4 12h0m4 13h0m5 25h0m4 -42h0m4 -3h0m4 -11h0m5 -12h0m4 -12h0m4 -22h0m4 14h0m4 -38h0m5 36h0m4 -32h0m4 4h0m4 -30h0m4 24h0m4 -22h0m4 -1h0m4 39h0m4 -6h0m4 -10h0m4 -4h0m4 50h0m4 -3h0m4 16h0m4 3h0m4 0h0m4 -57h0m4 -21h0m4 53h0m4 -43h0m3 42h0m4 -12h0m4 -5h0m4 3h0m4 -17h0m3 31h0m4 9h0m4 21h0m4 37h0m3 -25h0m4 27h0m4 21h0m3 -41h0m4 -11h0m3 -12h0m4 -21h0m3 -23h0m4 21h0m3 0h0m4 -24h0m3 -27h0m4 -9h0m3 7h0m4 -21h0m3 4h0m3 -10h0m4 18h0m3 -7h0m3 -10h0m4 -21h0m3 7h0m3 17h0m3 15h0m3 -37h0m4 46h0m3 -46h0m3 -1h0m3 10h0m3 -16h0m3 10h0m3 0h0m3 -9h0m3 2h0m3 12h0m3 10h0m3 15h0m3 -32h0m2 -25h0m3 15h0m3 -18h0m3 25h0m3 -12h0m2 15h0m3 -9h0m3 4h0m2 -7h0m3 30h0m3 -52h0m2 44h0m3 1h0m2 -8h0m3 -6h0m2 3h0m2 -13h0m3 -10h0m2 28h0m3 -1h0m2 2h0m2 -16h0m2 18h0m3 -6h0m2 19h0m2 -29h0m2 -32h0m2 16h0m3 22h0m2 -28h0m2 32h0m2 -22h0m2 13h0m2 2h0m2 -17h0m1 19h0m2 11h0m2 -26h0m2 4h0m2 -5h0m1 19h0m2 5h0m2 -25h0m2 4h0m1 18h0m2 -11h0m1 24h0m2 -26h0m1 -10h0m2 -8h0m1 8h0m2 -17h0m1 31h0m2 22h0m1 -50h0m1 2h0m2 4h0m1 15h0" stroke="#008000" stroke-width="16" stroke-linecap="round"/>
<path d="M139 1578h0m1 0h0m1 -17h0m2 9h0m1 0h0m1 1h0m2 32h0m1 -37h0m2 0h0m1 -3h0m2 23h0m1 -22h0m2 5h0m1 14h0m2 -1h0m2 -26h0m1 42h0m2 -23h0m2 10h0m2 -10h0m2 21h0m1 -31h0m2 -4h0m2 16h0m2 15h0m2 -21h0m2 13h0m2 10h0m2 -44h0m2 42h0m2 -4h0m2 -24h0m3 7h0m2 -7h0m2 20h0m2 -22h0m2 19h0m3 12h0m2 -48h0m2 33h0m3 -7h0m2 -6h0m3 14h0m2 -9h0m3 -21h0m2 14h0m3 9h0m2 -11h0m3 -9h0m2 58h0m3 -15h0m3 -2h0m2 -18h0m3 -33h0m3 27h0m3 13h0m2 -15h0m3 -2h0m3 14h0m3 27h0m3 -27h0m3 -2h0m3 -12h0m3 34h0m3 -17h0m3 -6h0m3 -3h0m3 -4h0m3 13h0m3 28h0m3 -29h0m3 8h0m3 -19h0m4 16h0m3 -25h0m3 44h0m3 -29h0m4 16h0m3 -5h0m3 21h0m4 -12h0m3 2h0m3 -33h0m4 9h0m3 1h0m4 3h0m3 3h0m4 29h0m3 -12h0m4 3h0m3 -10h0m4 3h0m4 -1h0m3 41h0m4 -8h0m3 17h0m4 2h0m4 -6h0m4 26h0m3 -17h0m4 60h0m4 6h0m4 18h0m3 8h0m4 12h0m4 -17h0m4 -5h0m4 -23h0m4 -5h0m4 -3h0m4 1h0m3 -25h0m4 -18h0m4 -7h0m4 27h0m4 -4h0m4 24h0m4 18h0m5 -38h0m4 26h0m4 -9h0m4 -43h0m4 -2h0m4 8h0m4 -31h0m4 -10h0m4 21h0m5 -25h0m4 -4h0m4 18h0m4 -10h0m4 2h0m5 19h0m4 -1h0m4 -43h0m5 43h0m4 -10h0m4 11h0m4 16h0m5 26h0m4 -1h0m4 4h0m5 30h0m4 -7h0m5 49h0m4 4h0m4 -22h0m5 -10h0m4 -5h0m5 1h0m4 13h0m4 -21h0m5 -21h0m4 -9h0m5 9h0m4 -37h0m5 -20h0m4 35h0m5 -54h0m4 13h0m5 1h0m4 -15h0m5 -10h0m4 20h0m5 -19h0m4 6h0m5 -11h0m4 25h0m5 -38h0m4 -5h0m5 7h0m5 13h0m4 1h0m5 9h0m4 -7h0m5 24h0m4 -19h0m5 13h0m5 29h0m4 9h0m5 14h0m4 15h0m5 -1h0m5 7h0m4 -8h0m5 -8h0m4 -31h0m5 -24h0m5 -14h0m4 -7h0m5 -11h0m4 29h0m5 14h0m4 -27h0m5 5h0m5 -35h0m4 34h0m5 -5h0m4 14h0m5 -7h0m5 8h0m4 7h0m5 14h0m4 51h0m5 -8h0m5 -20h0m4 26h0m5 1h0m4 32h0m5 -65h0m4 25h0m5 -10h0m4 8h0m5 -17h0m4 -36h0m5 -28h0m5 3h0m4 0h0m5 4h0m4 -10h0m5 -12h0m4 28h0m4 -8h0m5 -7h0m4 -1h0m5 -1h0m4 -3h0m5 56h0m4 -39h0m5 2h0m4 39h0m4 -19h0m5 21h0m4 -6h0m5 22h0m4 -9h0m4 43h0m5 27h0m4 -26h0m4 2h0m5 16h0m4 7h0m4 -21h0m5 12h0m4 13h0m4 25h0m4 -42h0m5 -3h0m4 -11h0m4 -12h0m4 -12h0m5 -22h0m4 14h0m4 -38h0m4 36h0m4 -32h0m4 4h0m4 -30h0m5 24h0m4 -22h0m4 -1h0m4 39h0m4 -6h0m4 -10h0m4 -4h0m4 50h0m4 -3h0m4 16h0m4 3h0m4 0h0m3 -57h0m4 -21h0m4 53h0m4 -43h0m4 42h0m4 -12h0m4 -5h0m3 3h0m4 -17h0m4 31h0m4 9h0m3 21h0m4 37h0m4 -25h0m3 27h0m4 21h0m4 -41h0m3 -11h0m4 -12h0m3 -21h0m4 -23h0m3 21h0m4 0h0m3 -24h0m4 -27h0m3 -9h0m4 7h0m3 -21h0m4 4h0m3 -10h0m3 18h0m4 -7h0m3 -10h0m3 -21h0m3 7h0m4 17h0m3 15h0m3 -37h0m3 46h0m3 -46h0m3 -1h0m3 10h0m3 -16h0m4 10h0m3 0h0m3 -9h0m3 2h0m2 12h0m3 10h0m3 15h0m3 -32h0m3 -25h0m3 15h0m3 -18h0m2 25h0m3 -12h0m3 15h0m2 -9h0m3 4h0m3 -7h0m2 30h0m3 -52h0m3 44h0m2 1h0m3 -8h0m2 -6h0m3 3h0m2 -13h0m2 -10h0m3 28h0m2 -1h0m2 2h0m3 -16h0m2 18h0m2 -6h0m2 19h0m3 -29h0m2 -32h0m2 16h0m2 22h0m2 -28h0m2 32h0m2 -22h0m2 13h0m2 2h0m2 -17h0m2 19h0m2 11h0m2 -26h0m1 4h0m2 -5h0m2 19h0m2 5h0m1 -25h0m2 4h0m2 18h0m1 -11h0m2 24h0m1 -26h0m2 -10h0m1 -8h0m2 8h0m1 -17h0m2 31h0m1 22h0m1 -50h0m2 2h0m1 4h0m1 15h0" stroke="#c4eecb" stroke-width="3.6" stroke-linecap="round"/>
<path d="M148.8,1570l0,1.8 2.5,0 2.5,0 2.5,0 2.5,0.1 2.5,0 2.5,0 2.5,0 2.5,0.1 2.5,0 2.5,0 2.5,0 2.5,0.1 2.5,0 2.5,0 2.5,0.1 2.5,0 2.5,0 2.5,0.1 2.5,0 2.5,0 2.5,0.1 2.5,0 2.5,0 2.5,0.1 2.5,0 2.5,0.1 2.5,0 2.5,0 2.5,0.1 2.5,0 2.5,0.1 2.5,0 2.5,0.1 2.5,0 2.5,0.1 2.5,0.1 2.5,0 2.5,0.1 2.5,0 2.5,0.1 2.5,0.1 2.5,0.1 2.5,0 2.5,0.1 2.5,0.1 2.5,0.1 2.5,0.1 2.5,0.1 2.5,0.1 2.5,0.1 2.5,0.1 2.5,0.1 2.5,0.1 2.5,0.1 2.5,0.2 2.5,0.1 2.5,0.1 2.5,0.2 2.5,0.2 2.5,0.1 2.5,0.2 2.5,0.2 2.5,0.2 2.5,0.2 2.5,0.3 2.5,0.2 2.5,0.3 2.5,0.3 2.5,0.3 2.5,0.3 2.5,0.3 2.5,0.4 2.5,0.4 2.5,0.4 2.5,0.5 2.5,0.5 2.5,0.6 2.5,0.6 2.5,0.7 2.5,0.7 2.5,0.8 2.5,0.9 2.5,1 2.5,1.1 2.5,1.2 2.5,1.3 2.5,1.5 2.5,1.7 2.5,2 2.5,2.2 2.5,2.4 2.5,2.9 2.5,3.2 2.5,3.7 2.5,4.3 2.5,4.9 2.5,5.6 2.5,6.4 2.5,7.3 2.5,8.3 2.5,9 2.5,9.7 2.5,9.9 2.5,9.5 2.5,8.3 2.5,5.9 2.5,2.9 2.5,-0.7 2.5,-4.1 2.5,-6.9 2.5,-8.8 2.5,-9.7 2.5,-9.8 2.5,-9.4 2.5,-8.6 2.5,-7.8 2.5,-6.9 2.5,-6 2.5,-5.2 2.5,-4.5 2.5,-4 2.5,-3.4 2.5,-2.9 2.5,-2.6 2.5,-2.3 2.5,-1.9 2.5,-1.8 2.5,-1.5 2.5,-1.3 2.5,-1.2 2.5,-1 2.5,-0.9 2.5,-0.8 2.5,-0.7 2.5,-0.6 2.5,-0.6 2.5,-0.5 2.5,-0.4 2.5,-0.3 2.5,-0.3 2.5,-0.3 2.5,-0.2 2.5,-0.1 2.5,-0.1 2.5,-0.1 2.5,0 2.5,0.1 2.5,0 2.5,0.2 2.5,0.2 2.5,0.2 2.5,0.3 2.5,0.4 2.5,0.5 2.5,0.5 2.5,0.6 2.5,0.8 2.5,0.9 2.5,1.1 2.5,1.3 2.5,1.5 2.5,1.8 2.5,2.1 2.5,2.6 2.5,3.2 2.5,3.8 2.5,4.7 2.5,5.8 2.5,7.2 2.5,8.9 2.5,10.9 2.5,12.8 2.5,14.5 2.5,14.8 2.5,12.5 2.5,7.1 2.5,-0.7 2.5,-8.2 2.5,-13.1 2.5,-14.9 2.5,-14.3 2.5,-12.5 2.5,-10.5 2.5,-8.6 2.5,-6.9 2.5,-5.6 2.5,-4.6 2.5,-3.7 2.5,-3 2.5,-2.5 2.5,-2.1 2.5,-1.8 2.5,-1.4 2.5,-1.3 2.5,-1 2.5,-0.9 2.5,-0.8 2.5,-0.6 2.5,-0.6 2.5,-0.5 2.5,-0.3 2.5,-0.4 2.5,-0.3 2.5,-0.2 2.5,-0.1 2.5,-0.2 2.5,-0.1 2.5,0 2.5,0 2.5,0 2.5,0.1 2.5,0.1 2.5,0.2 2.5,0.2 2.5,0.2 2.5,0.3 2.5,0.4 2.5,0.4 2.5,0.4 2.5,0.6 2.5,0.6 2.5,0.8 2.5,0.8 2.5,1 2.5,1.2 2.5,1.3 2.5,1.6 2.5,1.8 2.5,2.2 2.5,2.5 2.5,2.9 2.5,3.5 2.5,4.1 2.5,4.6 2.5,5.3 2.5,5.7 2.5,6 2.5,5.6 2.5,4.8 2.5,3 2.5,0.8 2.5,-1.6 2.5,-3.7 2.5,-5.1 2.5,-5.7 2.5,-5.8 2.5,-5.4 2.5,-4.8 2.5,-4.3 2.5,-3.6 2.5,-3.1 2.5,-2.6 2.5,-2.1 2.5,-1.8 2.5,-1.5 2.5,-1.3 2.5,-1 2.5,-0.8 2.5,-0.6 2.5,-0.5 2.5,-0.4 2.5,-0.2 2.5,-0.1 2.5,0 2.5,0.1 2.5,0.3 2.5,0.4 2.5,0.5 2.5,0.6 2.5,0.8 2.5,1 2.5,1.1 2.5,1.4 2.5,1.6 2.5,1.9 2.5,2.3 2.5,2.6 2.5,3.1 2.5,3.6 2.5,4.1 2.5,4.6 2.5,5.1 2.5,5.5 2.5,5.5 2.5,5.2 2.5,4.3 2.5,2.9 2.5,1 2.5,-1.2 2.5,-3 2.5,-4.5 2.5,-5.3 2.5,-5.6 2.5,-5.5 2.5,-5.2 2.5,-4.6 2.5,-4.2 2.5,-3.6 2.5,-3.1 2.5,-2.7 2.5,-2.4 2.5,-2 2.5,-1.7 2.5,-1.5 2.5,-1.3 2.5,-1.1 2.5,-1 2.5,-0.8 2.5,-0.7 2.5,-0.6 2.5,-0.5 2.5,-0.5 2.5,-0.3 2.5,-0.3 2.5,-0.3 2.5,-0.1 2.5,-0.2 2.5,-0.1 2.5,0 2.5,0 2.5,0.1 2.5,0.1 2.5,0.2 2.5,0.2 2.5,0.3 2.5,0.3 2.5,0.4 2.5,0.4 2.5,0.6 2.5,0.6 2.5,0.7 2.5,0.8 2.5,0.9 2.5,1 2.5,1.2 2.5,1.3 2.5,1.6 2.5,1.8 2.5,2 2.5,2.3 2.5,2.7 2.5,3.2 2.5,3.6 2.5,4.2 2.5,4.9 2.5,5.6 2.5,6.5 2.5,7.5 2.5,8.4 2.5,9.2 2.5,9.9 2.5,9.9 2.5,9.2 2.5,7.3 2.5,4.6 2.5,1 2.5,-2.7 2.5,-6 2.5,-8.4 2.5,-9.6 2.5,-9.9 2.5,-9.5 2.5,-8.8 2.5,-7.9 2.5,-6.9 2.5,-6 2.5,-5.2 2.5,-4.5 2.5,-3.8 2.5,-3.3 2.5,-2.8 2.5,-2.4 2.5,-2.1 2.5,-1.8 2.5,-1.5 2.5,-1.3 2.5,-1.1 2.5,-1 2.5,-0.8 2.5,-0.7 2.5,-0.5 2.5,-0.4 2.5,-0.4 2.5,-0.2 2.5,-0.2 2.5,0 2.5,0 2.5,0.2 2.5,0.2 2.5,0.3 2.5,0.4 2.5,0.5 2.5,0.6 2.5,0.8 2.5,0.9 2.5,1 2.5,1.2 2.5,1.3 2.5,1.6 2.5,1.8 2.5,2.1 2.5,2.4 2.5,2.7 2.5,3.2 2.5,3.6 2.5,4.1 2.5,4.8 2.5,5.4 2.5,6.2 2.5,7 2.5,7.8 2.5,8.6 2.5,9.2 2.5,9.5 2.5,9.2 2.5,8.4 2.5,6.5 2.5,4 2.5,1 2.5,-2.3 2.5,-5.3 2.5,-7.5 2.5,-8.9 2.5,-9.6 2.5,-9.6 2.5,-9.1 2.5,-8.5 2.5,-7.7 2.5,-6.8 2.5,-6.1 2.5,-5.3 2.5,-4.7 2.5,-4.2 2.5,-3.6 2.5,-3.2 2.5,-2.8 2.5,-2.5 2.5,-2.2 2.5,-1.9 2.5,-1.8 2.5,-1.5 2.5,-1.4 2.5,-1.3 2.5,-1.1 2.5,-1.1 2.5,-0.9 2.5,-0.9 2.5,-0.8 2.5,-0.7 2.5,-0.6 2.5,-0.6 2.5,-0.6 2.5,-0.5 2.5,-0.5 2.5,-0.4 2.5,-0.4 2.5,-0.4 2.5,-0.4 2.5,-0.3 2.5,-0.3 2.5,-0.3 2.5,-0.3 2.5,-0.3 2.5,-0.2 2.5,-0.2 2.5,-0.2 2.5,-0.3 2.5,-0.1 2.5,-0.2 2.5,-0.2 2.5,-0.2 2.5,-0.1 2.5,-0.2 2.5,-0.1 2.5,-0.1 2.5,-0.2 2.5,-0.1 2.5,-0.1 2.5,-0.1 2.5,-0.1 2.5,-0.1 2.5,-0.1 2.5,-0.1 2.5,-0.1 2.5,-0.1 2.5,-0.1 2.5,-0.1 2.5,-0.1 2.5,0 2.5,-0.1 2.5,-0.1 2.5,0 2.5,-0.1 2.5,-0.1 2.5,0 2.5,-0.1 2.5,0 2.5,-0.1 2.5,-0.1 2.5,0 2.5,-0.1 2.5,0 2.5,0 2.5,-0.1 2.5,0 2.5,-0.1 2.5,0 2.5,-0.1 2.5,0 1.2,0 0,-2.5" fill="url(#gC)" stroke="#2e8b6a" stroke-width="1.5"/>
<path d="M148.8,1570l0,0.7 2.5,0 2.5,0 2.5,0 2.5,0.1 2.5,0 2.5,0 2.5,0 2.5,0 2.5,0 2.5,0 2.5,0 2.5,0 2.5,0 2.5,0.1 2.5,0 2.5,0 2.5,0 2.5,0 2.5,0 2.5,0 2.5,0 2.5,0.1 2.5,0 2.5,0 2.5,0 2.5,0 2.5,0 2.5,0.1 2.5,0 2.5,0 2.5,0 2.5,0 2.5,0 2.5,0.1 2.5,0 2.5,0 2.5,0 2.5,0 2.5,0.1 2.5,0 2.5,0 2.5,0 2.5,0.1 2.5,0 2.5,0 2.5,0 2.5,0.1 2.5,0 2.5,0 2.5,0.1 2.5,0 2.5,0 2.5,0.1 2.5,0 2.5,0 2.5,0.1 2.5,0 2.5,0 2.5,0.1 2.5,0 2.5,0.1 2.5,0 2.5,0.1 2.5,0 2.5,0.1 2.5,0 2.5,0.1 2.5,0.1 2.5,0 2.5,0.1 2.5,0.1 2.5,0 2.5,0.1 2.5,0.1 2.5,0.1 2.5,0.1 2.5,0.1 2.5,0.1 2.5,0.1 2.5,0.1 2.5,0.1 2.5,0.1 2.5,0.1 2.5,0.2 2.5,0.1 2.5,0.2 2.5,0.1 2.5,0.2 2.5,0.2 2.5,0.2 2.5,0.2 2.5,0.3 2.5,0.2 2.5,0.3 2.5,0.3 2.5,0.3 2.5,0.4 2.5,0.3 2.5,0.4 2.5,0.5 2.5,0.5 2.5,0.5 2.5,0.6 2.5,0.6 2.5,0.8 2.5,0.8 2.5,0.8 2.5,1 2.5,1.1 2.5,1.3 2.5,1.4 2.5,1.6 2.5,1.8 2.5,2.1 2.5,2.3 2.5,2.7 2.5,3 2.5,3.4 2.5,3.9 2.5,4.4 2.5,4.8 2.5,5.2 2.5,5.4 2.5,5.5 2.5,5 2.5,4.3 2.5,2.9 2.5,1.3 2.5,-0.5 2.5,-2.3 2.5,-3.7 2.5,-4.7 2.5,-5.2 2.5,-5.3 2.5,-5.2 2.5,-4.8 2.5,-4.4 2.5,-3.9 2.5,-3.4 2.5,-3 2.5,-2.7 2.5,-2.2 2.5,-2 2.5,-1.7 2.5,-1.5 2.5,-1.3 2.5,-1 2.5,-1 2.5,-0.8 2.5,-0.6 2.5,-0.6 2.5,-0.4 2.5,-0.4 2.5,-0.3 2.5,-0.2 2.5,-0.1 2.5,0 2.5,0 2.5,0.1 2.5,0.2 2.5,0.3 2.5,0.3 2.5,0.5 2.5,0.5 2.5,0.7 2.5,0.8 2.5,0.9 2.5,1 2.5,1.2 2.5,1.5 2.5,1.6 2.5,1.9 2.5,2.2 2.5,2.4 2.5,2.9 2.5,3.3 2.5,3.6 2.5,4.1 2.5,4.5 2.5,4.9 2.5,4.9 2.5,4.9 2.5,4.4 2.5,3.6 2.5,2.2 2.5,0.7 2.5,-1.1 2.5,-2.5 2.5,-3.8 2.5,-4.5 2.5,-5 2.5,-5 2.5,-4.8 2.5,-4.4 2.5,-4.1 2.5,-3.6 2.5,-3.2 2.5,-2.8 2.5,-2.4 2.5,-2.2 2.5,-1.8 2.5,-1.7 2.5,-1.4 2.5,-1.2 2.5,-1.1 2.5,-0.9 2.5,-0.8 2.5,-0.7 2.5,-0.6 2.5,-0.5 2.5,-0.4 2.5,-0.3 2.5,-0.3 2.5,-0.2 2.5,-0.1 2.5,-0.1 2.5,0 2.5,0 2.5,0.2 2.5,0.1 2.5,0.3 2.5,0.3 2.5,0.5 2.5,0.5 2.5,0.6 2.5,0.7 2.5,0.9 2.5,1 2.5,1.1 2.5,1.3 2.5,1.5 2.5,1.7 2.5,2 2.5,2.1 2.5,2.3 2.5,2.5 2.5,2.5 2.5,2.4 2.5,2.2 2.5,1.8 2.5,1.2 2.5,0.4 2.5,-0.3 2.5,-1.1 2.5,-1.8 2.5,-2.1 2.5,-2.4 2.5,-2.4 2.5,-2.4 2.5,-2.2 2.5,-2.1 2.5,-1.8 2.5,-1.6 2.5,-1.4 2.5,-1.2 2.5,-1 2.5,-0.9 2.5,-0.6 2.5,-0.6 2.5,-0.4 2.5,-0.3 2.5,-0.1 2.5,-0.1 2.5,0.1 2.5,0.2 2.5,0.3 2.5,0.4 2.5,0.6 2.5,0.7 2.5,0.9 2.5,1.1 2.5,1.2 2.5,1.4 2.5,1.7 2.5,1.8 2.5,2.1 2.5,2.2 2.5,2.4 2.5,2.4 2.5,2.3 2.5,2.1 2.5,1.6 2.5,1.1 2.5,0.2 2.5,-0.5 2.5,-1.2 2.5,-1.8 2.5,-2.2 2.5,-2.4 2.5,-2.5 2.5,-2.4 2.5,-2.3 2.5,-2.2 2.5,-1.9 2.5,-1.7 2.5,-1.5 2.5,-1.3 2.5,-1.2 2.5,-1 2.5,-0.9 2.5,-0.7 2.5,-0.6 2.5,-0.6 2.5,-0.4 2.5,-0.4 2.5,-0.3 2.5,-0.2 2.5,-0.1 2.5,-0.1 2.5,0 2.5,0 2.5,0.1 2.5,0.2 2.5,0.2 2.5,0.3 2.5,0.3 2.5,0.5 2.5,0.5 2.5,0.6 2.5,0.7 2.5,0.9 2.5,0.9 2.5,1.1 2.5,1.3 2.5,1.5 2.5,1.7 2.5,2 2.5,2.3 2.5,2.6 2.5,2.9 2.5,3.5 2.5,3.8 2.5,4.4 2.5,4.7 2.5,5.1 2.5,5.3 2.5,5.1 2.5,4.6 2.5,3.6 2.5,2.1 2.5,0.3 2.5,-1.5 2.5,-3 2.5,-4.3 2.5,-4.9 2.5,-5.2 2.5,-5.1 2.5,-4.8 2.5,-4.5 2.5,-3.9 2.5,-3.5 2.5,-3 2.5,-2.7 2.5,-2.3 2.5,-1.9 2.5,-1.7 2.5,-1.4 2.5,-1.2 2.5,-1.1 2.5,-0.8 2.5,-0.7 2.5,-0.6 2.5,-0.4 2.5,-0.3 2.5,-0.2 2.5,-0.1 2.5,0 2.5,0.2 2.5,0.2 2.5,0.4 2.5,0.5 2.5,0.6 2.5,0.8 2.5,0.9 2.5,1.2 2.5,1.4 2.5,1.6 2.5,1.9 2.5,2.2 2.5,2.7 2.5,3 2.5,3.5 2.5,4.1 2.5,4.5 2.5,5.1 2.5,5.5 2.5,5.6 2.5,5.5 2.5,4.8 2.5,3.6 2.5,1.8 2.5,-0.2 2.5,-2.2 2.5,-3.9 2.5,-5.1 2.5,-5.7 2.5,-5.9 2.5,-5.6 2.5,-5.2 2.5,-4.7 2.5,-4.2 2.5,-3.7 2.5,-3.2 2.5,-2.8 2.5,-2.5 2.5,-2.1 2.5,-1.9 2.5,-1.6 2.5,-1.4 2.5,-1.3 2.5,-1.1 2.5,-1 2.5,-0.9 2.5,-0.8 2.5,-0.7 2.5,-0.7 2.5,-0.6 2.5,-0.5 2.5,-0.5 2.5,-0.4 2.5,-0.4 2.5,-0.4 2.5,-0.3 2.5,-0.3 2.5,-0.3 2.5,-0.3 2.5,-0.2 2.5,-0.2 2.5,-0.2 2.5,-0.2 2.5,-0.2 2.5,-0.2 2.5,-0.2 2.5,-0.1 2.5,-0.1 2.5,-0.2 2.5,-0.1 2.5,-0.1 2.5,-0.1 2.5,-0.1 2.5,-0.1 2.5,-0.1 2.5,-0.1 2.5,-0.1 2.5,-0.1 2.5,-0.1 2.5,-0.1 2.5,0 2.5,-0.1 2.5,-0.1 2.5,0 2.5,-0.1 2.5,0 2.5,-0.1 2.5,0 2.5,-0.1 2.5,0 2.5,-0.1 2.5,0 2.5,-0.1 2.5,0 2.5,0 2.5,-0.1 2.5,0 2.5,-0.1 2.5,0 2.5,0 2.5,-0.1 2.5,0 2.5,0 2.5,0 2.5,-0.1 2.5,0 2.5,0 2.5,-0.1 2.5,0 2.5,0 2.5,0 2.5,0 2.5,-0.1 2.5,0 2.5,0 2.5,0 2.5,0 2.5,-0.1 2.5,0 2.5,0 2.5,0 2.5,0 2.5,-0.1 2.5,0 2.5,0 2.5,0 2.5,0 2.5,0 2.5,0 2.5,-0.1 2.5,0 2.5,0 2.5,0 2.5,0 2.5,0 2.5,0 2.5,0 2.5,-0.1 2.5,0 2.5,0 2.5,0 2.5,0 1.2,0 0,-0.8" fill="url(#gK)" stroke="#ff44ff" stroke-width="1.5"/>
<path d="M148.8,1570.0H1422.5" stroke="#ff3a8c" stroke-width="2"/>
<path d="M148.8,1573l2.5,0.1 2.5,0 2.5,0.1 2.5,0 2.5,0.1 2.5,0 2.5,0.1 2.5,0 2.5,0.1 2.5,0 2.5,0.1 2.5,0 2.5,0.1 2.5,0.1 2.5,0 2.5,0.1 2.5,0 2.5,0.1 2.5,0.1 2.5,0.1 2.5,0 2.5,0.1 2.5,0.1 2.5,0.1 2.5,0 2.5,0.1 2.5,0.1 2.5,0.1 2.5,0.1 2.5,0.1 2.5,0.1 2.5,0.1 2.5,0.1 2.5,0.1 2.5,0.1 2.5,0.1 2.5,0.2 2.5,0.1 2.5,0.1 2.5,0.2 2.5,0.1 2.5,0.1 2.5,0.2 2.5,0.2 2.5,0.1 2.5,0.2 2.5,0.2 2.5,0.2 2.5,0.2 2.5,0.2 2.5,0.2 2.5,0.2 2.5,0.2 2.5,0.3 2.5,0.3 2.5,0.2 2.5,0.3 2.5,0.3 2.5,0.3 2.5,0.4 2.5,0.3 2.5,0.4 2.5,0.4 2.5,0.4 2.5,0.5 2.5,0.4 2.5,0.5 2.5,0.6 2.5,0.5 2.5,0.6 2.5,0.7 2.5,0.7 2.5,0.8 2.5,0.8 2.5,0.8 2.5,1 2.5,1 2.5,1.1 2.5,1.2 2.5,1.3 2.5,1.5 2.5,1.5 2.5,1.8 2.5,1.9 2.5,2.1 2.5,2.3 2.5,2.5 2.5,2.9 2.5,3.2 2.5,3.6 2.5,4 2.5,4.5 2.5,5 2.5,5.7 2.5,6.4 2.5,7.2 2.5,8 2.5,8.9 2.5,9.7 2.5,10.4 2.5,10.9 2.5,11.1 2.5,10.7 2.5,9.6 2.5,7.8 2.5,5.2 2.5,2.2 2.5,-0.9 2.5,-3.8 2.5,-5.9 2.5,-7.4 2.5,-8.1 2.5,-8 2.5,-7.5 2.5,-6.7 2.5,-5.6 2.5,-4.4 2.5,-3.1 2.5,-2 2.5,-0.8 2.5,0.2 2.5,1.1 2.5,1.8 2.5,2.3 2.5,2.5 2.5,2.2 2.5,1.5 2.5,0.5 2.5,-0.8 2.5,-2.3 2.5,-3.6 2.5,-4.9 2.5,-5.6 2.5,-6.1 2.5,-6.3 2.5,-6.1 2.5,-5.8 2.5,-5.4 2.5,-4.8 2.5,-4.4 2.5,-3.8 2.5,-3.4 2.5,-2.9 2.5,-2.5 2.5,-2.1 2.5,-1.7 2.5,-1.4 2.5,-1 2.5,-0.8 2.5,-0.4 2.5,-0.2 2.5,0.1 2.5,0.3 2.5,0.7 2.5,1 2.5,1.3 2.5,1.7 2.5,2.1 2.5,2.5 2.5,3.1 2.5,3.6 2.5,4.3 2.5,5.1 2.5,6 2.5,7 2.5,8.1 2.5,9.5 2.5,10.8 2.5,12 2.5,12.9 2.5,13.2 2.5,12.4 2.5,10.5 2.5,7.4 2.5,3.9 2.5,0.4 2.5,-2 2.5,-3.4 2.5,-3.9 2.5,-3.8 2.5,-3.6 2.5,-3.6 2.5,-4 2.5,-4.6 2.5,-5.6 2.5,-6.4 2.5,-7.3 2.5,-7.9 2.5,-8.2 2.5,-8.4 2.5,-8.1 2.5,-7.8 2.5,-7.3 2.5,-6.8 2.5,-6.1 2.5,-5.6 2.5,-5 2.5,-4.5 2.5,-4 2.5,-3.6 2.5,-3.2 2.5,-2.8 2.5,-2.5 2.5,-2.1 2.5,-2 2.5,-1.6 2.5,-1.5 2.5,-1.2 2.5,-1.1 2.5,-0.9 2.5,-0.7 2.5,-0.6 2.5,-0.4 2.5,-0.2 2.5,-0.1 2.5,0.1 2.5,0.2 2.5,0.3 2.5,0.6 2.5,0.8 2.5,0.9 2.5,1.2 2.5,1.4 2.5,1.7 2.5,2 2.5,2.4 2.5,2.8 2.5,3.3 2.5,3.9 2.5,4.4 2.5,5.2 2.5,5.9 2.5,6.8 2.5,7.6 2.5,8.3 2.5,8.8 2.5,9 2.5,8.5 2.5,7.2 2.5,5.1 2.5,2.3 2.5,-0.9 2.5,-3.8 2.5,-6.3 2.5,-7.9 2.5,-8.6 2.5,-8.7 2.5,-8.2 2.5,-7.6 2.5,-6.8 2.5,-5.9 2.5,-5.1 2.5,-4.3 2.5,-3.7 2.5,-3.1 2.5,-2.5 2.5,-2.1 2.5,-1.7 2.5,-1.2 2.5,-0.9 2.5,-0.6 2.5,-0.3 2.5,0 2.5,0.3 2.5,0.5 2.5,0.9 2.5,1.1 2.5,1.4 2.5,1.7 2.5,2.1 2.5,2.4 2.5,2.8 2.5,3.2 2.5,3.7 2.5,4.1 2.5,4.6 2.5,5.1 2.5,5.6 2.5,6.1 2.5,6.4 2.5,6.6 2.5,6.7 2.5,6.5 2.5,5.9 2.5,4.9 2.5,3.7 2.5,2.1 2.5,0.3 2.5,-1.6 2.5,-3.2 2.5,-4.6 2.5,-5.7 2.5,-6.3 2.5,-6.7 2.5,-6.7 2.5,-6.5 2.5,-6.2 2.5,-5.8 2.5,-5.3 2.5,-4.9 2.5,-4.3 2.5,-3.9 2.5,-3.4 2.5,-3.1 2.5,-2.7 2.5,-2.3 2.5,-2 2.5,-1.8 2.5,-1.4 2.5,-1.3 2.5,-1 2.5,-0.7 2.5,-0.6 2.5,-0.4 2.5,-0.2 2.5,0 2.5,0.3 2.5,0.4 2.5,0.6 2.5,0.9 2.5,1 2.5,1.4 2.5,1.6 2.5,2 2.5,2.3 2.5,2.7 2.5,3.2 2.5,3.6 2.5,4.3 2.5,4.8 2.5,5.6 2.5,6.2 2.5,6.8 2.5,7.5 2.5,7.8 2.5,7.8 2.5,7.4 2.5,6.4 2.5,5.1 2.5,3.4 2.5,2 2.5,0.9 2.5,0.3 2.5,0.4 2.5,0.9 2.5,1.9 2.5,2.9 2.5,4.1 2.5,5.1 2.5,5.6 2.5,5.9 2.5,5.5 2.5,4.3 2.5,2.6 2.5,0.3 2.5,-2.2 2.5,-4.8 2.5,-6.8 2.5,-8.4 2.5,-9.3 2.5,-9.7 2.5,-9.5 2.5,-9 2.5,-8.4 2.5,-7.6 2.5,-6.7 2.5,-5.9 2.5,-5.1 2.5,-4.3 2.5,-3.7 2.5,-3 2.5,-2.3 2.5,-1.8 2.5,-1.3 2.5,-0.7 2.5,-0.2 2.5,0.3 2.5,0.9 2.5,1.4 2.5,2 2.5,2.5 2.5,3.1 2.5,3.8 2.5,4.3 2.5,4.9 2.5,5.3 2.5,5.5 2.5,5.5 2.5,5.1 2.5,4.3 2.5,3.1 2.5,1.6 2.5,0 2.5,-1.6 2.5,-2.8 2.5,-3.7 2.5,-4.1 2.5,-4.1 2.5,-3.9 2.5,-3.3 2.5,-2.7 2.5,-1.8 2.5,-1 2.5,-0.1 2.5,0.8 2.5,1.9 2.5,2.8 2.5,3.8 2.5,5 2.5,5.9 2.5,7 2.5,8 2.5,8.6 2.5,8.9 2.5,8.8 2.5,8 2.5,6.4 2.5,4 2.5,1 2.5,-2.1 2.5,-5.2 2.5,-7.7 2.5,-9.5 2.5,-10.5 2.5,-10.9 2.5,-10.7 2.5,-10.2 2.5,-9.4 2.5,-8.6 2.5,-7.8 2.5,-7 2.5,-6.2 2.5,-5.6 2.5,-4.9 2.5,-4.4 2.5,-3.9 2.5,-3.4 2.5,-3.1 2.5,-2.8 2.5,-2.5 2.5,-2.3 2.5,-2 2.5,-1.9 2.5,-1.7 2.5,-1.5 2.5,-1.4 2.5,-1.3 2.5,-1.1 2.5,-1.1 2.5,-1 2.5,-0.9 2.5,-0.9 2.5,-0.8 2.5,-0.7 2.5,-0.7 2.5,-0.6 2.5,-0.6 2.5,-0.6 2.5,-0.5 2.5,-0.5 2.5,-0.4 2.5,-0.5 2.5,-0.4 2.5,-0.4 2.5,-0.3 2.5,-0.4 2.5,-0.3 2.5,-0.3 2.5,-0.3 2.5,-0.3 2.5,-0.3 2.5,-0.2 2.5,-0.3 2.5,-0.2 2.5,-0.2 2.5,-0.2 2.5,-0.2 2.5,-0.2 2.5,-0.2 2.5,-0.2 2.5,-0.2 2.5,-0.1 2.5,-0.2 2.5,-0.1 2.5,-0.2 2.5,-0.1 2.5,-0.2 2.5,-0.1 2.5,-0.1 2.5,-0.1 2.5,-0.1 2.5,-0.2 2.5,-0.1 2.5,-0.1 2.5,-0.1 2.5,-0.1 2.5,-0.1 2.5,-0.1 2.5,-0.1 2.5,0 2.5,-0.1 2.5,-0.1 2.5,-0.1 2.5,-0.1 2.5,0 2.5,-0.1 2.5,-0.1 2.5,0 2.5,-0.1 1.2,0" fill="none" stroke="#0000ff" stroke-width="9.5" stroke-linejoin="round"/>
<path d="M141 1907h0m2 16h0m1 9h0m1 -25h0m2 -2h0m1 16h0m1 -12h0m2 9h0m1 9h0m2 -12h0m1 6h0m2 -41h0m1 41h0m2 -15h0m2 -9h0m1 9h0m2 -12h0m2 0h0m1 -10h0m2 17h0m2 -9h0m2 7h0m2 19h0m2 -9h0m2 -16h0m2 21h0m2 6h0m2 -11h0m2 0h0m2 -2h0m2 -11h0m2 25h0m2 -7h0m2 -7h0m2 1h0m3 -1h0m2 19h0m2 -21h0m3 -17h0m2 22h0m2 9h0m3 -2h0m2 -13h0m3 -15h0m2 45h0m3 -37h0m2 13h0m3 -3h0m2 -6h0m3 2h0m3 -8h0m2 2h0m3 5h0m3 5h0m2 31h0m3 -42h0m3 26h0m3 -13h0m3 -5h0m2 -13h0m3 17h0m3 -12h0m3 16h0m3 1h0m3 -19h0m3 29h0m3 -16h0m3 3h0m3 3h0m3 -8h0m4 18h0m3 7h0m3 -17h0m3 9h0m3 13h0m4 -15h0m3 -10h0m3 17h0m3 -12h0m4 -4h0m3 -15h0m4 20h0m3 -12h0m3 14h0m4 -29h0m3 12h0m4 32h0m3 4h0m4 -16h0m3 0h0m4 -31h0m3 34h0m4 -13h0m4 -17h0m3 15h0m4 1h0m4 23h0m3 -4h0m4 29h0m4 -8h0m4 -14h0m3 10h0m4 -17h0m4 31h0m4 -7h0m4 15h0m3 14h0m4 11h0m4 11h0m4 35h0m4 23h0m4 -18h0m4 41h0m4 15h0m4 -4h0m4 -1h0m4 -11h0m4 -33h0m4 -28h0m4 -6h0m4 -25h0m4 -14h0m4 11h0m5 -19h0m4 -32h0m4 24h0m4 -28h0m4 9h0m4 -28h0m5 34h0m4 -35h0m4 27h0m4 20h0m4 -18h0m5 -6h0m4 -11h0m4 11h0m5 18h0m4 -34h0m4 21h0m5 36h0m4 -10h0m4 34h0m5 12h0m4 2h0m4 31h0m5 34h0m4 -15h0m5 2h0m4 2h0m4 -18h0m5 -3h0m4 -3h0m5 -27h0m4 -18h0m5 -10h0m4 1h0m5 -34h0m4 -15h0m5 38h0m4 -29h0m5 -39h0m4 15h0m5 -16h0m4 28h0m5 -25h0m4 8h0m5 26h0m4 -28h0m5 9h0m5 6h0m4 10h0m5 3h0m4 10h0m5 -21h0m4 21h0m5 -17h0m5 32h0m4 8h0m5 33h0m4 -10h0m5 0h0m4 6h0m5 -9h0m5 -9h0m4 -19h0m5 -8h0m4 -18h0m5 -1h0m5 7h0m4 -31h0m5 2h0m4 -8h0m5 41h0m5 -4h0m4 -13h0m5 -3h0m4 -9h0m5 30h0m5 -3h0m4 16h0m5 10h0m4 -24h0m5 24h0m4 21h0m5 20h0m5 -15h0m4 9h0m5 -21h0m4 -27h0m5 7h0m4 -34h0m5 -10h0m4 30h0m5 -7h0m4 -18h0m5 9h0m5 -24h0m4 4h0m5 8h0m4 0h0m5 3h0m4 -23h0m4 30h0m5 -24h0m4 15h0m5 36h0m4 -16h0m5 -14h0m4 16h0m5 -5h0m4 10h0m4 11h0m5 22h0m4 24h0m5 31h0m4 45h0m4 5h0m5 18h0m4 -13h0m4 14h0m5 -43h0m4 -14h0m4 -45h0m4 -1h0m5 -43h0m4 -9h0m4 -6h0m4 -7h0m5 2h0m4 -5h0m4 -29h0m4 8h0m4 3h0m5 17h0m4 -11h0m4 13h0m4 1h0m4 -3h0m4 -24h0m4 53h0m4 -13h0m4 -5h0m4 18h0m4 0h0m4 18h0m4 2h0m4 50h0m4 -16h0m4 20h0m4 -6h0m4 23h0m4 11h0m4 -12h0m3 -8h0m4 18h0m4 -4h0m4 5h0m4 -23h0m3 -19h0m4 -26h0m4 -18h0m4 -11h0m3 5h0m4 -25h0m4 0h0m3 -19h0m4 -3h0m3 -14h0m4 8h0m3 -8h0m4 -22h0m3 14h0m4 -9h0m3 13h0m4 -3h0m3 19h0m4 -15h0m3 -9h0m3 0h0m4 0h0m3 -1h0m3 11h0m4 -13h0m3 9h0m3 9h0m3 -19h0m3 6h0m4 20h0m3 -14h0m3 -11h0m3 11h0m3 -10h0m3 -7h0m3 20h0m3 -22h0m3 3h0m3 6h0m3 11h0m3 -2h0m3 -16h0m2 7h0m3 -4h0m3 14h0m3 -6h0m3 -12h0m2 18h0m3 -26h0m3 11h0m2 -18h0m3 34h0m3 -13h0m2 8h0m3 26h0m2 -29h0m3 -1h0m2 -9h0m2 9h0m3 -8h0m2 11h0m3 0h0m2 -3h0m2 -6h0m2 0h0m3 1h0m2 -1h0m2 8h0m2 -15h0m2 5h0m3 8h0m2 15h0m2 -16h0m2 -6h0m2 -1h0m2 21h0m2 -26h0m1 1h0m2 5h0m2 -8h0m2 6h0m2 8h0m1 -7h0m2 -20h0m2 28h0m2 5h0m1 -16h0m2 28h0m1 -19h0m2 1h0m1 -19h0m2 44h0m1 -4h0m2 -9h0m1 5h0m2 -28h0m1 1h0m1 12h0m2 -5h0m1 -13h0" stroke="#008000" stroke-width="16" stroke-linecap="round"/>
<path d="M139 1904h0m1 16h0m1 9h0m2 -25h0m1 -2h0m1 16h0m2 -12h0m1 9h0m2 9h0m1 -12h0m2 6h0m1 -41h0m2 41h0m1 -15h0m2 -9h0m2 9h0m1 -12h0m2 0h0m2 -10h0m2 17h0m2 -9h0m1 7h0m2 19h0m2 -9h0m2 -16h0m2 21h0m2 6h0m2 -11h0m2 0h0m2 -2h0m2 -11h0m2 25h0m3 -7h0m2 -7h0m2 1h0m2 -1h0m2 19h0m3 -21h0m2 -17h0m2 22h0m3 9h0m2 -2h0m3 -13h0m2 -15h0m3 45h0m2 -37h0m3 13h0m2 -3h0m3 -6h0m2 2h0m3 -8h0m3 2h0m2 5h0m3 5h0m3 31h0m3 -42h0m2 26h0m3 -13h0m3 -5h0m3 -13h0m3 17h0m3 -12h0m3 16h0m3 1h0m3 -19h0m3 29h0m3 -16h0m3 3h0m3 3h0m3 -8h0m3 18h0m3 7h0m3 -17h0m4 9h0m3 13h0m3 -15h0m3 -10h0m4 17h0m3 -12h0m3 -4h0m4 -15h0m3 20h0m3 -12h0m4 14h0m3 -29h0m4 12h0m3 32h0m4 4h0m3 -16h0m4 0h0m3 -31h0m4 34h0m4 -13h0m3 -17h0m4 15h0m3 1h0m4 23h0m4 -4h0m4 29h0m3 -8h0m4 -14h0m4 10h0m4 -17h0m3 31h0m4 -7h0m4 15h0m4 14h0m4 11h0m4 11h0m4 35h0m4 23h0m3 -18h0m4 41h0m4 15h0m4 -4h0m4 -1h0m4 -11h0m4 -33h0m5 -28h0m4 -6h0m4 -25h0m4 -14h0m4 11h0m4 -19h0m4 -32h0m4 24h0m4 -28h0m5 9h0m4 -28h0m4 34h0m4 -35h0m4 27h0m5 20h0m4 -18h0m4 -6h0m5 -11h0m4 11h0m4 18h0m4 -34h0m5 21h0m4 36h0m4 -10h0m5 34h0m4 12h0m5 2h0m4 31h0m4 34h0m5 -15h0m4 2h0m5 2h0m4 -18h0m4 -3h0m5 -3h0m4 -27h0m5 -18h0m4 -10h0m5 1h0m4 -34h0m5 -15h0m4 38h0m5 -29h0m4 -39h0m5 15h0m4 -16h0m5 28h0m4 -25h0m5 8h0m4 26h0m5 -28h0m4 9h0m5 6h0m5 10h0m4 3h0m5 10h0m4 -21h0m5 21h0m4 -17h0m5 32h0m5 8h0m4 33h0m5 -10h0m4 0h0m5 6h0m5 -9h0m4 -9h0m5 -19h0m4 -8h0m5 -18h0m5 -1h0m4 7h0m5 -31h0m4 2h0m5 -8h0m4 41h0m5 -4h0m5 -13h0m4 -3h0m5 -9h0m4 30h0m5 -3h0m5 16h0m4 10h0m5 -24h0m4 24h0m5 21h0m5 20h0m4 -15h0m5 9h0m4 -21h0m5 -27h0m4 7h0m5 -34h0m4 -10h0m5 30h0m4 -7h0m5 -18h0m5 9h0m4 -24h0m5 4h0m4 8h0m5 0h0m4 3h0m4 -23h0m5 30h0m4 -24h0m5 15h0m4 36h0m5 -16h0m4 -14h0m5 16h0m4 -5h0m4 10h0m5 11h0m4 22h0m5 24h0m4 31h0m4 45h0m5 5h0m4 18h0m4 -13h0m5 14h0m4 -43h0m4 -14h0m5 -45h0m4 -1h0m4 -43h0m4 -9h0m5 -6h0m4 -7h0m4 2h0m4 -5h0m5 -29h0m4 8h0m4 3h0m4 17h0m4 -11h0m4 13h0m4 1h0m5 -3h0m4 -24h0m4 53h0m4 -13h0m4 -5h0m4 18h0m4 0h0m4 18h0m4 2h0m4 50h0m4 -16h0m4 20h0m3 -6h0m4 23h0m4 11h0m4 -12h0m4 -8h0m4 18h0m4 -4h0m3 5h0m4 -23h0m4 -19h0m4 -26h0m3 -18h0m4 -11h0m4 5h0m3 -25h0m4 0h0m4 -19h0m3 -3h0m4 -14h0m3 8h0m4 -8h0m3 -22h0m4 14h0m3 -9h0m4 13h0m3 -3h0m4 19h0m3 -15h0m4 -9h0m3 0h0m3 0h0m4 -1h0m3 11h0m3 -13h0m3 9h0m4 9h0m3 -19h0m3 6h0m3 20h0m3 -14h0m3 -11h0m3 11h0m3 -10h0m4 -7h0m3 20h0m3 -22h0m3 3h0m2 6h0m3 11h0m3 -2h0m3 -16h0m3 7h0m3 -4h0m3 14h0m2 -6h0m3 -12h0m3 18h0m2 -26h0m3 11h0m3 -18h0m2 34h0m3 -13h0m3 8h0m2 26h0m3 -29h0m2 -1h0m3 -9h0m2 9h0m2 -8h0m3 11h0m2 0h0m2 -3h0m3 -6h0m2 0h0m2 1h0m2 -1h0m3 8h0m2 -15h0m2 5h0m2 8h0m2 15h0m2 -16h0m2 -6h0m2 -1h0m2 21h0m2 -26h0m2 1h0m2 5h0m2 -8h0m1 6h0m2 8h0m2 -7h0m2 -20h0m1 28h0m2 5h0m2 -16h0m1 28h0m2 -19h0m1 1h0m2 -19h0m1 44h0m2 -4h0m1 -9h0m2 5h0m1 -28h0m1 1h0m2 12h0m1 -5h0m1 -13h0" stroke="#c4eecb" stroke-width="3.6" stroke-linecap="round"/>
<path d="M148.8,1906.5l0,0.5 2.5,0 2.5,0.1 2.5,0 2.5,0 2.5,0 2.5,0 2.5,0 2.5,0 2.5,0 2.5,0 2.5,0 2.5,0 2.5,0 2.5,0.1 2.5,0 2.5,0 2.5,0 2.5,0 2.5,0 2.5,0 2.5,0 2.5,0 2.5,0.1 2.5,0 2.5,0 2.5,0 2.5,0 2.5,0 2.5,0 2.5,0.1 2.5,0 2.5,0 2.5,0 2.5,0 2.5,0 2.5,0.1 2.5,0 2.5,0 2.5,0 2.5,0 2.5,0.1 2.5,0 2.5,0 2.5,0 2.5,0.1 2.5,0 2.5,0 2.5,0 2.5,0.1 2.5,0 2.5,0 2.5,0.1 2.5,0 2.5,0 2.5,0.1 2.5,0 2.5,0 2.5,0.1 2.5,0 2.5,0.1 2.5,0 2.5,0.1 2.5,0 2.5,0.1 2.5,0 2.5,0.1 2.5,0.1 2.5,0 2.5,0.1 2.5,0.1 2.5,0 2.5,0.1 2.5,0.1 2.5,0.1 2.5,0.1 2.5,0.1 2.5,0.1 2.5,0.2 2.5,0.1 2.5,0.1 2.5,0.2 2.5,0.1 2.5,0.2 2.5,0.2 2.5,0.2 2.5,0.2 2.5,0.3 2.5,0.2 2.5,0.3 2.5,0.3 2.5,0.4 2.5,0.3 2.5,0.4 2.5,0.5 2.5,0.5 2.5,0.6 2.5,0.6 2.5,0.8 2.5,0.8 2.5,0.9 2.5,1.1 2.5,1.2 2.5,1.5 2.5,1.6 2.5,2 2.5,2.3 2.5,2.7 2.5,3.2 2.5,3.9 2.5,4.6 2.5,5.5 2.5,6.5 2.5,7.6 2.5,8.7 2.5,9.3 2.5,9.4 2.5,8 2.5,5.2 2.5,1.2 2.5,-3.1 2.5,-6.6 2.5,-8.7 2.5,-9.4 2.5,-9 2.5,-8.1 2.5,-7 2.5,-5.9 2.5,-4.9 2.5,-4.2 2.5,-3.4 2.5,-2.8 2.5,-2.4 2.5,-2 2.5,-1.6 2.5,-1.4 2.5,-1.2 2.5,-1 2.5,-0.8 2.5,-0.7 2.5,-0.6 2.5,-0.5 2.5,-0.4 2.5,-0.3 2.5,-0.2 2.5,-0.2 2.5,-0.1 2.5,0 2.5,0 2.5,0.1 2.5,0.1 2.5,0.2 2.5,0.3 2.5,0.3 2.5,0.5 2.5,0.5 2.5,0.6 2.5,0.7 2.5,0.8 2.5,1 2.5,1.2 2.5,1.3 2.5,1.6 2.5,1.8 2.5,2.2 2.5,2.6 2.5,3 2.5,3.5 2.5,4.2 2.5,5 2.5,5.7 2.5,6.6 2.5,7.5 2.5,8 2.5,8.2 2.5,7.5 2.5,5.8 2.5,3 2.5,-0.4 2.5,-3.6 2.5,-6.2 2.5,-7.7 2.5,-8.3 2.5,-8 2.5,-7.3 2.5,-6.5 2.5,-5.7 2.5,-4.8 2.5,-4.2 2.5,-3.5 2.5,-2.9 2.5,-2.6 2.5,-2.1 2.5,-1.9 2.5,-1.6 2.5,-1.4 2.5,-1.2 2.5,-1 2.5,-0.9 2.5,-0.8 2.5,-0.7 2.5,-0.6 2.5,-0.6 2.5,-0.4 2.5,-0.4 2.5,-0.4 2.5,-0.3 2.5,-0.3 2.5,-0.2 2.5,-0.2 2.5,-0.1 2.5,-0.1 2.5,-0.1 2.5,-0.1 2.5,0 2.5,0 2.5,0.1 2.5,0.1 2.5,0.1 2.5,0.2 2.5,0.3 2.5,0.3 2.5,0.4 2.5,0.4 2.5,0.6 2.5,0.7 2.5,0.8 2.5,1.1 2.5,1.2 2.5,1.5 2.5,1.9 2.5,2.3 2.5,2.7 2.5,3.4 2.5,4 2.5,4.5 2.5,4.9 2.5,4.6 2.5,3.4 2.5,1.4 2.5,-1 2.5,-3.1 2.5,-4.5 2.5,-4.8 2.5,-4.7 2.5,-4.1 2.5,-3.4 2.5,-2.9 2.5,-2.4 2.5,-1.9 2.5,-1.6 2.5,-1.3 2.5,-1 2.5,-0.9 2.5,-0.7 2.5,-0.6 2.5,-0.4 2.5,-0.4 2.5,-0.3 2.5,-0.2 2.5,-0.1 2.5,-0.1 2.5,0 2.5,0 2.5,0.1 2.5,0.2 2.5,0.2 2.5,0.4 2.5,0.4 2.5,0.5 2.5,0.7 2.5,0.8 2.5,0.9 2.5,1.2 2.5,1.5 2.5,1.8 2.5,2.2 2.5,2.7 2.5,3.3 2.5,3.9 2.5,4.5 2.5,4.7 2.5,4.5 2.5,3.3 2.5,1.4 2.5,-1 2.5,-3 2.5,-4.4 2.5,-4.8 2.5,-4.5 2.5,-4 2.5,-3.5 2.5,-2.8 2.5,-2.3 2.5,-1.9 2.5,-1.6 2.5,-1.3 2.5,-1 2.5,-0.9 2.5,-0.7 2.5,-0.6 2.5,-0.5 2.5,-0.5 2.5,-0.3 2.5,-0.3 2.5,-0.2 2.5,-0.2 2.5,-0.1 2.5,-0.1 2.5,-0.1 2.5,0 2.5,0 2.5,0 2.5,0.1 2.5,0.1 2.5,0.1 2.5,0.1 2.5,0.2 2.5,0.3 2.5,0.2 2.5,0.4 2.5,0.3 2.5,0.5 2.5,0.5 2.5,0.6 2.5,0.6 2.5,0.8 2.5,1 2.5,1 2.5,1.3 2.5,1.5 2.5,1.8 2.5,2.2 2.5,2.5 2.5,3.1 2.5,3.8 2.5,4.6 2.5,5.6 2.5,6.8 2.5,8 2.5,9.2 2.5,9.8 2.5,9.4 2.5,7.2 2.5,3.3 2.5,-1.6 2.5,-6 2.5,-8.8 2.5,-9.9 2.5,-9.4 2.5,-8.4 2.5,-7.2 2.5,-6 2.5,-4.9 2.5,-4 2.5,-3.3 2.5,-2.8 2.5,-2.2 2.5,-1.9 2.5,-1.6 2.5,-1.3 2.5,-1.1 2.5,-1 2.5,-0.8 2.5,-0.6 2.5,-0.6 2.5,-0.5 2.5,-0.4 2.5,-0.4 2.5,-0.3 2.5,-0.2 2.5,-0.2 2.5,-0.1 2.5,-0.1 2.5,-0.1 2.5,0 2.5,0 2.5,0.1 2.5,0.1 2.5,0.1 2.5,0.2 2.5,0.3 2.5,0.2 2.5,0.4 2.5,0.4 2.5,0.5 2.5,0.6 2.5,0.7 2.5,0.8 2.5,1 2.5,1.1 2.5,1.3 2.5,1.6 2.5,1.9 2.5,2.3 2.5,2.8 2.5,3.3 2.5,4.1 2.5,4.9 2.5,6.1 2.5,7.3 2.5,8.6 2.5,9.8 2.5,10.4 2.5,9.8 2.5,7.3 2.5,3 2.5,-2.3 2.5,-6.9 2.5,-9.6 2.5,-10.5 2.5,-10 2.5,-8.9 2.5,-7.5 2.5,-6.3 2.5,-5.2 2.5,-4.2 2.5,-3.5 2.5,-2.9 2.5,-2.4 2.5,-2.1 2.5,-1.7 2.5,-1.4 2.5,-1.3 2.5,-1.1 2.5,-0.9 2.5,-0.8 2.5,-0.7 2.5,-0.6 2.5,-0.6 2.5,-0.5 2.5,-0.4 2.5,-0.4 2.5,-0.4 2.5,-0.3 2.5,-0.3 2.5,-0.2 2.5,-0.3 2.5,-0.2 2.5,-0.2 2.5,-0.2 2.5,-0.2 2.5,-0.1 2.5,-0.2 2.5,-0.1 2.5,-0.1 2.5,-0.1 2.5,-0.1 2.5,-0.1 2.5,-0.1 2.5,-0.1 2.5,-0.1 2.5,-0.1 2.5,-0.1 2.5,0 2.5,-0.1 2.5,-0.1 2.5,0 2.5,-0.1 2.5,0 2.5,-0.1 2.5,0 2.5,-0.1 2.5,0 2.5,-0.1 2.5,0 2.5,0 2.5,-0.1 2.5,0 2.5,0 2.5,-0.1 2.5,0 2.5,0 2.5,-0.1 2.5,0 2.5,0 2.5,0 2.5,-0.1 2.5,0 2.5,0 2.5,0 2.5,-0.1 2.5,0 2.5,0 2.5,0 2.5,0 2.5,0 2.5,-0.1 2.5,0 2.5,0 2.5,0 2.5,0 2.5,0 2.5,-0.1 2.5,0 2.5,0 2.5,0 2.5,0 2.5,0 2.5,0 2.5,0 2.5,0 2.5,-0.1 2.5,0 2.5,0 2.5,0 2.5,0 2.5,0 2.5,0 2.5,0 1.2,0 0,-0.6" fill="url(#gO)" stroke="#ff9a50" stroke-width="1.5"/>
<path d="M148.8,1906.5l0,0.4 2.5,0 2.5,0 2.5,0 2.5,0.1 2.5,0 2.5,0 2.5,0 2.5,0 2.5,0 2.5,0 2.5,0 2.5,0 2.5,0 2.5,0 2.5,0 2.5,0 2.5,0 2.5,0.1 2.5,0 2.5,0 2.5,0 2.5,0 2.5,0 2.5,0 2.5,0 2.5,0 2.5,0 2.5,0 2.5,0.1 2.5,0 2.5,0 2.5,0 2.5,0 2.5,0 2.5,0 2.5,0 2.5,0.1 2.5,0 2.5,0 2.5,0 2.5,0 2.5,0 2.5,0 2.5,0.1 2.5,0 2.5,0 2.5,0 2.5,0 2.5,0.1 2.5,0 2.5,0 2.5,0 2.5,0 2.5,0.1 2.5,0 2.5,0 2.5,0 2.5,0.1 2.5,0 2.5,0 2.5,0.1 2.5,0 2.5,0 2.5,0.1 2.5,0 2.5,0 2.5,0.1 2.5,0 2.5,0.1 2.5,0 2.5,0.1 2.5,0 2.5,0.1 2.5,0.1 2.5,0 2.5,0.1 2.5,0.1 2.5,0 2.5,0.1 2.5,0.1 2.5,0.1 2.5,0.1 2.5,0.1 2.5,0.1 2.5,0.1 2.5,0.2 2.5,0.1 2.5,0.1 2.5,0.2 2.5,0.2 2.5,0.2 2.5,0.2 2.5,0.2 2.5,0.2 2.5,0.3 2.5,0.3 2.5,0.3 2.5,0.4 2.5,0.4 2.5,0.4 2.5,0.5 2.5,0.6 2.5,0.6 2.5,0.7 2.5,0.8 2.5,0.9 2.5,1 2.5,1.2 2.5,1.4 2.5,1.6 2.5,1.9 2.5,2.2 2.5,2.6 2.5,3.1 2.5,3.6 2.5,4.3 2.5,4.9 2.5,5.8 2.5,6.3 2.5,6.8 2.5,6.7 2.5,5.7 2.5,3.9 2.5,1.3 2.5,-1.7 2.5,-4.1 2.5,-5.9 2.5,-6.7 2.5,-6.7 2.5,-6.2 2.5,-5.6 2.5,-4.8 2.5,-4.1 2.5,-3.5 2.5,-2.9 2.5,-2.5 2.5,-2.1 2.5,-1.8 2.5,-1.5 2.5,-1.3 2.5,-1.1 2.5,-0.9 2.5,-0.8 2.5,-0.7 2.5,-0.6 2.5,-0.5 2.5,-0.5 2.5,-0.4 2.5,-0.3 2.5,-0.3 2.5,-0.2 2.5,-0.2 2.5,-0.1 2.5,-0.1 2.5,-0.1 2.5,0 2.5,0 2.5,0 2.5,0 2.5,0.1 2.5,0.2 2.5,0.2 2.5,0.2 2.5,0.3 2.5,0.3 2.5,0.4 2.5,0.4 2.5,0.6 2.5,0.6 2.5,0.8 2.5,0.9 2.5,1.1 2.5,1.3 2.5,1.5 2.5,1.9 2.5,2.2 2.5,2.7 2.5,3.3 2.5,4 2.5,4.8 2.5,5.8 2.5,6.6 2.5,7.3 2.5,7.2 2.5,6.2 2.5,3.8 2.5,0.3 2.5,-3.2 2.5,-5.9 2.5,-7.1 2.5,-7.4 2.5,-6.7 2.5,-5.9 2.5,-5 2.5,-4.2 2.5,-3.4 2.5,-2.8 2.5,-2.3 2.5,-1.9 2.5,-1.6 2.5,-1.3 2.5,-1.2 2.5,-0.9 2.5,-0.8 2.5,-0.7 2.5,-0.6 2.5,-0.4 2.5,-0.5 2.5,-0.3 2.5,-0.3 2.5,-0.2 2.5,-0.2 2.5,-0.2 2.5,-0.1 2.5,-0.1 2.5,0 2.5,0 2.5,0 2.5,0.1 2.5,0.1 2.5,0.2 2.5,0.2 2.5,0.2 2.5,0.3 2.5,0.4 2.5,0.4 2.5,0.6 2.5,0.6 2.5,0.7 2.5,0.9 2.5,1 2.5,1.2 2.5,1.4 2.5,1.7 2.5,2 2.5,2.3 2.5,2.6 2.5,3 2.5,3.1 2.5,3 2.5,2.7 2.5,1.9 2.5,0.8 2.5,-0.4 2.5,-1.7 2.5,-2.5 2.5,-3 2.5,-3 2.5,-3 2.5,-2.6 2.5,-2.3 2.5,-2 2.5,-1.7 2.5,-1.4 2.5,-1.2 2.5,-0.9 2.5,-0.8 2.5,-0.7 2.5,-0.5 2.5,-0.4 2.5,-0.3 2.5,-0.2 2.5,-0.1 2.5,0 2.5,0 2.5,0.2 2.5,0.2 2.5,0.4 2.5,0.4 2.5,0.6 2.5,0.8 2.5,0.9 2.5,1.2 2.5,1.4 2.5,1.8 2.5,2.1 2.5,2.7 2.5,3.2 2.5,3.8 2.5,4.3 2.5,4.6 2.5,4.4 2.5,3.5 2.5,1.7 2.5,-0.6 2.5,-2.6 2.5,-4.1 2.5,-4.6 2.5,-4.5 2.5,-4.1 2.5,-3.6 2.5,-2.9 2.5,-2.5 2.5,-2 2.5,-1.7 2.5,-1.3 2.5,-1.1 2.5,-0.9 2.5,-0.8 2.5,-0.6 2.5,-0.5 2.5,-0.5 2.5,-0.3 2.5,-0.3 2.5,-0.2 2.5,-0.1 2.5,-0.1 2.5,-0.1 2.5,0 2.5,0 2.5,0 2.5,0.1 2.5,0.2 2.5,0.1 2.5,0.3 2.5,0.2 2.5,0.3 2.5,0.4 2.5,0.4 2.5,0.5 2.5,0.6 2.5,0.7 2.5,0.7 2.5,0.9 2.5,1 2.5,1.2 2.5,1.3 2.5,1.6 2.5,1.9 2.5,2.2 2.5,2.6 2.5,3 2.5,3.6 2.5,4.1 2.5,4.9 2.5,5.6 2.5,6.2 2.5,6.6 2.5,6.6 2.5,5.9 2.5,4.3 2.5,1.9 2.5,-0.9 2.5,-3.4 2.5,-5.4 2.5,-6.3 2.5,-6.6 2.5,-6.3 2.5,-5.7 2.5,-5.1 2.5,-4.3 2.5,-3.6 2.5,-3.2 2.5,-2.6 2.5,-2.2 2.5,-1.8 2.5,-1.6 2.5,-1.3 2.5,-1.1 2.5,-0.9 2.5,-0.7 2.5,-0.6 2.5,-0.5 2.5,-0.4 2.5,-0.3 2.5,-0.2 2.5,-0.1 2.5,0 2.5,0.1 2.5,0.2 2.5,0.2 2.5,0.4 2.5,0.4 2.5,0.6 2.5,0.6 2.5,0.9 2.5,0.9 2.5,1.2 2.5,1.3 2.5,1.6 2.5,1.9 2.5,2.2 2.5,2.6 2.5,3 2.5,3.4 2.5,4.1 2.5,4.6 2.5,5.2 2.5,5.6 2.5,5.8 2.5,5.8 2.5,5 2.5,3.7 2.5,1.8 2.5,-0.4 2.5,-2.6 2.5,-4.3 2.5,-5.5 2.5,-5.9 2.5,-6 2.5,-5.6 2.5,-5.1 2.5,-4.6 2.5,-3.9 2.5,-3.5 2.5,-3 2.5,-2.6 2.5,-2.3 2.5,-1.9 2.5,-1.7 2.5,-1.5 2.5,-1.2 2.5,-1.2 2.5,-1 2.5,-0.9 2.5,-0.8 2.5,-0.7 2.5,-0.6 2.5,-0.6 2.5,-0.5 2.5,-0.4 2.5,-0.4 2.5,-0.4 2.5,-0.4 2.5,-0.3 2.5,-0.3 2.5,-0.2 2.5,-0.3 2.5,-0.2 2.5,-0.2 2.5,-0.2 2.5,-0.2 2.5,-0.2 2.5,-0.1 2.5,-0.2 2.5,-0.1 2.5,-0.1 2.5,-0.2 2.5,-0.1 2.5,-0.1 2.5,-0.1 2.5,-0.1 2.5,-0.1 2.5,-0.1 2.5,0 2.5,-0.1 2.5,-0.1 2.5,-0.1 2.5,0 2.5,-0.1 2.5,0 2.5,-0.1 2.5,-0.1 2.5,0 2.5,-0.1 2.5,0 2.5,0 2.5,-0.1 2.5,0 2.5,-0.1 2.5,0 2.5,0 2.5,-0.1 2.5,0 2.5,0 2.5,-0.1 2.5,0 2.5,0 2.5,-0.1 2.5,0 2.5,0 2.5,0 2.5,-0.1 2.5,0 2.5,0 2.5,0 2.5,-0.1 2.5,0 2.5,0 2.5,0 2.5,0 2.5,-0.1 2.5,0 2.5,0 2.5,0 2.5,0 2.5,0 2.5,-0.1 2.5,0 2.5,0 2.5,0 2.5,0 2.5,0 2.5,0 2.5,0 2.5,-0.1 2.5,0 2.5,0 2.5,0 2.5,0 2.5,0 2.5,0 2.5,0 2.5,0 2.5,-0.1 2.5,0 2.5,0 2.5,0 2.5,0 1.2,0 0,-0.6" fill="url(#gY)" stroke="#d4d4c0" stroke-width="1.5"/>
<path d="M148.8,1906.5H1422.5" stroke="#ff7a00" stroke-width="2"/>
<path d="M148.8,1908.1l2.5,0 2.5,0 2.5,0 2.5,0 2.5,0.1 2.5,0 2.5,0 2.5,0 2.5,0.1 2.5,0 2.5,0 2.5,0 2.5,0.1 2.5,0 2.5,0 2.5,0 2.5,0.1 2.5,0 2.5,0 2.5,0.1 2.5,0 2.5,0 2.5,0.1 2.5,0 2.5,0 2.5,0.1 2.5,0 2.5,0 2.5,0.1 2.5,0 2.5,0.1 2.5,0 2.5,0.1 2.5,0 2.5,0.1 2.5,0 2.5,0.1 2.5,0 2.5,0.1 2.5,0 2.5,0.1 2.5,0 2.5,0.1 2.5,0.1 2.5,0 2.5,0.1 2.5,0.1 2.5,0.1 2.5,0 2.5,0.1 2.5,0.1 2.5,0.1 2.5,0.1 2.5,0.1 2.5,0.1 2.5,0.1 2.5,0.1 2.5,0.1 2.5,0.1 2.5,0.1 2.5,0.1 2.5,0.2 2.5,0.1 2.5,0.1 2.5,0.2 2.5,0.2 2.5,0.1 2.5,0.2 2.5,0.2 2.5,0.2 2.5,0.2 2.5,0.2 2.5,0.2 2.5,0.3 2.5,0.2 2.5,0.3 2.5,0.3 2.5,0.3 2.5,0.3 2.5,0.3 2.5,0.4 2.5,0.4 2.5,0.4 2.5,0.5 2.5,0.5 2.5,0.5 2.5,0.6 2.5,0.6 2.5,0.7 2.5,0.7 2.5,0.8 2.5,0.9 2.5,0.9 2.5,1.1 2.5,1.1 2.5,1.3 2.5,1.4 2.5,1.6 2.5,1.7 2.5,2 2.5,2.2 2.5,2.4 2.5,2.8 2.5,3.2 2.5,3.7 2.5,4.1 2.5,4.8 2.5,5.6 2.5,6.3 2.5,7.4 2.5,8.5 2.5,9.7 2.5,11 2.5,12.4 2.5,13.5 2.5,14.3 2.5,14.4 2.5,13.7 2.5,12.1 2.5,9.5 2.5,6.3 2.5,2.6 2.5,-1.4 2.5,-5.6 2.5,-9.6 2.5,-12.8 2.5,-14.8 2.5,-15.5 2.5,-15 2.5,-13.9 2.5,-12.3 2.5,-10.8 2.5,-9.3 2.5,-7.8 2.5,-6.7 2.5,-5.7 2.5,-4.9 2.5,-4.1 2.5,-3.5 2.5,-3 2.5,-2.5 2.5,-2.1 2.5,-1.9 2.5,-1.5 2.5,-1.2 2.5,-1 2.5,-0.9 2.5,-0.6 2.5,-0.4 2.5,-0.3 2.5,-0.1 2.5,0.1 2.5,0.3 2.5,0.4 2.5,0.6 2.5,0.8 2.5,1 2.5,1.3 2.5,1.5 2.5,1.8 2.5,2.1 2.5,2.6 2.5,2.9 2.5,3.5 2.5,4.2 2.5,4.8 2.5,5.6 2.5,6.7 2.5,7.7 2.5,8.9 2.5,10.1 2.5,11.3 2.5,12.2 2.5,12.4 2.5,11.9 2.5,10.1 2.5,7.3 2.5,4 2.5,0.9 2.5,-1.4 2.5,-2.7 2.5,-2.8 2.5,-2.7 2.5,-2.6 2.5,-3.3 2.5,-4.8 2.5,-7 2.5,-9.1 2.5,-10.6 2.5,-11.4 2.5,-11.1 2.5,-10.4 2.5,-9.3 2.5,-8.2 2.5,-7 2.5,-6.1 2.5,-5.1 2.5,-4.4 2.5,-3.8 2.5,-3.2 2.5,-2.8 2.5,-2.3 2.5,-2 2.5,-1.8 2.5,-1.5 2.5,-1.2 2.5,-1.1 2.5,-0.9 2.5,-0.8 2.5,-0.6 2.5,-0.4 2.5,-0.4 2.5,-0.2 2.5,-0.1 2.5,0.1 2.5,0.1 2.5,0.3 2.5,0.5 2.5,0.6 2.5,0.9 2.5,1 2.5,1.2 2.5,1.6 2.5,1.8 2.5,2.3 2.5,2.7 2.5,3.2 2.5,3.8 2.5,4.5 2.5,5.1 2.5,5.7 2.5,6.1 2.5,6.1 2.5,5.7 2.5,5.1 2.5,4.5 2.5,4.2 2.5,4.3 2.5,4.7 2.5,4.9 2.5,4.2 2.5,2.4 2.5,-0.6 2.5,-4.2 2.5,-7.1 2.5,-9 2.5,-9.5 2.5,-9 2.5,-8.2 2.5,-7 2.5,-5.8 2.5,-4.9 2.5,-4 2.5,-3.3 2.5,-2.7 2.5,-2.1 2.5,-1.8 2.5,-1.3 2.5,-1 2.5,-0.7 2.5,-0.4 2.5,-0.1 2.5,0.1 2.5,0.3 2.5,0.7 2.5,0.9 2.5,1.3 2.5,1.6 2.5,2.1 2.5,2.7 2.5,3.2 2.5,4 2.5,4.8 2.5,5.8 2.5,6.7 2.5,7.3 2.5,7.6 2.5,7.2 2.5,6.1 2.5,4.8 2.5,4.1 2.5,3.9 2.5,4.2 2.5,4.1 2.5,3.1 2.5,1.1 2.5,-2 2.5,-5.3 2.5,-7.9 2.5,-9.3 2.5,-9.6 2.5,-9.1 2.5,-8.2 2.5,-7.1 2.5,-6.1 2.5,-5.1 2.5,-4.2 2.5,-3.6 2.5,-2.9 2.5,-2.5 2.5,-2 2.5,-1.7 2.5,-1.4 2.5,-1.2 2.5,-0.9 2.5,-0.7 2.5,-0.6 2.5,-0.4 2.5,-0.2 2.5,-0.2 2.5,0 2.5,0.1 2.5,0.3 2.5,0.3 2.5,0.5 2.5,0.6 2.5,0.7 2.5,0.9 2.5,1.1 2.5,1.2 2.5,1.5 2.5,1.6 2.5,1.9 2.5,2.3 2.5,2.5 2.5,3 2.5,3.4 2.5,3.9 2.5,4.6 2.5,5.3 2.5,6.1 2.5,7 2.5,8 2.5,9.2 2.5,10.3 2.5,11.5 2.5,12.6 2.5,13.6 2.5,14.4 2.5,15 2.5,14.9 2.5,13.8 2.5,11 2.5,5.9 2.5,-0.7 2.5,-7.8 2.5,-13.7 2.5,-17.3 2.5,-18.4 2.5,-17.9 2.5,-16.4 2.5,-14.3 2.5,-12.2 2.5,-10.4 2.5,-8.8 2.5,-7.3 2.5,-6.1 2.5,-5.2 2.5,-4.3 2.5,-3.6 2.5,-3 2.5,-2.5 2.5,-2.1 2.5,-1.7 2.5,-1.4 2.5,-1.1 2.5,-0.9 2.5,-0.5 2.5,-0.4 2.5,-0.1 2.5,0 2.5,0.3 2.5,0.5 2.5,0.8 2.5,0.9 2.5,1.2 2.5,1.5 2.5,1.8 2.5,2.1 2.5,2.5 2.5,2.8 2.5,3.3 2.5,3.9 2.5,4.3 2.5,5 2.5,5.7 2.5,6.3 2.5,7.1 2.5,7.7 2.5,8.3 2.5,8.6 2.5,8.6 2.5,8.2 2.5,7.3 2.5,6.2 2.5,4.7 2.5,3.3 2.5,2.2 2.5,1.7 2.5,1.8 2.5,2.2 2.5,2.9 2.5,3.3 2.5,2.7 2.5,0.7 2.5,-2.5 2.5,-6.5 2.5,-10 2.5,-12.6 2.5,-13.4 2.5,-13.3 2.5,-12.2 2.5,-10.9 2.5,-9.5 2.5,-8.2 2.5,-7 2.5,-6 2.5,-5.1 2.5,-4.4 2.5,-3.8 2.5,-3.4 2.5,-2.8 2.5,-2.6 2.5,-2.2 2.5,-2 2.5,-1.8 2.5,-1.5 2.5,-1.5 2.5,-1.2 2.5,-1.2 2.5,-1 2.5,-1 2.5,-0.9 2.5,-0.8 2.5,-0.7 2.5,-0.7 2.5,-0.6 2.5,-0.6 2.5,-0.5 2.5,-0.5 2.5,-0.5 2.5,-0.4 2.5,-0.4 2.5,-0.4 2.5,-0.3 2.5,-0.4 2.5,-0.3 2.5,-0.3 2.5,-0.2 2.5,-0.3 2.5,-0.2 2.5,-0.3 2.5,-0.2 2.5,-0.2 2.5,-0.2 2.5,-0.2 2.5,-0.2 2.5,-0.2 2.5,-0.1 2.5,-0.2 2.5,-0.1 2.5,-0.2 2.5,-0.1 2.5,-0.1 2.5,-0.2 2.5,-0.1 2.5,-0.1 2.5,-0.1 2.5,-0.1 2.5,-0.1 2.5,-0.1 2.5,-0.1 2.5,-0.1 2.5,-0.1 2.5,-0.1 2.5,0 2.5,-0.1 2.5,-0.1 2.5,-0.1 2.5,0 2.5,-0.1 2.5,-0.1 2.5,0 2.5,-0.1 2.5,-0.1 2.5,0 2.5,-0.1 2.5,0 2.5,-0.1 2.5,0 2.5,-0.1 2.5,0 2.5,-0.1 2.5,0 2.5,-0.1 2.5,0 2.5,0 2.5,-0.1 2.5,0 2.5,-0.1 2.5,0 2.5,0 2.5,-0.1 2.5,0 2.5,0 2.5,-0.1 2.5,0 2.5,0 2.5,-0.1 1.2,0" fill="none" stroke="#0000ff" stroke-width="9.5" stroke-linejoin="round"/>
<path d="M141 2272h0m2 -5h0m1 2h0m1 -7h0m2 11h0m1 -25h0m1 27h0m2 -14h0m1 1h0m2 -9h0m1 -6h0m2 12h0m1 12h0m2 -4h0m2 5h0m1 -11h0m2 5h0m2 -4h0m1 -9h0m2 10h0m2 -4h0m2 13h0m2 -10h0m2 1h0m2 6h0m2 4h0m2 -10h0m2 0h0m2 3h0m2 8h0m2 -19h0m2 -2h0m2 40h0m2 -30h0m2 2h0m3 -21h0m2 16h0m2 3h0m3 -5h0m2 2h0m2 2h0m3 5h0m2 7h0m3 -22h0m2 0h0m3 18h0m2 -4h0m3 -10h0m2 -5h0m3 6h0m3 8h0m2 6h0m3 4h0m3 -3h0m2 -17h0m3 27h0m3 -10h0m3 -8h0m3 0h0m2 10h0m3 -13h0m3 1h0m3 5h0m3 13h0m3 -28h0m3 24h0m3 -30h0m3 11h0m3 11h0m3 8h0m4 -22h0m3 23h0m3 2h0m3 -16h0m3 2h0m4 1h0m3 -17h0m3 44h0m3 -19h0m4 -18h0m3 19h0m4 0h0m3 -6h0m3 4h0m4 8h0m3 -13h0m4 -4h0m3 27h0m4 -12h0m3 -7h0m4 21h0m3 -37h0m4 13h0m4 19h0m3 -3h0m4 4h0m4 -6h0m3 2h0m4 5h0m4 7h0m4 17h0m3 12h0m4 6h0m4 21h0m4 -14h0m4 35h0m3 11h0m4 46h0m4 -9h0m4 16h0m4 0h0m4 -8h0m4 -5h0m4 2h0m4 -14h0m4 -32h0m4 3h0m4 -34h0m4 -6h0m4 -16h0m4 -2h0m4 -32h0m4 25h0m5 -11h0m4 -3h0m4 2h0m4 -8h0m4 -22h0m4 8h0m5 -6h0m4 6h0m4 12h0m4 9h0m4 -27h0m5 5h0m4 14h0m4 9h0m5 2h0m4 -3h0m4 18h0m5 8h0m4 1h0m4 35h0m5 -10h0m4 33h0m4 17h0m5 16h0m4 9h0m5 -23h0m4 -12h0m4 -11h0m5 -8h0m4 -39h0m5 0h0m4 -16h0m5 -20h0m4 8h0m5 -21h0m4 6h0m5 -2h0m4 17h0m5 -33h0m4 14h0m5 -5h0m4 -5h0m5 -3h0m4 17h0m5 -20h0m4 15h0m5 -10h0m5 10h0m4 3h0m5 -20h0m4 9h0m5 13h0m4 8h0m5 -6h0m5 30h0m4 19h0m5 4h0m4 13h0m5 -13h0m4 13h0m5 -6h0m5 -5h0m4 -38h0m5 8h0m4 -30h0m5 5h0m5 -7h0m4 -18h0m5 7h0m4 6h0m5 0h0m5 -4h0m4 6h0m5 11h0m4 5h0m5 -29h0m5 23h0m4 13h0m5 -14h0m4 41h0m5 23h0m4 -13h0m5 -3h0m5 15h0m4 8h0m5 0h0m4 -37h0m5 -15h0m4 -18h0m5 9h0m4 -20h0m5 5h0m4 7h0m5 -12h0m5 -13h0m4 13h0m5 7h0m4 1h0m5 -29h0m4 22h0m4 1h0m5 -6h0m4 -7h0m5 6h0m4 2h0m5 33h0m4 -13h0m5 1h0m4 15h0m4 20h0m5 -2h0m4 23h0m5 14h0m4 4h0m4 38h0m5 8h0m4 29h0m4 11h0m5 -31h0m4 -32h0m4 -28h0m4 3h0m5 -41h0m4 -17h0m4 9h0m4 -30h0m5 21h0m4 -29h0m4 7h0m4 -4h0m4 1h0m5 5h0m4 -2h0m4 -19h0m4 2h0m4 10h0m4 10h0m4 -9h0m4 0h0m4 -9h0m4 28h0m4 2h0m4 -5h0m4 15h0m4 27h0m4 -10h0m4 10h0m4 26h0m4 -16h0m4 21h0m4 5h0m3 -3h0m4 6h0m4 5h0m4 13h0m4 8h0m3 18h0m4 1h0m4 -21h0m4 -23h0m3 -42h0m4 12h0m4 -23h0m3 -13h0m4 -1h0m3 -24h0m4 -7h0m3 9h0m4 -45h0m3 40h0m4 -9h0m3 -18h0m4 3h0m3 17h0m4 -19h0m3 14h0m3 -5h0m4 -5h0m3 -2h0m3 -1h0m4 -3h0m3 6h0m3 6h0m3 -30h0m3 34h0m4 8h0m3 -38h0m3 27h0m3 -11h0m3 6h0m3 -8h0m3 -11h0m3 18h0m3 -5h0m3 2h0m3 -14h0m3 8h0m3 11h0m2 -25h0m3 19h0m3 -21h0m3 26h0m3 13h0m2 -36h0m3 12h0m3 7h0m2 -15h0m3 19h0m3 -7h0m2 -5h0m3 13h0m2 -9h0m3 24h0m2 -14h0m2 -9h0m3 0h0m2 -14h0m3 4h0m2 -3h0m2 13h0m2 -1h0m3 -16h0m2 14h0m2 -4h0m2 -6h0m2 12h0m3 -8h0m2 -5h0m2 2h0m2 7h0m2 -16h0m2 7h0m2 9h0m1 6h0m2 -7h0m2 -4h0m2 -13h0m2 26h0m1 -19h0m2 -2h0m2 19h0m2 -16h0m1 -3h0m2 12h0m1 5h0m2 -3h0m1 -21h0m2 19h0m1 -6h0m2 -1h0m1 10h0m2 1h0m1 -21h0m1 25h0m2 -12h0m1 0h0" stroke="#008000" stroke-width="16" stroke-linecap="round"/>
<path d="M139 2269h0m1 -5h0m1 2h0m2 -7h0m1 11h0m1 -25h0m2 27h0m1 -14h0m2 1h0m1 -9h0m2 -6h0m1 12h0m2 12h0m1 -4h0m2 5h0m2 -11h0m1 5h0m2 -4h0m2 -9h0m2 10h0m2 -4h0m1 13h0m2 -10h0m2 1h0m2 6h0m2 4h0m2 -10h0m2 0h0m2 3h0m2 8h0m2 -19h0m2 -2h0m3 40h0m2 -30h0m2 2h0m2 -21h0m2 16h0m3 3h0m2 -5h0m2 2h0m3 2h0m2 5h0m3 7h0m2 -22h0m3 0h0m2 18h0m3 -4h0m2 -10h0m3 -5h0m2 6h0m3 8h0m3 6h0m2 4h0m3 -3h0m3 -17h0m3 27h0m2 -10h0m3 -8h0m3 0h0m3 10h0m3 -13h0m3 1h0m3 5h0m3 13h0m3 -28h0m3 24h0m3 -30h0m3 11h0m3 11h0m3 8h0m3 -22h0m3 23h0m3 2h0m4 -16h0m3 2h0m3 1h0m3 -17h0m4 44h0m3 -19h0m3 -18h0m4 19h0m3 0h0m3 -6h0m4 4h0m3 8h0m4 -13h0m3 -4h0m4 27h0m3 -12h0m4 -7h0m3 21h0m4 -37h0m4 13h0m3 19h0m4 -3h0m3 4h0m4 -6h0m4 2h0m4 5h0m3 7h0m4 17h0m4 12h0m4 6h0m3 21h0m4 -14h0m4 35h0m4 11h0m4 46h0m4 -9h0m4 16h0m4 0h0m3 -8h0m4 -5h0m4 2h0m4 -14h0m4 -32h0m4 3h0m4 -34h0m5 -6h0m4 -16h0m4 -2h0m4 -32h0m4 25h0m4 -11h0m4 -3h0m4 2h0m4 -8h0m5 -22h0m4 8h0m4 -6h0m4 6h0m4 12h0m5 9h0m4 -27h0m4 5h0m5 14h0m4 9h0m4 2h0m4 -3h0m5 18h0m4 8h0m4 1h0m5 35h0m4 -10h0m5 33h0m4 17h0m4 16h0m5 9h0m4 -23h0m5 -12h0m4 -11h0m4 -8h0m5 -39h0m4 0h0m5 -16h0m4 -20h0m5 8h0m4 -21h0m5 6h0m4 -2h0m5 17h0m4 -33h0m5 14h0m4 -5h0m5 -5h0m4 -3h0m5 17h0m4 -20h0m5 15h0m4 -10h0m5 10h0m5 3h0m4 -20h0m5 9h0m4 13h0m5 8h0m4 -6h0m5 30h0m5 19h0m4 4h0m5 13h0m4 -13h0m5 13h0m5 -6h0m4 -5h0m5 -38h0m4 8h0m5 -30h0m5 5h0m4 -7h0m5 -18h0m4 7h0m5 6h0m4 0h0m5 -4h0m5 6h0m4 11h0m5 5h0m4 -29h0m5 23h0m5 13h0m4 -14h0m5 41h0m4 23h0m5 -13h0m5 -3h0m4 15h0m5 8h0m4 0h0m5 -37h0m4 -15h0m5 -18h0m4 9h0m5 -20h0m4 5h0m5 7h0m5 -12h0m4 -13h0m5 13h0m4 7h0m5 1h0m4 -29h0m4 22h0m5 1h0m4 -6h0m5 -7h0m4 6h0m5 2h0m4 33h0m5 -13h0m4 1h0m4 15h0m5 20h0m4 -2h0m5 23h0m4 14h0m4 4h0m5 38h0m4 8h0m4 29h0m5 11h0m4 -31h0m4 -32h0m5 -28h0m4 3h0m4 -41h0m4 -17h0m5 9h0m4 -30h0m4 21h0m4 -29h0m5 7h0m4 -4h0m4 1h0m4 5h0m4 -2h0m4 -19h0m4 2h0m5 10h0m4 10h0m4 -9h0m4 0h0m4 -9h0m4 28h0m4 2h0m4 -5h0m4 15h0m4 27h0m4 -10h0m4 10h0m3 26h0m4 -16h0m4 21h0m4 5h0m4 -3h0m4 6h0m4 5h0m3 13h0m4 8h0m4 18h0m4 1h0m3 -21h0m4 -23h0m4 -42h0m3 12h0m4 -23h0m4 -13h0m3 -1h0m4 -24h0m3 -7h0m4 9h0m3 -45h0m4 40h0m3 -9h0m4 -18h0m3 3h0m4 17h0m3 -19h0m4 14h0m3 -5h0m3 -5h0m4 -2h0m3 -1h0m3 -3h0m3 6h0m4 6h0m3 -30h0m3 34h0m3 8h0m3 -38h0m3 27h0m3 -11h0m3 6h0m4 -8h0m3 -11h0m3 18h0m3 -5h0m2 2h0m3 -14h0m3 8h0m3 11h0m3 -25h0m3 19h0m3 -21h0m2 26h0m3 13h0m3 -36h0m2 12h0m3 7h0m3 -15h0m2 19h0m3 -7h0m3 -5h0m2 13h0m3 -9h0m2 24h0m3 -14h0m2 -9h0m2 0h0m3 -14h0m2 4h0m2 -3h0m3 13h0m2 -1h0m2 -16h0m2 14h0m3 -4h0m2 -6h0m2 12h0m2 -8h0m2 -5h0m2 2h0m2 7h0m2 -16h0m2 7h0m2 9h0m2 6h0m2 -7h0m2 -4h0m1 -13h0m2 26h0m2 -19h0m2 -2h0m1 19h0m2 -16h0m2 -3h0m1 12h0m2 5h0m1 -3h0m2 -21h0m1 19h0m2 -6h0m1 -1h0m2 10h0m1 1h0m1 -21h0m2 25h0m1 -12h0m1 0h0" stroke="#c4eecb" stroke-width="3.6" stroke-linecap="round"/>
<path d="M148.8,2262l0,0.6 2.5,0 2.5,0 2.5,0 2.5,0 2.5,0 2.5,0.1 2.5,0 2.5,0 2.5,0 2.5,0 2.5,0 2.5,0 2.5,0 2.5,0 2.5,0 2.5,0.1 2.5,0 2.5,0 2.5,0 2.5,0 2.5,0 2.5,0 2.5,0.1 2.5,0 2.5,0 2.5,0 2.5,0 2.5,0 2.5,0 2.5,0.1 2.5,0 2.5,0 2.5,0 2.5,0 2.5,0.1 2.5,0 2.5,0 2.5,0 2.5,0 2.5,0.1 2.5,0 2.5,0 2.5,0.1 2.5,0 2.5,0 2.5,0 2.5,0.1 2.5,0 2.5,0 2.5,0.1 2.5,0 2.5,0.1 2.5,0 2.5,0 2.5,0.1 2.5,0 2.5,0.1 2.5,0 2.5,0.1 2.5,0 2.5,0.1 2.5,0.1 2.5,0 2.5,0.1 2.5,0.1 2.5,0 2.5,0.1 2.5,0.1 2.5,0.1 2.5,0.1 2.5,0.1 2.5,0.1 2.5,0.1 2.5,0.1 2.5,0.2 2.5,0.1 2.5,0.2 2.5,0.1 2.5,0.2 2.5,0.2 2.5,0.2 2.5,0.2 2.5,0.3 2.5,0.2 2.5,0.3 2.5,0.4 2.5,0.3 2.5,0.4 2.5,0.4 2.5,0.5 2.5,0.5 2.5,0.6 2.5,0.7 2.5,0.7 2.5,0.9 2.5,1 2.5,1.1 2.5,1.3 2.5,1.5 2.5,1.7 2.5,2.1 2.5,2.4 2.5,2.9 2.5,3.5 2.5,4.1 2.5,5.1 2.5,6 2.5,7.3 2.5,8.5 2.5,9.9 2.5,11 2.5,11.6 2.5,11.3 2.5,10.1 2.5,7.8 2.5,3.9 2.5,-1.7 2.5,-7.9 2.5,-12.5 2.5,-14.4 2.5,-13.7 2.5,-12 2.5,-10 2.5,-8 2.5,-6.5 2.5,-5.1 2.5,-4.2 2.5,-3.4 2.5,-2.8 2.5,-2.2 2.5,-1.9 2.5,-1.6 2.5,-1.3 2.5,-1.1 2.5,-0.9 2.5,-0.8 2.5,-0.6 2.5,-0.6 2.5,-0.4 2.5,-0.4 2.5,-0.2 2.5,-0.3 2.5,-0.1 2.5,-0.1 2.5,0 2.5,0.1 2.5,0.1 2.5,0.1 2.5,0.3 2.5,0.3 2.5,0.3 2.5,0.5 2.5,0.5 2.5,0.7 2.5,0.8 2.5,0.9 2.5,1 2.5,1.3 2.5,1.4 2.5,1.8 2.5,2 2.5,2.4 2.5,2.8 2.5,3.4 2.5,4 2.5,4.7 2.5,5.5 2.5,6.5 2.5,7.3 2.5,8.1 2.5,8.5 2.5,8.3 2.5,7.5 2.5,6.1 2.5,4.7 2.5,3.2 2.5,1.2 2.5,-2.8 2.5,-8 2.5,-12.1 2.5,-12.9 2.5,-11.5 2.5,-9.5 2.5,-7.7 2.5,-6 2.5,-4.8 2.5,-3.9 2.5,-3.2 2.5,-2.7 2.5,-2.1 2.5,-1.9 2.5,-1.5 2.5,-1.4 2.5,-1.1 2.5,-1 2.5,-0.8 2.5,-0.8 2.5,-0.6 2.5,-0.6 2.5,-0.5 2.5,-0.4 2.5,-0.4 2.5,-0.3 2.5,-0.3 2.5,-0.3 2.5,-0.2 2.5,-0.2 2.5,-0.1 2.5,-0.1 2.5,-0.1 2.5,-0.1 2.5,0 2.5,-0.1 2.5,0.1 2.5,0 2.5,0.1 2.5,0.1 2.5,0.1 2.5,0.2 2.5,0.3 2.5,0.3 2.5,0.3 2.5,0.5 2.5,0.5 2.5,0.7 2.5,0.8 2.5,1.1 2.5,1.3 2.5,1.6 2.5,2.1 2.5,2.7 2.5,3.5 2.5,4.5 2.5,5.9 2.5,7.2 2.5,7.9 2.5,6.9 2.5,3.5 2.5,-1.5 2.5,-5.4 2.5,-7 2.5,-6.9 2.5,-6 2.5,-4.9 2.5,-4 2.5,-3.1 2.5,-2.4 2.5,-1.9 2.5,-1.5 2.5,-1.1 2.5,-0.9 2.5,-0.7 2.5,-0.5 2.5,-0.4 2.5,-0.3 2.5,-0.2 2.5,-0.1 2.5,0 2.5,0.1 2.5,0.1 2.5,0.2 2.5,0.2 2.5,0.3 2.5,0.4 2.5,0.4 2.5,0.5 2.5,0.6 2.5,0.7 2.5,0.8 2.5,0.8 2.5,1 2.5,1.2 2.5,1.3 2.5,1.4 2.5,1.8 2.5,2 2.5,2.4 2.5,3.1 2.5,4 2.5,5.7 2.5,8.2 2.5,10.5 2.5,7.2 2.5,-3.2 2.5,-8.5 2.5,-6.8 2.5,-4.5 2.5,-3.1 2.5,-2.3 2.5,-2.1 2.5,-1.9 2.5,-1.8 2.5,-1.8 2.5,-1.8 2.5,-1.7 2.5,-1.7 2.5,-1.5 2.5,-1.5 2.5,-1.3 2.5,-1.3 2.5,-1.1 2.5,-1 2.5,-0.9 2.5,-0.9 2.5,-0.8 2.5,-0.6 2.5,-0.6 2.5,-0.6 2.5,-0.5 2.5,-0.4 2.5,-0.4 2.5,-0.3 2.5,-0.2 2.5,-0.3 2.5,-0.2 2.5,-0.1 2.5,-0.1 2.5,0 2.5,0 2.5,0 2.5,0.1 2.5,0.1 2.5,0.2 2.5,0.3 2.5,0.3 2.5,0.4 2.5,0.5 2.5,0.6 2.5,0.8 2.5,0.9 2.5,1.1 2.5,1.3 2.5,1.7 2.5,2 2.5,2.5 2.5,3.1 2.5,3.9 2.5,4.9 2.5,6.1 2.5,7.5 2.5,8.9 2.5,9.9 2.5,10.2 2.5,8.9 2.5,7.2 2.5,6.7 2.5,9.9 2.5,15.2 2.5,9.1 2.5,-15.9 2.5,-29.3 2.5,-23.9 2.5,-16.1 2.5,-10.6 2.5,-7.2 2.5,-5.1 2.5,-3.8 2.5,-2.8 2.5,-2.2 2.5,-1.8 2.5,-1.4 2.5,-1.1 2.5,-1 2.5,-0.8 2.5,-0.6 2.5,-0.6 2.5,-0.4 2.5,-0.4 2.5,-0.3 2.5,-0.2 2.5,-0.3 2.5,-0.1 2.5,-0.1 2.5,-0.1 2.5,0 2.5,-0.1 2.5,0.1 2.5,0 2.5,0.1 2.5,0.2 2.5,0.1 2.5,0.2 2.5,0.3 2.5,0.3 2.5,0.4 2.5,0.4 2.5,0.5 2.5,0.5 2.5,0.7 2.5,0.7 2.5,0.9 2.5,1 2.5,1.2 2.5,1.4 2.5,1.7 2.5,2 2.5,2.4 2.5,2.8 2.5,3.5 2.5,4.2 2.5,5.1 2.5,6.3 2.5,7.7 2.5,9.2 2.5,10.8 2.5,12.1 2.5,12.6 2.5,11.9 2.5,9.6 2.5,6.1 2.5,1.1 2.5,-4.4 2.5,-9.5 2.5,-12.8 2.5,-13.7 2.5,-13 2.5,-11.3 2.5,-9.5 2.5,-7.8 2.5,-6.3 2.5,-5.2 2.5,-4.2 2.5,-3.5 2.5,-2.8 2.5,-2.4 2.5,-2 2.5,-1.7 2.5,-1.5 2.5,-1.3 2.5,-1 2.5,-1 2.5,-0.8 2.5,-0.7 2.5,-0.7 2.5,-0.6 2.5,-0.5 2.5,-0.4 2.5,-0.4 2.5,-0.4 2.5,-0.3 2.5,-0.3 2.5,-0.3 2.5,-0.3 2.5,-0.2 2.5,-0.2 2.5,-0.2 2.5,-0.2 2.5,-0.2 2.5,-0.1 2.5,-0.2 2.5,-0.1 2.5,-0.1 2.5,-0.2 2.5,-0.1 2.5,-0.1 2.5,-0.1 2.5,-0.1 2.5,0 2.5,-0.1 2.5,-0.1 2.5,-0.1 2.5,0 2.5,-0.1 2.5,-0.1 2.5,0 2.5,-0.1 2.5,0 2.5,-0.1 2.5,0 2.5,-0.1 2.5,0 2.5,-0.1 2.5,0 2.5,0 2.5,-0.1 2.5,0 2.5,-0.1 2.5,0 2.5,0 2.5,0 2.5,-0.1 2.5,0 2.5,0 2.5,-0.1 2.5,0 2.5,0 2.5,0 2.5,0 2.5,-0.1 2.5,0 2.5,0 2.5,0 2.5,0 2.5,-0.1 2.5,0 2.5,0 2.5,0 2.5,0 2.5,0 2.5,-0.1 2.5,0 2.5,0 2.5,0 2.5,0 2.5,0 2.5,0 2.5,-0.1 2.5,0 2.5,0 1.2,0 0,-0.7" fill="url(#gO)" stroke="#ff9a50" stroke-width="1.5"/>
<path d="M148.8,2262l0,0.4 2.5,0 2.5,0 2.5,0 2.5,0 2.5,0 2.5,0 2.5,0 2.5,0 2.5,0 2.5,0 2.5,0 2.5,0.1 2.5,0 2.5,0 2.5,0 2.5,0 2.5,0 2.5,0 2.5,0 2.5,0 2.5,0 2.5,0 2.5,0 2.5,0 2.5,0 2.5,0.1 2.5,0 2.5,0 2.5,0 2.5,0 2.5,0 2.5,0 2.5,0 2.5,0 2.5,0 2.5,0 2.5,0.1 2.5,0 2.5,0 2.5,0 2.5,0 2.5,0 2.5,0 2.5,0 2.5,0.1 2.5,0 2.5,0 2.5,0 2.5,0 2.5,0 2.5,0.1 2.5,0 2.5,0 2.5,0 2.5,0 2.5,0.1 2.5,0 2.5,0 2.5,0 2.5,0 2.5,0.1 2.5,0 2.5,0 2.5,0.1 2.5,0 2.5,0 2.5,0.1 2.5,0 2.5,0 2.5,0.1 2.5,0 2.5,0.1 2.5,0 2.5,0 2.5,0.1 2.5,0 2.5,0.1 2.5,0.1 2.5,0 2.5,0.1 2.5,0.1 2.5,0 2.5,0.1 2.5,0.1 2.5,0.1 2.5,0.1 2.5,0.1 2.5,0.1 2.5,0.2 2.5,0.1 2.5,0.1 2.5,0.2 2.5,0.2 2.5,0.2 2.5,0.2 2.5,0.2 2.5,0.3 2.5,0.2 2.5,0.3 2.5,0.4 2.5,0.4 2.5,0.4 2.5,0.5 2.5,0.5 2.5,0.7 2.5,0.7 2.5,0.8 2.5,1 2.5,1.1 2.5,1.2 2.5,1.6 2.5,1.7 2.5,2.2 2.5,2.5 2.5,3 2.5,3.6 2.5,4.3 2.5,5.1 2.5,5.7 2.5,6.3 2.5,6.4 2.5,5.7 2.5,4.1 2.5,1.4 2.5,-1.4 2.5,-4.1 2.5,-5.7 2.5,-6.3 2.5,-6.2 2.5,-5.7 2.5,-5 2.5,-4.2 2.5,-3.6 2.5,-2.9 2.5,-2.5 2.5,-2.1 2.5,-1.7 2.5,-1.4 2.5,-1.2 2.5,-1.1 2.5,-0.8 2.5,-0.8 2.5,-0.6 2.5,-0.6 2.5,-0.4 2.5,-0.4 2.5,-0.4 2.5,-0.2 2.5,-0.3 2.5,-0.2 2.5,-0.1 2.5,-0.1 2.5,-0.1 2.5,-0.1 2.5,0 2.5,0 2.5,0.1 2.5,0 2.5,0.1 2.5,0.2 2.5,0.2 2.5,0.2 2.5,0.3 2.5,0.3 2.5,0.4 2.5,0.4 2.5,0.6 2.5,0.6 2.5,0.8 2.5,0.8 2.5,1.1 2.5,1.2 2.5,1.5 2.5,1.8 2.5,2.1 2.5,2.5 2.5,3.1 2.5,3.6 2.5,4.2 2.5,4.8 2.5,5.2 2.5,5.2 2.5,4.4 2.5,2.9 2.5,0.7 2.5,-1.7 2.5,-3.6 2.5,-4.9 2.5,-5.2 2.5,-5.1 2.5,-4.5 2.5,-4 2.5,-3.4 2.5,-2.8 2.5,-2.4 2.5,-1.9 2.5,-1.7 2.5,-1.3 2.5,-1.2 2.5,-1 2.5,-0.8 2.5,-0.7 2.5,-0.6 2.5,-0.5 2.5,-0.5 2.5,-0.3 2.5,-0.3 2.5,-0.3 2.5,-0.2 2.5,-0.2 2.5,-0.1 2.5,-0.1 2.5,-0.1 2.5,-0.1 2.5,0 2.5,0 2.5,0.1 2.5,0.1 2.5,0.1 2.5,0.1 2.5,0.2 2.5,0.2 2.5,0.3 2.5,0.4 2.5,0.4 2.5,0.5 2.5,0.6 2.5,0.7 2.5,0.8 2.5,1 2.5,1.2 2.5,1.4 2.5,1.7 2.5,2 2.5,2.2 2.5,2.6 2.5,2.8 2.5,2.8 2.5,2.4 2.5,1.8 2.5,0.8 2.5,-0.5 2.5,-1.6 2.5,-2.3 2.5,-2.7 2.5,-2.7 2.5,-2.6 2.5,-2.3 2.5,-2 2.5,-1.6 2.5,-1.4 2.5,-1.2 2.5,-1 2.5,-0.7 2.5,-0.7 2.5,-0.5 2.5,-0.4 2.5,-0.3 2.5,-0.2 2.5,-0.2 2.5,-0.1 2.5,0 2.5,0.1 2.5,0.1 2.5,0.2 2.5,0.2 2.5,0.4 2.5,0.4 2.5,0.6 2.5,0.6 2.5,0.8 2.5,1 2.5,1.1 2.5,1.4 2.5,1.6 2.5,1.9 2.5,2.2 2.5,2.5 2.5,2.7 2.5,2.8 2.5,2.6 2.5,2.1 2.5,1.3 2.5,0.2 2.5,-0.9 2.5,-1.9 2.5,-2.5 2.5,-2.7 2.5,-2.8 2.5,-2.6 2.5,-2.4 2.5,-2 2.5,-1.8 2.5,-1.5 2.5,-1.3 2.5,-1.1 2.5,-0.9 2.5,-0.8 2.5,-0.6 2.5,-0.6 2.5,-0.4 2.5,-0.4 2.5,-0.4 2.5,-0.3 2.5,-0.2 2.5,-0.2 2.5,-0.1 2.5,-0.2 2.5,0 2.5,-0.1 2.5,0 2.5,0 2.5,0 2.5,0.1 2.5,0.1 2.5,0.1 2.5,0.1 2.5,0.2 2.5,0.2 2.5,0.3 2.5,0.3 2.5,0.3 2.5,0.4 2.5,0.5 2.5,0.5 2.5,0.7 2.5,0.7 2.5,0.8 2.5,1 2.5,1.1 2.5,1.3 2.5,1.6 2.5,1.8 2.5,2.1 2.5,2.5 2.5,2.9 2.5,3.5 2.5,3.9 2.5,4.4 2.5,4.7 2.5,4.9 2.5,4.5 2.5,3.6 2.5,2 2.5,0.1 2.5,-1.9 2.5,-3.4 2.5,-4.4 2.5,-4.8 2.5,-4.8 2.5,-4.4 2.5,-3.9 2.5,-3.4 2.5,-2.9 2.5,-2.5 2.5,-2.1 2.5,-1.8 2.5,-1.5 2.5,-1.2 2.5,-1.1 2.5,-0.9 2.5,-0.8 2.5,-0.6 2.5,-0.6 2.5,-0.4 2.5,-0.4 2.5,-0.3 2.5,-0.2 2.5,-0.1 2.5,-0.1 2.5,-0.1 2.5,0 2.5,0.1 2.5,0.1 2.5,0.2 2.5,0.3 2.5,0.3 2.5,0.4 2.5,0.5 2.5,0.6 2.5,0.8 2.5,0.8 2.5,1 2.5,1.2 2.5,1.4 2.5,1.7 2.5,2 2.5,2.4 2.5,2.8 2.5,3.3 2.5,3.9 2.5,4.6 2.5,5.1 2.5,5.7 2.5,5.7 2.5,5.4 2.5,4.1 2.5,2.3 2.5,-0.2 2.5,-2.5 2.5,-4.4 2.5,-5.5 2.5,-5.8 2.5,-5.7 2.5,-5.2 2.5,-4.6 2.5,-3.9 2.5,-3.4 2.5,-2.9 2.5,-2.4 2.5,-2.1 2.5,-1.8 2.5,-1.5 2.5,-1.3 2.5,-1.1 2.5,-1 2.5,-0.8 2.5,-0.8 2.5,-0.6 2.5,-0.6 2.5,-0.5 2.5,-0.5 2.5,-0.4 2.5,-0.4 2.5,-0.3 2.5,-0.3 2.5,-0.3 2.5,-0.3 2.5,-0.2 2.5,-0.2 2.5,-0.2 2.5,-0.2 2.5,-0.1 2.5,-0.2 2.5,-0.1 2.5,-0.1 2.5,-0.2 2.5,-0.1 2.5,-0.1 2.5,-0.1 2.5,-0.1 2.5,-0.1 2.5,0 2.5,-0.1 2.5,-0.1 2.5,-0.1 2.5,0 2.5,-0.1 2.5,0 2.5,-0.1 2.5,0 2.5,-0.1 2.5,0 2.5,-0.1 2.5,0 2.5,-0.1 2.5,0 2.5,0 2.5,-0.1 2.5,0 2.5,0 2.5,-0.1 2.5,0 2.5,0 2.5,-0.1 2.5,0 2.5,0 2.5,0 2.5,-0.1 2.5,0 2.5,0 2.5,0 2.5,0 2.5,-0.1 2.5,0 2.5,0 2.5,0 2.5,0 2.5,-0.1 2.5,0 2.5,0 2.5,0 2.5,0 2.5,0 2.5,0 2.5,-0.1 2.5,0 2.5,0 2.5,0 2.5,0 2.5,0 2.5,0 2.5,0 2.5,0 2.5,-0.1 2.5,0 2.5,0 2.5,0 2.5,0 2.5,0 2.5,0 2.5,0 2.5,0 2.5,0 2.5,0 2.5,-0.1 2.5,0 2.5,0 2.5,0 1.2,0 0,-0.5" fill="url(#gY)" stroke="#d4d4c0" stroke-width="1.5"/>
<path d="M148.8,2262.0H1422.5" stroke="#ff7a00" stroke-width="2"/>
<path d="M148.8,2263.7l2.5,0 2.5,0 2.5,0 2.5,0.1 2.5,0 2.5,0 2.5,0 2.5,0.1 2.5,0 2.5,0 2.5,0.1 2.5,0 2.5,0 2.5,0.1 2.5,0 2.5,0 2.5,0 2.5,0.1 2.5,0 2.5,0.1 2.5,0 2.5,0 2.5,0.1 2.5,0 2.5,0 2.5,0.1 2.5,0 2.5,0.1 2.5,0 2.5,0.1 2.5,0 2.5,0.1 2.5,0 2.5,0.1 2.5,0 2.5,0.1 2.5,0.1 2.5,0 2.5,0.1 2.5,0 2.5,0.1 2.5,0.1 2.5,0.1 2.5,0 2.5,0.1 2.5,0.1 2.5,0.1 2.5,0.1 2.5,0.1 2.5,0.1 2.5,0.1 2.5,0.1 2.5,0.1 2.5,0.1 2.5,0.1 2.5,0.1 2.5,0.1 2.5,0.2 2.5,0.1 2.5,0.2 2.5,0.1 2.5,0.2 2.5,0.2 2.5,0.1 2.5,0.2 2.5,0.2 2.5,0.2 2.5,0.2 2.5,0.3 2.5,0.2 2.5,0.3 2.5,0.3 2.5,0.3 2.5,0.3 2.5,0.3 2.5,0.4 2.5,0.4 2.5,0.4 2.5,0.4 2.5,0.5 2.5,0.5 2.5,0.5 2.5,0.6 2.5,0.7 2.5,0.7 2.5,0.8 2.5,0.8 2.5,0.9 2.5,1 2.5,1.1 2.5,1.3 2.5,1.4 2.5,1.5 2.5,1.7 2.5,2 2.5,2.1 2.5,2.5 2.5,2.9 2.5,3.2 2.5,3.8 2.5,4.4 2.5,5.1 2.5,5.9 2.5,7 2.5,8.2 2.5,9.5 2.5,10.9 2.5,12.3 2.5,13.1 2.5,13.3 2.5,12.3 2.5,10.3 2.5,7.8 2.5,5.4 2.5,3.9 2.5,2.9 2.5,2.1 2.5,0.7 2.5,-1.5 2.5,-4.3 2.5,-7.2 2.5,-9.8 2.5,-11.6 2.5,-12.4 2.5,-12.4 2.5,-11.8 2.5,-10.7 2.5,-9.6 2.5,-8.5 2.5,-7.4 2.5,-6.3 2.5,-5.5 2.5,-4.8 2.5,-4 2.5,-3.5 2.5,-3 2.5,-2.5 2.5,-2.2 2.5,-1.8 2.5,-1.6 2.5,-1.3 2.5,-1.1 2.5,-0.9 2.5,-0.7 2.5,-0.5 2.5,-0.3 2.5,-0.2 2.5,0 2.5,0.1 2.5,0.2 2.5,0.4 2.5,0.6 2.5,0.8 2.5,0.9 2.5,1.1 2.5,1.3 2.5,1.6 2.5,1.8 2.5,2.1 2.5,2.4 2.5,2.8 2.5,3.2 2.5,3.7 2.5,4.2 2.5,4.8 2.5,5.5 2.5,6.3 2.5,7.1 2.5,8 2.5,8.8 2.5,9.7 2.5,10.3 2.5,10.7 2.5,10.4 2.5,9.6 2.5,7.8 2.5,5.3 2.5,2.1 2.5,-1.4 2.5,-4.7 2.5,-7.4 2.5,-9.3 2.5,-10.4 2.5,-10.8 2.5,-10.5 2.5,-10 2.5,-9.1 2.5,-8.3 2.5,-7.5 2.5,-6.5 2.5,-5.9 2.5,-5.1 2.5,-4.5 2.5,-3.9 2.5,-3.5 2.5,-3.1 2.5,-2.7 2.5,-2.3 2.5,-2.1 2.5,-1.9 2.5,-1.6 2.5,-1.4 2.5,-1.3 2.5,-1.1 2.5,-1 2.5,-0.8 2.5,-0.7 2.5,-0.6 2.5,-0.5 2.5,-0.4 2.5,-0.3 2.5,-0.2 2.5,-0.1 2.5,0.1 2.5,0.1 2.5,0.2 2.5,0.3 2.5,0.4 2.5,0.6 2.5,0.7 2.5,1 2.5,1.1 2.5,1.3 2.5,1.6 2.5,1.8 2.5,2.3 2.5,2.7 2.5,3.1 2.5,3.8 2.5,4.4 2.5,5.2 2.5,6 2.5,6.9 2.5,7.6 2.5,8 2.5,8 2.5,7.1 2.5,5.1 2.5,2.3 2.5,-1 2.5,-4 2.5,-6.4 2.5,-7.7 2.5,-8 2.5,-7.8 2.5,-7.1 2.5,-6.3 2.5,-5.4 2.5,-4.7 2.5,-3.9 2.5,-3.3 2.5,-2.7 2.5,-2.3 2.5,-1.8 2.5,-1.6 2.5,-1.2 2.5,-1 2.5,-0.7 2.5,-0.5 2.5,-0.3 2.5,-0.1 2.5,0 2.5,0.3 2.5,0.4 2.5,0.7 2.5,0.9 2.5,1.1 2.5,1.3 2.5,1.7 2.5,2 2.5,2.3 2.5,2.8 2.5,3.3 2.5,3.9 2.5,4.6 2.5,5.3 2.5,6 2.5,6.8 2.5,7.5 2.5,7.9 2.5,7.8 2.5,7 2.5,5.5 2.5,3.1 2.5,0.1 2.5,-2.8 2.5,-5.3 2.5,-7 2.5,-7.8 2.5,-7.9 2.5,-7.6 2.5,-7 2.5,-6.2 2.5,-5.4 2.5,-4.7 2.5,-4.1 2.5,-3.4 2.5,-3 2.5,-2.5 2.5,-2.2 2.5,-1.8 2.5,-1.6 2.5,-1.3 2.5,-1.1 2.5,-0.9 2.5,-0.8 2.5,-0.6 2.5,-0.4 2.5,-0.4 2.5,-0.2 2.5,-0.1 2.5,0 2.5,0.1 2.5,0.2 2.5,0.3 2.5,0.5 2.5,0.5 2.5,0.7 2.5,0.9 2.5,1 2.5,1.1 2.5,1.4 2.5,1.6 2.5,1.8 2.5,2.1 2.5,2.4 2.5,2.9 2.5,3.2 2.5,3.7 2.5,4.3 2.5,4.9 2.5,5.6 2.5,6.2 2.5,7 2.5,7.6 2.5,8.1 2.5,8.6 2.5,8.8 2.5,9.1 2.5,9.4 2.5,10 2.5,11 2.5,11.9 2.5,12.3 2.5,10.8 2.5,6.7 2.5,0 2.5,-7.7 2.5,-14.1 2.5,-17.6 2.5,-18.3 2.5,-17.1 2.5,-15 2.5,-12.7 2.5,-10.6 2.5,-8.7 2.5,-7.2 2.5,-6 2.5,-4.9 2.5,-4.1 2.5,-3.4 2.5,-2.8 2.5,-2.4 2.5,-1.9 2.5,-1.6 2.5,-1.4 2.5,-1 2.5,-0.9 2.5,-0.6 2.5,-0.5 2.5,-0.3 2.5,-0.1 2.5,0.1 2.5,0.2 2.5,0.4 2.5,0.5 2.5,0.7 2.5,0.9 2.5,1.1 2.5,1.3 2.5,1.6 2.5,1.8 2.5,2.1 2.5,2.4 2.5,2.8 2.5,3.3 2.5,3.6 2.5,4.2 2.5,4.8 2.5,5.3 2.5,5.9 2.5,6.5 2.5,7 2.5,7.3 2.5,7.4 2.5,7.1 2.5,6.5 2.5,5.4 2.5,4.2 2.5,2.9 2.5,1.8 2.5,1.2 2.5,1.2 2.5,1.9 2.5,3.2 2.5,4.8 2.5,6.4 2.5,7.5 2.5,7.1 2.5,4.9 2.5,0.3 2.5,-5.3 2.5,-10.5 2.5,-14 2.5,-15.2 2.5,-14.8 2.5,-13.4 2.5,-11.7 2.5,-10 2.5,-8.5 2.5,-7.1 2.5,-6 2.5,-5 2.5,-4.3 2.5,-3.7 2.5,-3.2 2.5,-2.7 2.5,-2.4 2.5,-2.1 2.5,-1.8 2.5,-1.7 2.5,-1.4 2.5,-1.3 2.5,-1.2 2.5,-1 2.5,-1 2.5,-0.9 2.5,-0.8 2.5,-0.7 2.5,-0.6 2.5,-0.6 2.5,-0.6 2.5,-0.5 2.5,-0.5 2.5,-0.5 2.5,-0.4 2.5,-0.4 2.5,-0.3 2.5,-0.3 2.5,-0.4 2.5,-0.3 2.5,-0.2 2.5,-0.3 2.5,-0.2 2.5,-0.3 2.5,-0.2 2.5,-0.2 2.5,-0.2 2.5,-0.2 2.5,-0.2 2.5,-0.1 2.5,-0.2 2.5,-0.1 2.5,-0.2 2.5,-0.1 2.5,-0.2 2.5,-0.1 2.5,-0.1 2.5,-0.1 2.5,-0.1 2.5,-0.1 2.5,-0.1 2.5,-0.1 2.5,-0.1 2.5,-0.1 2.5,-0.1 2.5,-0.1 2.5,-0.1 2.5,-0.1 2.5,0 2.5,-0.1 2.5,-0.1 2.5,0 2.5,-0.1 2.5,-0.1 2.5,0 2.5,-0.1 2.5,0 2.5,-0.1 2.5,-0.1 2.5,0 2.5,-0.1 2.5,0 2.5,0 2.5,-0.1 2.5,0 2.5,-0.1 2.5,0 2.5,-0.1 2.5,0 2.5,0 2.5,-0.1 2.5,0 2.5,0 2.5,-0.1 2.5,0 2.5,0 2.5,-0.1 2.5,0 1.2,0" fill="none" stroke="#0000ff" stroke-width="9.5" stroke-linejoin="round"/>
<path d="M141 2600h0m2 -11h0m1 9h0m1 8h0m2 -15h0m1 10h0m1 -6h0m2 10h0m1 -9h0m2 -1h0m1 11h0m2 -2h0m1 -8h0m2 -7h0m2 2h0m1 9h0m2 0h0m2 -8h0m1 12h0m2 -3h0m2 -5h0m2 2h0m2 1h0m2 -4h0m2 6h0m2 -4h0m2 0h0m2 5h0m2 -2h0m2 -9h0m2 7h0m2 -5h0m2 6h0m2 1h0m2 -8h0m3 11h0m2 4h0m2 -7h0m3 -7h0m2 5h0m2 2h0m3 1h0m2 0h0m3 -6h0m2 1h0m3 6h0m2 10h0m3 -12h0m2 -1h0m3 3h0m3 5h0m2 -8h0m3 -12h0m3 10h0m2 -1h0m3 -2h0m3 -1h0m3 2h0m3 16h0m2 -9h0m3 -2h0m3 -7h0m3 4h0m3 4h0m3 -2h0m3 0h0m3 8h0m3 -1h0m3 -4h0m3 -9h0m4 7h0m3 -5h0m3 2h0m3 2h0m3 3h0m4 3h0m3 -15h0m3 14h0m3 -6h0m4 3h0m3 -4h0m4 12h0m3 -7h0m3 4h0m4 -7h0m3 9h0m4 -3h0m3 -5h0m4 4h0m3 -1h0m4 0h0m3 10h0m4 -3h0m4 -2h0m3 -4h0m4 13h0m4 -3h0m3 2h0m4 1h0m4 15h0m4 4h0m3 0h0m4 9h0m4 15h0m4 20h0m4 25h0m3 18h0m4 21h0m4 18h0m4 13h0m4 -7h0m4 -21h0m4 -30h0m4 -20h0m4 -18h0m4 -16h0m4 -10h0m4 -16h0m4 -8h0m4 2h0m4 -11h0m4 2h0m4 -5h0m5 -8h0m4 5h0m4 -2h0m4 -1h0m4 -1h0m4 -4h0m5 4h0m4 1h0m4 7h0m4 -4h0m4 4h0m5 9h0m4 -13h0m4 18h0m5 3h0m4 6h0m4 7h0m5 27h0m4 17h0m4 19h0m5 14h0m4 12h0m4 -13h0m5 -33h0m4 -18h0m5 -15h0m4 -11h0m4 -15h0m5 5h0m4 -15h0m5 -5h0m4 -5h0m5 -4h0m4 7h0m5 -4h0m4 -5h0m5 -2h0m4 9h0m5 0h0m4 -3h0m5 -2h0m4 -3h0m5 8h0m4 1h0m5 -4h0m4 -1h0m5 10h0m5 -9h0m4 9h0m5 11h0m4 -3h0m5 6h0m4 1h0m5 20h0m5 18h0m4 17h0m5 -18h0m4 3h0m5 -25h0m4 -13h0m5 -5h0m5 -15h0m4 4h0m5 2h0m4 -18h0m5 3h0m5 -3h0m4 6h0m5 -1h0m4 8h0m5 -13h0m5 11h0m4 -7h0m5 5h0m4 0h0m5 7h0m5 -3h0m4 16h0m5 9h0m4 5h0m5 23h0m4 13h0m5 -15h0m5 -18h0m4 -14h0m5 -6h0m4 -7h0m5 -11h0m4 3h0m5 -13h0m4 17h0m5 -13h0m4 8h0m5 -9h0m5 0h0m4 4h0m5 -1h0m4 -8h0m5 5h0m4 2h0m4 0h0m5 0h0m4 1h0m5 1h0m4 6h0m5 0h0m4 1h0m5 1h0m4 14h0m4 -1h0m5 17h0m4 3h0m5 12h0m4 24h0m4 26h0m5 25h0m4 16h0m4 -6h0m5 -15h0m4 -36h0m4 -24h0m4 -18h0m5 -2h0m4 -17h0m4 -5h0m4 0h0m5 -9h0m4 -10h0m4 6h0m4 1h0m4 3h0m5 -4h0m4 -7h0m4 -1h0m4 0h0m4 -3h0m4 8h0m4 -8h0m4 0h0m4 -4h0m4 -2h0m4 7h0m4 4h0m4 -6h0m4 3h0m4 -3h0m4 2h0m4 3h0m4 11h0m4 8h0m4 -1h0m3 1h0m4 3h0m4 16h0m4 3h0m4 13h0m3 30h0m4 9h0m4 33h0m4 19h0m3 27h0m4 -2h0m4 -3h0m3 -29h0m4 -32h0m3 -36h0m4 -16h0m3 -20h0m4 3h0m3 -15h0m4 -6h0m3 0h0m4 -10h0m3 0h0m4 -5h0m3 3h0m3 -15h0m4 14h0m3 -5h0m3 -6h0m4 9h0m3 4h0m3 -14h0m3 3h0m3 0h0m4 2h0m3 -10h0m3 6h0m3 -4h0m3 5h0m3 -6h0m3 2h0m3 -1h0m3 0h0m3 3h0m3 0h0m3 -7h0m3 3h0m2 2h0m3 4h0m3 3h0m3 -7h0m3 2h0m2 5h0m3 -3h0m3 -5h0m2 0h0m3 -3h0m3 12h0m2 -5h0m3 -4h0m2 0h0m3 7h0m2 -1h0m2 0h0m3 -1h0m2 -6h0m3 -1h0m2 5h0m2 -4h0m2 3h0m3 -3h0m2 1h0m2 5h0m2 -7h0m2 0h0m3 10h0m2 -13h0m2 7h0m2 -1h0m2 -2h0m2 9h0m2 -10h0m1 -7h0m2 15h0m2 3h0m2 -16h0m2 9h0m1 -1h0m2 0h0m2 3h0m2 -2h0m1 0h0m2 -9h0m1 1h0m2 10h0m1 -3h0m2 1h0m1 2h0m2 -11h0m1 0h0m2 3h0m1 7h0m1 -2h0m2 -6h0m1 4h0" stroke="#008000" stroke-width="14" stroke-linecap="round"/>
<path d="M139 2597h0m1 -11h0m1 9h0m2 8h0m1 -15h0m1 10h0m2 -6h0m1 10h0m2 -9h0m1 -1h0m2 11h0m1 -2h0m2 -8h0m1 -7h0m2 2h0m2 9h0m1 0h0m2 -8h0m2 12h0m2 -3h0m2 -5h0m1 2h0m2 1h0m2 -4h0m2 6h0m2 -4h0m2 0h0m2 5h0m2 -2h0m2 -9h0m2 7h0m2 -5h0m3 6h0m2 1h0m2 -8h0m2 11h0m2 4h0m3 -7h0m2 -7h0m2 5h0m3 2h0m2 1h0m3 0h0m2 -6h0m3 1h0m2 6h0m3 10h0m2 -12h0m3 -1h0m2 3h0m3 5h0m3 -8h0m2 -12h0m3 10h0m3 -1h0m3 -2h0m2 -1h0m3 2h0m3 16h0m3 -9h0m3 -2h0m3 -7h0m3 4h0m3 4h0m3 -2h0m3 0h0m3 8h0m3 -1h0m3 -4h0m3 -9h0m3 7h0m3 -5h0m3 2h0m4 2h0m3 3h0m3 3h0m3 -15h0m4 14h0m3 -6h0m3 3h0m4 -4h0m3 12h0m3 -7h0m4 4h0m3 -7h0m4 9h0m3 -3h0m4 -5h0m3 4h0m4 -1h0m3 0h0m4 10h0m4 -3h0m3 -2h0m4 -4h0m3 13h0m4 -3h0m4 2h0m4 1h0m3 15h0m4 4h0m4 0h0m4 9h0m3 15h0m4 20h0m4 25h0m4 18h0m4 21h0m4 18h0m4 13h0m4 -7h0m3 -21h0m4 -30h0m4 -20h0m4 -18h0m4 -16h0m4 -10h0m4 -16h0m5 -8h0m4 2h0m4 -11h0m4 2h0m4 -5h0m4 -8h0m4 5h0m4 -2h0m4 -1h0m5 -1h0m4 -4h0m4 4h0m4 1h0m4 7h0m5 -4h0m4 4h0m4 9h0m5 -13h0m4 18h0m4 3h0m4 6h0m5 7h0m4 27h0m4 17h0m5 19h0m4 14h0m5 12h0m4 -13h0m4 -33h0m5 -18h0m4 -15h0m5 -11h0m4 -15h0m4 5h0m5 -15h0m4 -5h0m5 -5h0m4 -4h0m5 7h0m4 -4h0m5 -5h0m4 -2h0m5 9h0m4 0h0m5 -3h0m4 -2h0m5 -3h0m4 8h0m5 1h0m4 -4h0m5 -1h0m4 10h0m5 -9h0m5 9h0m4 11h0m5 -3h0m4 6h0m5 1h0m4 20h0m5 18h0m5 17h0m4 -18h0m5 3h0m4 -25h0m5 -13h0m5 -5h0m4 -15h0m5 4h0m4 2h0m5 -18h0m5 3h0m4 -3h0m5 6h0m4 -1h0m5 8h0m4 -13h0m5 11h0m5 -7h0m4 5h0m5 0h0m4 7h0m5 -3h0m5 16h0m4 9h0m5 5h0m4 23h0m5 13h0m5 -15h0m4 -18h0m5 -14h0m4 -6h0m5 -7h0m4 -11h0m5 3h0m4 -13h0m5 17h0m4 -13h0m5 8h0m5 -9h0m4 0h0m5 4h0m4 -1h0m5 -8h0m4 5h0m4 2h0m5 0h0m4 0h0m5 1h0m4 1h0m5 6h0m4 0h0m5 1h0m4 1h0m4 14h0m5 -1h0m4 17h0m5 3h0m4 12h0m4 24h0m5 26h0m4 25h0m4 16h0m5 -6h0m4 -15h0m4 -36h0m5 -24h0m4 -18h0m4 -2h0m4 -17h0m5 -5h0m4 0h0m4 -9h0m4 -10h0m5 6h0m4 1h0m4 3h0m4 -4h0m4 -7h0m4 -1h0m4 0h0m5 -3h0m4 8h0m4 -8h0m4 0h0m4 -4h0m4 -2h0m4 7h0m4 4h0m4 -6h0m4 3h0m4 -3h0m4 2h0m3 3h0m4 11h0m4 8h0m4 -1h0m4 1h0m4 3h0m4 16h0m3 3h0m4 13h0m4 30h0m4 9h0m3 33h0m4 19h0m4 27h0m3 -2h0m4 -3h0m4 -29h0m3 -32h0m4 -36h0m3 -16h0m4 -20h0m3 3h0m4 -15h0m3 -6h0m4 0h0m3 -10h0m4 0h0m3 -5h0m4 3h0m3 -15h0m3 14h0m4 -5h0m3 -6h0m3 9h0m3 4h0m4 -14h0m3 3h0m3 0h0m3 2h0m3 -10h0m3 6h0m3 -4h0m3 5h0m4 -6h0m3 2h0m3 -1h0m3 0h0m2 3h0m3 0h0m3 -7h0m3 3h0m3 2h0m3 4h0m3 3h0m2 -7h0m3 2h0m3 5h0m2 -3h0m3 -5h0m3 0h0m2 -3h0m3 12h0m3 -5h0m2 -4h0m3 0h0m2 7h0m3 -1h0m2 0h0m2 -1h0m3 -6h0m2 -1h0m2 5h0m3 -4h0m2 3h0m2 -3h0m2 1h0m3 5h0m2 -7h0m2 0h0m2 10h0m2 -13h0m2 7h0m2 -1h0m2 -2h0m2 9h0m2 -10h0m2 -7h0m2 15h0m2 3h0m1 -16h0m2 9h0m2 -1h0m2 0h0m1 3h0m2 -2h0m2 0h0m1 -9h0m2 1h0m1 10h0m2 -3h0m1 1h0m2 2h0m1 -11h0m2 0h0m1 3h0m1 7h0m2 -2h0m1 -6h0m1 4h0" stroke="#c4eecb" stroke-width="3.6" stroke-linecap="round"/>
<path d="M148.8,2597l0,0.8 2.5,0.1 2.5,0 2.5,0 2.5,0 2.5,0 2.5,0 2.5,0 2.5,0 2.5,0.1 2.5,0 2.5,0 2.5,0 2.5,0 2.5,0 2.5,0.1 2.5,0 2.5,0 2.5,0 2.5,0 2.5,0 2.5,0.1 2.5,0 2.5,0 2.5,0 2.5,0.1 2.5,0 2.5,0 2.5,0 2.5,0.1 2.5,0 2.5,0 2.5,0 2.5,0.1 2.5,0 2.5,0 2.5,0.1 2.5,0 2.5,0 2.5,0.1 2.5,0 2.5,0 2.5,0.1 2.5,0 2.5,0.1 2.5,0 2.5,0 2.5,0.1 2.5,0 2.5,0.1 2.5,0.1 2.5,0 2.5,0.1 2.5,0 2.5,0.1 2.5,0.1 2.5,0 2.5,0.1 2.5,0.1 2.5,0.1 2.5,0 2.5,0.1 2.5,0.1 2.5,0.1 2.5,0.1 2.5,0.2 2.5,0.1 2.5,0.1 2.5,0.1 2.5,0.2 2.5,0.1 2.5,0.2 2.5,0.1 2.5,0.2 2.5,0.2 2.5,0.2 2.5,0.2 2.5,0.3 2.5,0.2 2.5,0.3 2.5,0.3 2.5,0.3 2.5,0.4 2.5,0.4 2.5,0.4 2.5,0.4 2.5,0.5 2.5,0.6 2.5,0.6 2.5,0.7 2.5,0.7 2.5,0.8 2.5,1 2.5,1 2.5,1.2 2.5,1.4 2.5,1.6 2.5,1.8 2.5,2.1 2.5,2.4 2.5,2.9 2.5,3.5 2.5,4.2 2.5,5 2.5,6.2 2.5,7.7 2.5,9.5 2.5,11.7 2.5,13.8 2.5,15.2 2.5,14.6 2.5,12.2 2.5,9.9 2.5,8.4 2.5,6.7 2.5,3.6 2.5,-1.5 2.5,-7.2 2.5,-11.9 2.5,-14.6 2.5,-15.3 2.5,-14.4 2.5,-13 2.5,-11.1 2.5,-9.4 2.5,-7.9 2.5,-6.5 2.5,-5.5 2.5,-4.5 2.5,-3.8 2.5,-3.1 2.5,-2.7 2.5,-2.3 2.5,-1.9 2.5,-1.6 2.5,-1.4 2.5,-1.1 2.5,-1 2.5,-0.8 2.5,-0.7 2.5,-0.6 2.5,-0.4 2.5,-0.4 2.5,-0.2 2.5,-0.2 2.5,0 2.5,0 2.5,0.2 2.5,0.2 2.5,0.3 2.5,0.4 2.5,0.6 2.5,0.7 2.5,0.8 2.5,1 2.5,1.2 2.5,1.5 2.5,1.7 2.5,2 2.5,2.4 2.5,2.9 2.5,3.4 2.5,4.2 2.5,5 2.5,6 2.5,7.1 2.5,8.6 2.5,9.9 2.5,11.2 2.5,12 2.5,11.6 2.5,9.7 2.5,5.8 2.5,0.5 2.5,-4.9 2.5,-9.2 2.5,-11.5 2.5,-12.1 2.5,-11.5 2.5,-10.2 2.5,-8.9 2.5,-7.5 2.5,-6.4 2.5,-5.2 2.5,-4.4 2.5,-3.7 2.5,-3.1 2.5,-2.6 2.5,-2.2 2.5,-1.9 2.5,-1.7 2.5,-1.3 2.5,-1.3 2.5,-1 2.5,-0.9 2.5,-0.8 2.5,-0.6 2.5,-0.6 2.5,-0.5 2.5,-0.5 2.5,-0.3 2.5,-0.4 2.5,-0.2 2.5,-0.2 2.5,-0.2 2.5,-0.1 2.5,-0.1 2.5,0 2.5,0 2.5,0.1 2.5,0.1 2.5,0.2 2.5,0.3 2.5,0.3 2.5,0.3 2.5,0.5 2.5,0.5 2.5,0.7 2.5,0.7 2.5,1 2.5,1.1 2.5,1.3 2.5,1.6 2.5,1.9 2.5,2.3 2.5,2.7 2.5,3.4 2.5,4 2.5,4.8 2.5,5.7 2.5,6.6 2.5,7.3 2.5,7.4 2.5,6.5 2.5,4.4 2.5,1.2 2.5,-2.2 2.5,-5.2 2.5,-6.9 2.5,-7.4 2.5,-7.1 2.5,-6.4 2.5,-5.5 2.5,-4.5 2.5,-3.9 2.5,-3.1 2.5,-2.6 2.5,-2.2 2.5,-1.8 2.5,-1.5 2.5,-1.2 2.5,-1 2.5,-0.9 2.5,-0.7 2.5,-0.6 2.5,-0.4 2.5,-0.4 2.5,-0.3 2.5,-0.2 2.5,-0.1 2.5,-0.1 2.5,0.1 2.5,0.1 2.5,0.2 2.5,0.3 2.5,0.4 2.5,0.5 2.5,0.7 2.5,0.8 2.5,1 2.5,1.3 2.5,1.6 2.5,2 2.5,2.5 2.5,3.1 2.5,4 2.5,5 2.5,6.2 2.5,7.6 2.5,8.8 2.5,9.2 2.5,7.9 2.5,4.3 2.5,-1 2.5,-5.8 2.5,-8.6 2.5,-9.2 2.5,-8.5 2.5,-7.2 2.5,-5.8 2.5,-4.6 2.5,-3.7 2.5,-3 2.5,-2.3 2.5,-1.9 2.5,-1.5 2.5,-1.3 2.5,-1 2.5,-0.8 2.5,-0.7 2.5,-0.6 2.5,-0.4 2.5,-0.4 2.5,-0.3 2.5,-0.2 2.5,-0.2 2.5,-0.1 2.5,-0.1 2.5,-0.1 2.5,0 2.5,0.1 2.5,0.1 2.5,0.1 2.5,0.2 2.5,0.2 2.5,0.2 2.5,0.3 2.5,0.4 2.5,0.4 2.5,0.5 2.5,0.5 2.5,0.6 2.5,0.7 2.5,0.8 2.5,0.9 2.5,1.1 2.5,1.2 2.5,1.4 2.5,1.6 2.5,1.9 2.5,2.2 2.5,2.6 2.5,3 2.5,3.6 2.5,4.3 2.5,5.1 2.5,6.2 2.5,7.4 2.5,8.8 2.5,10.5 2.5,12.2 2.5,13.5 2.5,14.3 2.5,13.4 2.5,10.3 2.5,5.1 2.5,-1.6 2.5,-7.7 2.5,-12 2.5,-14 2.5,-14.1 2.5,-12.9 2.5,-11.4 2.5,-9.7 2.5,-8.2 2.5,-6.7 2.5,-5.7 2.5,-4.7 2.5,-3.9 2.5,-3.3 2.5,-2.8 2.5,-2.4 2.5,-2 2.5,-1.8 2.5,-1.4 2.5,-1.3 2.5,-1.1 2.5,-1 2.5,-0.8 2.5,-0.8 2.5,-0.6 2.5,-0.5 2.5,-0.5 2.5,-0.4 2.5,-0.4 2.5,-0.3 2.5,-0.2 2.5,-0.2 2.5,-0.2 2.5,-0.1 2.5,0 2.5,-0.1 2.5,0.1 2.5,0 2.5,0.1 2.5,0.1 2.5,0.2 2.5,0.3 2.5,0.3 2.5,0.3 2.5,0.4 2.5,0.5 2.5,0.6 2.5,0.7 2.5,0.8 2.5,0.9 2.5,1 2.5,1.3 2.5,1.5 2.5,1.7 2.5,2 2.5,2.5 2.5,2.9 2.5,3.5 2.5,4.3 2.5,5.2 2.5,6.4 2.5,7.6 2.5,9.2 2.5,10.6 2.5,11.8 2.5,12.6 2.5,13.2 2.5,13.9 2.5,14.8 2.5,15.2 2.5,12.9 2.5,6.6 2.5,-3.2 2.5,-13.1 2.5,-19.2 2.5,-20.8 2.5,-19.5 2.5,-16.7 2.5,-13.7 2.5,-11.1 2.5,-8.8 2.5,-7.2 2.5,-5.8 2.5,-4.7 2.5,-3.9 2.5,-3.2 2.5,-2.7 2.5,-2.2 2.5,-2 2.5,-1.6 2.5,-1.5 2.5,-1.2 2.5,-1.1 2.5,-0.9 2.5,-0.9 2.5,-0.7 2.5,-0.7 2.5,-0.6 2.5,-0.5 2.5,-0.5 2.5,-0.4 2.5,-0.4 2.5,-0.4 2.5,-0.3 2.5,-0.3 2.5,-0.3 2.5,-0.3 2.5,-0.2 2.5,-0.2 2.5,-0.2 2.5,-0.2 2.5,-0.2 2.5,-0.2 2.5,-0.1 2.5,-0.2 2.5,-0.1 2.5,-0.1 2.5,-0.1 2.5,-0.2 2.5,-0.1 2.5,-0.1 2.5,-0.1 2.5,0 2.5,-0.1 2.5,-0.1 2.5,-0.1 2.5,-0.1 2.5,0 2.5,-0.1 2.5,0 2.5,-0.1 2.5,-0.1 2.5,0 2.5,-0.1 2.5,0 2.5,-0.1 2.5,0 2.5,-0.1 2.5,0 2.5,0 2.5,-0.1 2.5,0 2.5,-0.1 2.5,0 2.5,0 2.5,-0.1 2.5,0 2.5,0 2.5,0 2.5,-0.1 2.5,0 2.5,0 2.5,0 2.5,-0.1 2.5,0 2.5,0 2.5,0 2.5,-0.1 2.5,0 2.5,0 2.5,0 2.5,0 2.5,-0.1 2.5,0 1.2,0 0,-1" fill="#00ff00"/>
<path d="M148.8,2597l0,0.1 2.5,0 2.5,0 2.5,0 2.5,0 2.5,0 2.5,0 2.5,0 2.5,0 2.5,0 2.5,0 2.5,0 2.5,0 2.5,0 2.5,0 2.5,0 2.5,0 2.5,0 2.5,0 2.5,0 2.5,0 2.5,0 2.5,0 2.5,0 2.5,0 2.5,0 2.5,0 2.5,0 2.5,0 2.5,0 2.5,0 2.5,0 2.5,0 2.5,0 2.5,0 2.5,0 2.5,0 2.5,0 2.5,0 2.5,0 2.5,0 2.5,0 2.5,0 2.5,0 2.5,0 2.5,0 2.5,0 2.5,0 2.5,0 2.5,0 2.5,0 2.5,0 2.5,0 2.5,0.1 2.5,0 2.5,0 2.5,0 2.5,0 2.5,0 2.5,0 2.5,0 2.5,0 2.5,0 2.5,0 2.5,0 2.5,0 2.5,0 2.5,0 2.5,0.1 2.5,0 2.5,0 2.5,0 2.5,0 2.5,0 2.5,0 2.5,0 2.5,0.1 2.5,0 2.5,0 2.5,0 2.5,0 2.5,0.1 2.5,0 2.5,0 2.5,0.1 2.5,0 2.5,0.1 2.5,0 2.5,0.1 2.5,0 2.5,0.1 2.5,0.1 2.5,0.1 2.5,0.1 2.5,0.1 2.5,0.2 2.5,0.2 2.5,0.2 2.5,0.3 2.5,0.3 2.5,0.4 2.5,0.6 2.5,0.7 2.5,1 2.5,1.3 2.5,1.8 2.5,2.8 2.5,4.2 2.5,6.5 2.5,9.7 2.5,12.5 2.5,8.3 2.5,-4.2 2.5,-12.1 2.5,-11.1 2.5,-7.5 2.5,-4.9 2.5,-3.2 2.5,-2.2 2.5,-1.4 2.5,-1.1 2.5,-0.8 2.5,-0.6 2.5,-0.4 2.5,-0.4 2.5,-0.3 2.5,-0.2 2.5,-0.2 2.5,-0.1 2.5,-0.2 2.5,-0.1 2.5,0 2.5,-0.1 2.5,-0.1 2.5,0 2.5,0 2.5,-0.1 2.5,0 2.5,0 2.5,0 2.5,0 2.5,0 2.5,0.1 2.5,0 2.5,0 2.5,0.1 2.5,0.1 2.5,0 2.5,0.1 2.5,0.2 2.5,0.1 2.5,0.2 2.5,0.2 2.5,0.3 2.5,0.4 2.5,0.4 2.5,0.6 2.5,0.7 2.5,1.1 2.5,1.4 2.5,2 2.5,3 2.5,4.3 2.5,6.2 2.5,8.2 2.5,7.5 2.5,1.5 2.5,-6 2.5,-8.4 2.5,-7 2.5,-5 2.5,-3.4 2.5,-2.3 2.5,-1.6 2.5,-1.2 2.5,-0.8 2.5,-0.7 2.5,-0.5 2.5,-0.4 2.5,-0.3 2.5,-0.2 2.5,-0.3 2.5,-0.1 2.5,-0.2 2.5,-0.1 2.5,-0.1 2.5,-0.1 2.5,-0.1 2.5,0 2.5,-0.1 2.5,0 2.5,-0.1 2.5,0 2.5,-0.1 2.5,0 2.5,0 2.5,0 2.5,-0.1 2.5,0 2.5,0 2.5,0 2.5,0 2.5,0 2.5,0 2.5,0 2.5,0 2.5,0 2.5,0 2.5,0 2.5,0 2.5,0 2.5,0 2.5,0 2.5,0 2.5,0 2.5,0.1 2.5,0 2.5,0.1 2.5,0 2.5,0.1 2.5,0.2 2.5,0.1 2.5,0.2 2.5,0.3 2.5,0.4 2.5,0.7 2.5,1 2.5,1.8 2.5,3.2 2.5,5.9 2.5,7.3 2.5,-0.3 2.5,-7.5 2.5,-5.6 2.5,-3.2 2.5,-1.7 2.5,-1 2.5,-0.6 2.5,-0.4 2.5,-0.3 2.5,-0.2 2.5,-0.2 2.5,-0.1 2.5,-0.1 2.5,0 2.5,-0.1 2.5,0 2.5,-0.1 2.5,0 2.5,0 2.5,0 2.5,0 2.5,0 2.5,-0.1 2.5,0 2.5,0 2.5,0.1 2.5,0 2.5,0 2.5,0 2.5,0 2.5,0 2.5,0.1 2.5,0 2.5,0.1 2.5,0 2.5,0.1 2.5,0.1 2.5,0.1 2.5,0.2 2.5,0.2 2.5,0.3 2.5,0.4 2.5,0.5 2.5,0.8 2.5,1.4 2.5,2.1 2.5,3.7 2.5,5.9 2.5,6.4 2.5,-0.2 2.5,-6.5 2.5,-5.8 2.5,-3.6 2.5,-2.1 2.5,-1.3 2.5,-0.8 2.5,-0.6 2.5,-0.3 2.5,-0.3 2.5,-0.2 2.5,-0.2 2.5,-0.1 2.5,-0.1 2.5,0 2.5,-0.1 2.5,-0.1 2.5,0 2.5,0 2.5,0 2.5,-0.1 2.5,0 2.5,0 2.5,0 2.5,0 2.5,0 2.5,0 2.5,0 2.5,0 2.5,0 2.5,0 2.5,0 2.5,0 2.5,0.1 2.5,0 2.5,0 2.5,0 2.5,0.1 2.5,0 2.5,0 2.5,0.1 2.5,0 2.5,0.1 2.5,0.1 2.5,0 2.5,0.1 2.5,0.1 2.5,0.2 2.5,0.1 2.5,0.2 2.5,0.2 2.5,0.3 2.5,0.3 2.5,0.5 2.5,0.5 2.5,0.7 2.5,1 2.5,1.2 2.5,1.9 2.5,2.5 2.5,3.8 2.5,5.6 2.5,7.5 2.5,8.1 2.5,3.9 2.5,-3.7 2.5,-8 2.5,-7.6 2.5,-5.6 2.5,-3.8 2.5,-2.7 2.5,-1.8 2.5,-1.3 2.5,-0.9 2.5,-0.8 2.5,-0.5 2.5,-0.4 2.5,-0.4 2.5,-0.2 2.5,-0.3 2.5,-0.1 2.5,-0.2 2.5,-0.1 2.5,-0.1 2.5,-0.1 2.5,-0.1 2.5,-0.1 2.5,0 2.5,-0.1 2.5,0 2.5,-0.1 2.5,0 2.5,0 2.5,0 2.5,-0.1 2.5,0 2.5,0 2.5,0 2.5,0 2.5,0 2.5,0 2.5,0 2.5,0 2.5,0 2.5,0 2.5,0 2.5,0 2.5,0 2.5,0 2.5,0.1 2.5,0 2.5,0 2.5,0 2.5,0.1 2.5,0 2.5,0.1 2.5,0 2.5,0.1 2.5,0.1 2.5,0.1 2.5,0.1 2.5,0.1 2.5,0.1 2.5,0.2 2.5,0.2 2.5,0.3 2.5,0.3 2.5,0.4 2.5,0.5 2.5,0.7 2.5,0.9 2.5,1.2 2.5,1.7 2.5,2.5 2.5,3.6 2.5,5.6 2.5,8.4 2.5,11.6 2.5,11 2.5,1.4 2.5,-9.7 2.5,-12 2.5,-9.2 2.5,-6.1 2.5,-4 2.5,-2.6 2.5,-1.9 2.5,-1.3 2.5,-0.9 2.5,-0.8 2.5,-0.5 2.5,-0.4 2.5,-0.4 2.5,-0.3 2.5,-0.2 2.5,-0.2 2.5,-0.1 2.5,-0.2 2.5,-0.1 2.5,-0.1 2.5,-0.1 2.5,-0.1 2.5,0 2.5,-0.1 2.5,0 2.5,-0.1 2.5,0 2.5,-0.1 2.5,0 2.5,0 2.5,0 2.5,-0.1 2.5,0 2.5,0 2.5,0 2.5,-0.1 2.5,0 2.5,0 2.5,0 2.5,0 2.5,0 2.5,0 2.5,0 2.5,-0.1 2.5,0 2.5,0 2.5,0 2.5,0 2.5,0 2.5,0 2.5,0 2.5,0 2.5,0 2.5,0 2.5,0 2.5,0 2.5,0 2.5,-0.1 2.5,0 2.5,0 2.5,0 2.5,0 2.5,0 2.5,0 2.5,0 2.5,0 2.5,0 2.5,0 2.5,0 2.5,0 2.5,0 2.5,0 2.5,0 2.5,0 2.5,0 2.5,0 2.5,0 2.5,0 2.5,0 2.5,0 2.5,0 2.5,0 2.5,0 2.5,0 2.5,0 2.5,0 2.5,0 2.5,0 2.5,0 2.5,0 1.2,0 0,-0.1" fill="#00ffff" stroke="#a040f0" stroke-width="2"/>
<path d="M148.8,2597.0H1422.5" stroke="#a040f0" stroke-width="2"/>
<path d="M148.8,2597.9l2.5,0 2.5,0 2.5,0.1 2.5,0 2.5,0 2.5,0 2.5,0 2.5,0 2.5,0 2.5,0.1 2.5,0 2.5,0 2.5,0 2.5,0 2.5,0 2.5,0.1 2.5,0 2.5,0 2.5,0 2.5,0 2.5,0.1 2.5,0 2.5,0 2.5,0 2.5,0.1 2.5,0 2.5,0 2.5,0 2.5,0.1 2.5,0 2.5,0 2.5,0.1 2.5,0 2.5,0 2.5,0.1 2.5,0 2.5,0 2.5,0.1 2.5,0 2.5,0 2.5,0.1 2.5,0 2.5,0.1 2.5,0 2.5,0.1 2.5,0 2.5,0.1 2.5,0 2.5,0.1 2.5,0 2.5,0.1 2.5,0.1 2.5,0 2.5,0.1 2.5,0.1 2.5,0.1 2.5,0 2.5,0.1 2.5,0.1 2.5,0.1 2.5,0.1 2.5,0.1 2.5,0.1 2.5,0.1 2.5,0.1 2.5,0.2 2.5,0.1 2.5,0.1 2.5,0.2 2.5,0.2 2.5,0.1 2.5,0.2 2.5,0.2 2.5,0.2 2.5,0.2 2.5,0.3 2.5,0.2 2.5,0.3 2.5,0.3 2.5,0.3 2.5,0.4 2.5,0.4 2.5,0.4 2.5,0.4 2.5,0.5 2.5,0.6 2.5,0.6 2.5,0.6 2.5,0.8 2.5,0.8 2.5,0.9 2.5,1 2.5,1.2 2.5,1.3 2.5,1.5 2.5,1.7 2.5,1.9 2.5,2.3 2.5,2.7 2.5,3.1 2.5,3.8 2.5,4.5 2.5,5.5 2.5,6.8 2.5,8.3 2.5,10.4 2.5,12.7 2.5,15 2.5,16.4 2.5,15.9 2.5,13.3 2.5,10.8 2.5,9.1 2.5,7.3 2.5,3.8 2.5,-1.6 2.5,-7.8 2.5,-12.9 2.5,-15.9 2.5,-16.6 2.5,-15.7 2.5,-14.1 2.5,-12.1 2.5,-10.2 2.5,-8.5 2.5,-7.1 2.5,-6 2.5,-4.9 2.5,-4.1 2.5,-3.4 2.5,-2.9 2.5,-2.5 2.5,-2.1 2.5,-1.7 2.5,-1.5 2.5,-1.3 2.5,-1.1 2.5,-0.9 2.5,-0.7 2.5,-0.6 2.5,-0.5 2.5,-0.4 2.5,-0.2 2.5,-0.2 2.5,0 2.5,0 2.5,0.1 2.5,0.3 2.5,0.3 2.5,0.5 2.5,0.6 2.5,0.8 2.5,0.9 2.5,1.1 2.5,1.3 2.5,1.5 2.5,1.9 2.5,2.2 2.5,2.6 2.5,3.1 2.5,3.8 2.5,4.5 2.5,5.4 2.5,6.5 2.5,7.8 2.5,9.3 2.5,10.8 2.5,12.2 2.5,13 2.5,12.7 2.5,10.5 2.5,6.3 2.5,0.5 2.5,-5.3 2.5,-10 2.5,-12.5 2.5,-13.1 2.5,-12.5 2.5,-11.2 2.5,-9.7 2.5,-8.1 2.5,-6.9 2.5,-5.7 2.5,-4.8 2.5,-4 2.5,-3.4 2.5,-2.8 2.5,-2.4 2.5,-2.1 2.5,-1.7 2.5,-1.6 2.5,-1.3 2.5,-1.1 2.5,-1 2.5,-0.8 2.5,-0.8 2.5,-0.6 2.5,-0.5 2.5,-0.5 2.5,-0.4 2.5,-0.4 2.5,-0.2 2.5,-0.3 2.5,-0.1 2.5,-0.2 2.5,0 2.5,0 2.5,0 2.5,0.1 2.5,0.1 2.5,0.2 2.5,0.2 2.5,0.4 2.5,0.4 2.5,0.5 2.5,0.5 2.5,0.8 2.5,0.8 2.5,1 2.5,1.2 2.5,1.4 2.5,1.8 2.5,2 2.5,2.5 2.5,3 2.5,3.6 2.5,4.4 2.5,5.3 2.5,6.2 2.5,7.2 2.5,7.8 2.5,8.1 2.5,7 2.5,4.8 2.5,1.4 2.5,-2.5 2.5,-5.6 2.5,-7.5 2.5,-8.1 2.5,-7.7 2.5,-6.9 2.5,-5.9 2.5,-5 2.5,-4.2 2.5,-3.4 2.5,-2.8 2.5,-2.4 2.5,-1.9 2.5,-1.6 2.5,-1.4 2.5,-1.1 2.5,-1 2.5,-0.7 2.5,-0.7 2.5,-0.5 2.5,-0.4 2.5,-0.3 2.5,-0.2 2.5,-0.1 2.5,-0.1 2.5,0.1 2.5,0.1 2.5,0.2 2.5,0.3 2.5,0.5 2.5,0.5 2.5,0.7 2.5,0.9 2.5,1.2 2.5,1.3 2.5,1.8 2.5,2.1 2.5,2.8 2.5,3.4 2.5,4.3 2.5,5.4 2.5,6.8 2.5,8.3 2.5,9.5 2.5,10 2.5,8.6 2.5,4.6 2.5,-1 2.5,-6.3 2.5,-9.4 2.5,-10 2.5,-9.2 2.5,-7.8 2.5,-6.3 2.5,-5.1 2.5,-4 2.5,-3.2 2.5,-2.5 2.5,-2.1 2.5,-1.6 2.5,-1.4 2.5,-1.1 2.5,-0.9 2.5,-0.8 2.5,-0.6 2.5,-0.5 2.5,-0.4 2.5,-0.3 2.5,-0.3 2.5,-0.2 2.5,-0.1 2.5,-0.1 2.5,0 2.5,0 2.5,0 2.5,0.1 2.5,0.2 2.5,0.2 2.5,0.2 2.5,0.3 2.5,0.3 2.5,0.4 2.5,0.4 2.5,0.5 2.5,0.6 2.5,0.7 2.5,0.7 2.5,0.9 2.5,1 2.5,1.2 2.5,1.3 2.5,1.5 2.5,1.7 2.5,2.1 2.5,2.4 2.5,2.8 2.5,3.3 2.5,3.9 2.5,4.6 2.5,5.6 2.5,6.7 2.5,8 2.5,9.7 2.5,11.4 2.5,13.2 2.5,14.7 2.5,15.5 2.5,14.6 2.5,11.2 2.5,5.5 2.5,-1.7 2.5,-8.3 2.5,-13.1 2.5,-15.2 2.5,-15.3 2.5,-14.1 2.5,-12.4 2.5,-10.5 2.5,-8.9 2.5,-7.4 2.5,-6.1 2.5,-5.1 2.5,-4.3 2.5,-3.6 2.5,-3 2.5,-2.6 2.5,-2.2 2.5,-1.9 2.5,-1.6 2.5,-1.4 2.5,-1.2 2.5,-1 2.5,-0.9 2.5,-0.8 2.5,-0.7 2.5,-0.6 2.5,-0.5 2.5,-0.5 2.5,-0.4 2.5,-0.3 2.5,-0.2 2.5,-0.3 2.5,-0.1 2.5,-0.1 2.5,-0.1 2.5,0 2.5,0 2.5,0 2.5,0.1 2.5,0.2 2.5,0.2 2.5,0.3 2.5,0.3 2.5,0.4 2.5,0.4 2.5,0.5 2.5,0.7 2.5,0.7 2.5,0.9 2.5,1 2.5,1.1 2.5,1.4 2.5,1.6 2.5,1.8 2.5,2.3 2.5,2.6 2.5,3.2 2.5,3.9 2.5,4.6 2.5,5.7 2.5,6.9 2.5,8.3 2.5,9.9 2.5,11.5 2.5,12.9 2.5,13.7 2.5,14.4 2.5,15 2.5,16.2 2.5,16.4 2.5,14.1 2.5,7.2 2.5,-3.6 2.5,-14.1 2.5,-20.9 2.5,-22.7 2.5,-21.1 2.5,-18.2 2.5,-14.9 2.5,-12 2.5,-9.7 2.5,-7.7 2.5,-6.3 2.5,-5.1 2.5,-4.2 2.5,-3.5 2.5,-3 2.5,-2.4 2.5,-2.1 2.5,-1.8 2.5,-1.6 2.5,-1.3 2.5,-1.2 2.5,-1.1 2.5,-0.9 2.5,-0.8 2.5,-0.7 2.5,-0.7 2.5,-0.5 2.5,-0.6 2.5,-0.4 2.5,-0.5 2.5,-0.4 2.5,-0.3 2.5,-0.4 2.5,-0.3 2.5,-0.2 2.5,-0.3 2.5,-0.2 2.5,-0.3 2.5,-0.2 2.5,-0.2 2.5,-0.1 2.5,-0.2 2.5,-0.2 2.5,-0.1 2.5,-0.1 2.5,-0.2 2.5,-0.1 2.5,-0.1 2.5,-0.1 2.5,-0.1 2.5,-0.1 2.5,-0.1 2.5,-0.1 2.5,-0.1 2.5,0 2.5,-0.1 2.5,-0.1 2.5,-0.1 2.5,0 2.5,-0.1 2.5,0 2.5,-0.1 2.5,-0.1 2.5,0 2.5,-0.1 2.5,0 2.5,-0.1 2.5,0 2.5,0 2.5,-0.1 2.5,0 2.5,-0.1 2.5,0 2.5,0 2.5,-0.1 2.5,0 2.5,0 2.5,-0.1 2.5,0 2.5,0 2.5,0 2.5,-0.1 2.5,0 2.5,0 2.5,0 2.5,-0.1 2.5,0 2.5,0 2.5,0 2.5,0 2.5,-0.1 2.5,0 1.2,0" fill="none" stroke="#0000ff" stroke-width="9.5" stroke-linejoin="round"/>
</g>
<rect x="148.8" y="73.7" width="1273.7" height="2810.8" fill="none" stroke="#000" stroke-width="3"/>
<path d="M148.8,2884.5v-13 M201.8,2884.5v-13 M254.9,2884.5v-25 M308.0,2884.5v-13 M361.0,2884.5v-13 M414.1,2884.5v-13 M467.2,2884.5v-13 M520.2,2884.5v-25 M573.3,2884.5v-13 M626.4,2884.5v-13 M679.5,2884.5v-13 M732.5,2884.5v-13 M785.6,2884.5v-25 M838.7,2884.5v-13 M891.7,2884.5v-13 M944.8,2884.5v-13 M997.9,2884.5v-13 M1051.0,2884.5v-25 M1104.0,2884.5v-13 M1157.1,2884.5v-13 M1210.2,2884.5v-13 M1263.2,2884.5v-13 M1316.3,2884.5v-25 M1369.4,2884.5v-13 M1422.4,2884.5v-13" stroke="#000" stroke-width="3"/>
<text x="254.9" y="2961" font-size="64" text-anchor="middle">-10</text>
<text x="520.2" y="2961" font-size="64" text-anchor="middle">-5</text>
<text x="785.6" y="2961" font-size="64" text-anchor="middle">0</text>
<text x="1051.0" y="2961" font-size="64" text-anchor="middle">5</text>
<text x="1316.3" y="2961" font-size="64" text-anchor="middle">10</text>
<text x="811.7" y="3056" font-size="70" text-anchor="middle">Velocity (mm/s)</text>
<text transform="translate(89,1374.5) rotate(-90)" font-size="72" text-anchor="middle">Intensity (arb. un.)</text>
<text x="170.5" y="352.4" font-size="59">69.0 GPa</text>
<text x="169.9" y="758.2" font-size="59">64.0 GPa</text>
<text x="156.1" y="1089.3" font-size="59">51.8 GPa</text>
<text x="162.4" y="1464.1" font-size="59">45.0 GPa</text>
<text x="163.7" y="1812.9" font-size="59">18.6 GPa</text>
<text x="163.7" y="2137.4" font-size="59">13.2 GPa</text>
<text x="162.0" y="2507.7" font-size="59">3.8 GPa</text>
<text x="160.6" y="2841.6" font-size="59">Ambient pressure</text>
<text x="1166.2" y="379.7" font-size="59">T = 3.9 K</text>
<text x="1166.2" y="775.1" font-size="59">T = 3.9 K</text>
<text x="1166.2" y="1119.3" font-size="59">T = 3.0 K</text>
<text x="1169.2" y="1471.4" font-size="59">T = 3.9 K</text>
<text x="1169.2" y="1804.5" font-size="59">T = 4.9 K</text>
<text x="1169.2" y="2139.0" font-size="59">T = 4.9 K</text>
<text x="1169.2" y="2499.3" font-size="59">T = 4.5 K</text>
<text x="1169.2" y="2863.8" font-size="59">T = 6.3 K</text>
</svg>
</body></html>
